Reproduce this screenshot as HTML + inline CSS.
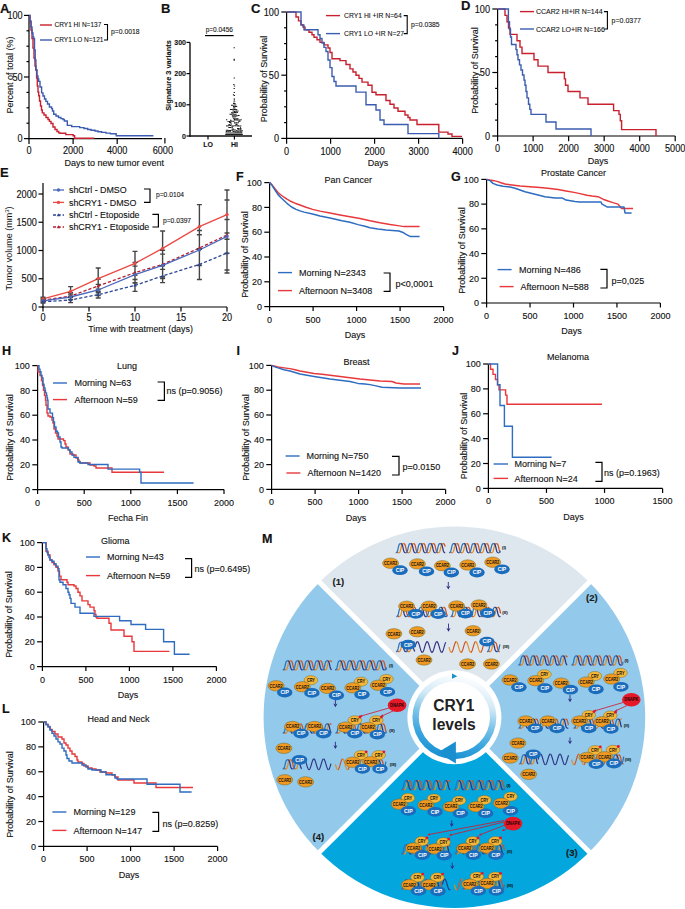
<!DOCTYPE html><html><head><meta charset="utf-8"><style>html,body{margin:0;padding:0;background:#fff;}svg{display:block;}</style></head><body>
<svg width="685" height="909" viewBox="0 0 685 909" font-family='"Liberation Sans", sans-serif'>
<rect width="685" height="909" fill="#fff"/>
<text x="262" y="543.1" font-size="12.5" text-anchor="start" font-weight="bold" fill="#111" stroke="#111" stroke-width="0.17">M</text>
<path d="M454.4 717.2L319.48 582.28A190.8 190.8 0 0 1 589.32 582.28Z" fill="#dfe7ee"/>
<path d="M454.4 717.2L589.32 582.28A190.8 190.8 0 0 1 589.32 852.12Z" fill="#93c9ea"/>
<path d="M454.4 717.2L589.32 852.12A190.8 190.8 0 0 1 319.48 852.12Z" fill="#03a6dd"/>
<path d="M454.4 717.2L319.48 852.12A190.8 190.8 0 0 1 319.48 582.28Z" fill="#93c9ea"/>
<line x1="454.4" y1="717.2" x2="590.73" y2="853.53" stroke="#fff" stroke-width="5"/>
<line x1="454.4" y1="717.2" x2="318.07" y2="853.53" stroke="#fff" stroke-width="5"/>
<line x1="454.4" y1="717.2" x2="318.07" y2="580.87" stroke="#fff" stroke-width="5"/>
<line x1="454.4" y1="717.2" x2="590.73" y2="580.87" stroke="#fff" stroke-width="5"/>
<path d="M398.5 552.8 L398.91 552.74 L399.32 552.56 L399.74 552.18 L400.15 551.43 L400.56 550.11 L400.98 548.2 L401.39 546.29 L401.8 544.97 L402.21 544.22 L402.62 543.84 L403.04 543.66 L403.45 543.6M408.4 552.8 L408.81 552.74 L409.22 552.56 L409.64 552.18 L410.05 551.43 L410.46 550.11 L410.88 548.2 L411.29 546.29 L411.7 544.97 L412.11 544.22 L412.52 543.84 L412.94 543.66 L413.35 543.6M418.3 552.8 L418.71 552.74 L419.12 552.56 L419.54 552.18 L419.95 551.43 L420.36 550.11 L420.77 548.2 L421.19 546.29 L421.6 544.97 L422.01 544.22 L422.43 543.84 L422.84 543.66 L423.25 543.6M428.2 552.8 L428.61 552.74 L429.02 552.56 L429.44 552.18 L429.85 551.43 L430.26 550.11 L430.67 548.2 L431.09 546.29 L431.5 544.97 L431.91 544.22 L432.32 543.84 L432.74 543.66 L433.15 543.6M438.1 552.8 L438.51 552.74 L438.93 552.56 L439.34 552.18 L439.75 551.43 L440.16 550.11 L440.58 548.2 L440.99 546.29 L441.4 544.97 L441.81 544.22 L442.23 543.84 L442.64 543.66 L443.05 543.6" fill="none" stroke="#e58c1d" stroke-width="1.25"/>
<path d="M396.9 551.55 L397.3 552.22 L397.7 552.58 L398.1 552.75 L398.5 552.8M403.45 543.6 L403.86 543.66 L404.27 543.84 L404.69 544.22 L405.1 544.97 L405.51 546.29 L405.92 548.2 L406.34 550.11 L406.75 551.43 L407.16 552.18 L407.57 552.56 L407.99 552.74 L408.4 552.8M413.35 543.6 L413.76 543.66 L414.18 543.84 L414.59 544.22 L415 544.97 L415.41 546.29 L415.83 548.2 L416.24 550.11 L416.65 551.43 L417.06 552.18 L417.48 552.56 L417.89 552.74 L418.3 552.8M423.25 543.6 L423.66 543.66 L424.07 543.84 L424.49 544.22 L424.9 544.97 L425.31 546.29 L425.73 548.2 L426.14 550.11 L426.55 551.43 L426.96 552.18 L427.38 552.56 L427.79 552.74 L428.2 552.8M433.15 543.6 L433.56 543.66 L433.97 543.84 L434.39 544.22 L434.8 544.97 L435.21 546.29 L435.62 548.2 L436.04 550.11 L436.45 551.43 L436.86 552.18 L437.27 552.56 L437.69 552.74 L438.1 552.8M443.05 543.6 L443.48 543.66 L443.91 543.86 L444.34 544.29 L444.77 545.14 L445.2 546.66" fill="none" stroke="#c8532a" stroke-width="1.25"/>
<path d="M395.7 552.8 L396.11 552.74 L396.52 552.56 L396.94 552.18 L397.35 551.43 L397.76 550.11 L398.17 548.2 L398.59 546.29 L399 544.97 L399.41 544.22 L399.82 543.84 L400.24 543.66 L400.65 543.6M405.6 552.8 L406.01 552.74 L406.42 552.56 L406.84 552.18 L407.25 551.43 L407.66 550.11 L408.07 548.2 L408.49 546.29 L408.9 544.97 L409.31 544.22 L409.72 543.84 L410.14 543.66 L410.55 543.6M415.5 552.8 L415.91 552.74 L416.32 552.56 L416.74 552.18 L417.15 551.43 L417.56 550.11 L417.98 548.2 L418.39 546.29 L418.8 544.97 L419.21 544.22 L419.62 543.84 L420.04 543.66 L420.45 543.6M425.4 552.8 L425.81 552.74 L426.22 552.56 L426.64 552.18 L427.05 551.43 L427.46 550.11 L427.88 548.2 L428.29 546.29 L428.7 544.97 L429.11 544.22 L429.52 543.84 L429.94 543.66 L430.35 543.6M435.3 552.8 L435.71 552.74 L436.12 552.56 L436.54 552.18 L436.95 551.43 L437.36 550.11 L437.77 548.2 L438.19 546.29 L438.6 544.97 L439.01 544.22 L439.43 543.84 L439.84 543.66 L440.25 543.6" fill="none" stroke="#2b74bd" stroke-width="1.25"/>
<path d="M400.65 543.6 L401.06 543.66 L401.47 543.84 L401.89 544.22 L402.3 544.97 L402.71 546.29 L403.12 548.2 L403.54 550.11 L403.95 551.43 L404.36 552.18 L404.77 552.56 L405.19 552.74 L405.6 552.8M410.55 543.6 L410.96 543.66 L411.38 543.84 L411.79 544.22 L412.2 544.97 L412.61 546.29 L413.02 548.2 L413.44 550.11 L413.85 551.43 L414.26 552.18 L414.68 552.56 L415.09 552.74 L415.5 552.8M420.45 543.6 L420.86 543.66 L421.27 543.84 L421.69 544.22 L422.1 544.97 L422.51 546.29 L422.92 548.2 L423.34 550.11 L423.75 551.43 L424.16 552.18 L424.57 552.56 L424.99 552.74 L425.4 552.8M430.35 543.6 L430.76 543.66 L431.17 543.84 L431.59 544.22 L432 544.97 L432.41 546.29 L432.82 548.2 L433.24 550.11 L433.65 551.43 L434.06 552.18 L434.47 552.56 L434.89 552.74 L435.3 552.8M440.25 543.6 L440.66 543.66 L441.07 543.84 L441.49 544.22 L441.9 544.97 L442.31 546.29 L442.73 548.2 L443.14 550.11 L443.55 551.43 L443.96 552.18 L444.38 552.56 L444.79 552.74 L445.2 552.8" fill="none" stroke="#2c3585" stroke-width="1.25"/>
<path d="M451.8 552.8 L452.21 552.74 L452.62 552.56 L453.04 552.18 L453.45 551.43 L453.86 550.11 L454.27 548.2 L454.69 546.29 L455.1 544.97 L455.51 544.22 L455.93 543.84 L456.34 543.66 L456.75 543.6M461.7 552.8 L462.11 552.74 L462.52 552.56 L462.94 552.18 L463.35 551.43 L463.76 550.11 L464.17 548.2 L464.59 546.29 L465 544.97 L465.41 544.22 L465.82 543.84 L466.24 543.66 L466.65 543.6M471.6 552.8 L472.01 552.74 L472.43 552.56 L472.84 552.18 L473.25 551.43 L473.66 550.11 L474.08 548.2 L474.49 546.29 L474.9 544.97 L475.31 544.22 L475.73 543.84 L476.14 543.66 L476.55 543.6M481.5 552.8 L481.91 552.74 L482.32 552.56 L482.74 552.18 L483.15 551.43 L483.56 550.11 L483.98 548.2 L484.39 546.29 L484.8 544.97 L485.21 544.22 L485.62 543.84 L486.04 543.66 L486.45 543.6M491.4 552.8 L491.81 552.74 L492.23 552.56 L492.64 552.18 L493.05 551.43 L493.46 550.11 L493.88 548.2 L494.29 546.29 L494.7 544.97 L495.11 544.22 L495.53 543.84 L495.94 543.66 L496.35 543.6" fill="none" stroke="#e58c1d" stroke-width="1.25"/>
<path d="M450.2 551.55 L450.6 552.22 L451 552.58 L451.4 552.75 L451.8 552.8M456.75 543.6 L457.16 543.66 L457.57 543.84 L457.99 544.22 L458.4 544.97 L458.81 546.29 L459.23 548.2 L459.64 550.11 L460.05 551.43 L460.46 552.18 L460.88 552.56 L461.29 552.74 L461.7 552.8M466.65 543.6 L467.06 543.66 L467.48 543.84 L467.89 544.22 L468.3 544.97 L468.71 546.29 L469.12 548.2 L469.54 550.11 L469.95 551.43 L470.36 552.18 L470.78 552.56 L471.19 552.74 L471.6 552.8M476.55 543.6 L476.96 543.66 L477.38 543.84 L477.79 544.22 L478.2 544.97 L478.61 546.29 L479.02 548.2 L479.44 550.11 L479.85 551.43 L480.26 552.18 L480.68 552.56 L481.09 552.74 L481.5 552.8M486.45 543.6 L486.86 543.66 L487.27 543.84 L487.69 544.22 L488.1 544.97 L488.51 546.29 L488.92 548.2 L489.34 550.11 L489.75 551.43 L490.16 552.18 L490.57 552.56 L490.99 552.74 L491.4 552.8M496.35 543.6 L496.75 543.65 L497.16 543.83 L497.56 544.2 L497.97 544.9 L498.38 546.14 L498.78 547.98 L499.19 549.89 L499.59 551.28 L500 552.08 L500.4 552.51" fill="none" stroke="#c8532a" stroke-width="1.25"/>
<path d="M449 552.8 L449.41 552.74 L449.82 552.56 L450.24 552.18 L450.65 551.43 L451.06 550.11 L451.48 548.2 L451.89 546.29 L452.3 544.97 L452.71 544.22 L453.12 543.84 L453.54 543.66 L453.95 543.6M458.9 552.8 L459.31 552.74 L459.72 552.56 L460.14 552.18 L460.55 551.43 L460.96 550.11 L461.38 548.2 L461.79 546.29 L462.2 544.97 L462.61 544.22 L463.02 543.84 L463.44 543.66 L463.85 543.6M468.8 552.8 L469.21 552.74 L469.62 552.56 L470.04 552.18 L470.45 551.43 L470.86 550.11 L471.27 548.2 L471.69 546.29 L472.1 544.97 L472.51 544.22 L472.93 543.84 L473.34 543.66 L473.75 543.6M478.7 552.8 L479.11 552.74 L479.52 552.56 L479.94 552.18 L480.35 551.43 L480.76 550.11 L481.17 548.2 L481.59 546.29 L482 544.97 L482.41 544.22 L482.82 543.84 L483.24 543.66 L483.65 543.6M488.6 552.8 L489.01 552.74 L489.43 552.56 L489.84 552.18 L490.25 551.43 L490.66 550.11 L491.08 548.2 L491.49 546.29 L491.9 544.97 L492.31 544.22 L492.73 543.84 L493.14 543.66 L493.55 543.6M498.5 552.8 L498.98 552.73 L499.45 552.47 L499.92 551.9 L500.4 550.71" fill="none" stroke="#2b74bd" stroke-width="1.25"/>
<path d="M453.95 543.6 L454.36 543.66 L454.77 543.84 L455.19 544.22 L455.6 544.97 L456.01 546.29 L456.42 548.2 L456.84 550.11 L457.25 551.43 L457.66 552.18 L458.07 552.56 L458.49 552.74 L458.9 552.8M463.85 543.6 L464.26 543.66 L464.68 543.84 L465.09 544.22 L465.5 544.97 L465.91 546.29 L466.33 548.2 L466.74 550.11 L467.15 551.43 L467.56 552.18 L467.98 552.56 L468.39 552.74 L468.8 552.8M473.75 543.6 L474.16 543.66 L474.57 543.84 L474.99 544.22 L475.4 544.97 L475.81 546.29 L476.23 548.2 L476.64 550.11 L477.05 551.43 L477.46 552.18 L477.88 552.56 L478.29 552.74 L478.7 552.8M483.65 543.6 L484.06 543.66 L484.47 543.84 L484.89 544.22 L485.3 544.97 L485.71 546.29 L486.12 548.2 L486.54 550.11 L486.95 551.43 L487.36 552.18 L487.77 552.56 L488.19 552.74 L488.6 552.8M493.55 543.6 L493.96 543.66 L494.38 543.84 L494.79 544.22 L495.2 544.97 L495.61 546.29 L496.02 548.2 L496.44 550.11 L496.85 551.43 L497.26 552.18 L497.68 552.56 L498.09 552.74 L498.5 552.8" fill="none" stroke="#2c3585" stroke-width="1.25"/>
<text x="504" y="549.08" font-size="4.4" text-anchor="middle" font-weight="bold" fill="#111" stroke="#111" stroke-width="0.06">(I)</text>
<g transform="translate(390.6,563.2)"><ellipse rx="8" ry="5.2" fill="#f09a22" stroke="#6d6a2a" stroke-width="0.5"/><text y="1.7" font-size="4.8" font-weight="bold" text-anchor="middle" fill="#111" textLength="13" lengthAdjust="spacingAndGlyphs">CCAR2</text></g>
<g transform="translate(400,570.2)"><ellipse rx="7.7" ry="4.9" fill="#1a6cbc"/><text y="1.8" font-size="5" font-weight="bold" text-anchor="middle" fill="#fff" textLength="8.6" lengthAdjust="spacingAndGlyphs">CIP</text></g>
<g transform="translate(417.4,563.9)"><ellipse rx="8" ry="5.2" fill="#f09a22" stroke="#6d6a2a" stroke-width="0.5"/><text y="1.7" font-size="4.8" font-weight="bold" text-anchor="middle" fill="#111" textLength="13" lengthAdjust="spacingAndGlyphs">CCAR2</text></g>
<g transform="translate(426.5,571.4)"><ellipse rx="7.7" ry="4.9" fill="#1a6cbc"/><text y="1.8" font-size="5" font-weight="bold" text-anchor="middle" fill="#fff" textLength="8.6" lengthAdjust="spacingAndGlyphs">CIP</text></g>
<g transform="translate(442.4,565.7)"><ellipse rx="8" ry="5.2" fill="#f09a22" stroke="#6d6a2a" stroke-width="0.5"/><text y="1.7" font-size="4.8" font-weight="bold" text-anchor="middle" fill="#111" textLength="13" lengthAdjust="spacingAndGlyphs">CCAR2</text></g>
<g transform="translate(451.3,572.5)"><ellipse rx="7.7" ry="4.9" fill="#1a6cbc"/><text y="1.8" font-size="5" font-weight="bold" text-anchor="middle" fill="#fff" textLength="8.6" lengthAdjust="spacingAndGlyphs">CIP</text></g>
<g transform="translate(467.7,565)"><ellipse rx="8" ry="5.2" fill="#f09a22" stroke="#6d6a2a" stroke-width="0.5"/><text y="1.7" font-size="4.8" font-weight="bold" text-anchor="middle" fill="#111" textLength="13" lengthAdjust="spacingAndGlyphs">CCAR2</text></g>
<g transform="translate(477,572.5)"><ellipse rx="7.7" ry="4.9" fill="#1a6cbc"/><text y="1.8" font-size="5" font-weight="bold" text-anchor="middle" fill="#fff" textLength="8.6" lengthAdjust="spacingAndGlyphs">CIP</text></g>
<g transform="translate(492.7,562.2)"><ellipse rx="8" ry="5.2" fill="#f09a22" stroke="#6d6a2a" stroke-width="0.5"/><text y="1.7" font-size="4.8" font-weight="bold" text-anchor="middle" fill="#111" textLength="13" lengthAdjust="spacingAndGlyphs">CCAR2</text></g>
<g transform="translate(502,569.3)"><ellipse rx="7.7" ry="4.9" fill="#1a6cbc"/><text y="1.8" font-size="5" font-weight="bold" text-anchor="middle" fill="#fff" textLength="8.6" lengthAdjust="spacingAndGlyphs">CIP</text></g>
<line x1="448.3" y1="581.9" x2="448.3" y2="586.6" stroke="#2d2a86" stroke-width="0.9"/>
<path d="M448.3 589.6l-2.1 -3.8l2.1 1l2.1 -1z" fill="#2d2a86"/>
<path d="M399.1 616.6 L399.51 616.54 L399.93 616.36 L400.34 615.98 L400.75 615.23 L401.16 613.91 L401.58 612 L401.99 610.09 L402.4 608.77 L402.81 608.02 L403.23 607.64 L403.64 607.46 L404.05 607.4M409 616.6 L409.41 616.54 L409.82 616.36 L410.24 615.98 L410.65 615.23 L411.06 613.91 L411.48 612 L411.89 610.09 L412.3 608.77 L412.71 608.02 L413.12 607.64 L413.54 607.46 L413.95 607.4M418.9 616.6 L419.31 616.54 L419.73 616.36 L420.14 615.98 L420.55 615.23 L420.96 613.91 L421.38 612 L421.79 610.09 L422.2 608.77 L422.61 608.02 L423.03 607.64 L423.44 607.46 L423.85 607.4M428.8 616.6 L429.21 616.54 L429.62 616.36 L430.04 615.98 L430.45 615.23 L430.86 613.91 L431.27 612 L431.69 610.09 L432.1 608.77 L432.51 608.02 L432.93 607.64 L433.34 607.46 L433.75 607.4M438.7 616.6 L439.11 616.54 L439.53 616.36 L439.94 615.98 L440.35 615.23 L440.76 613.91 L441.18 612 L441.59 610.09 L442 608.77 L442.41 608.02 L442.83 607.64 L443.24 607.46 L443.65 607.4" fill="none" stroke="#e58c1d" stroke-width="1.25"/>
<path d="M397.5 615.35 L397.9 616.02 L398.3 616.38 L398.7 616.55 L399.1 616.6M404.05 607.4 L404.46 607.46 L404.88 607.64 L405.29 608.02 L405.7 608.77 L406.11 610.09 L406.52 612 L406.94 613.91 L407.35 615.23 L407.76 615.98 L408.18 616.36 L408.59 616.54 L409 616.6M413.95 607.4 L414.36 607.46 L414.78 607.64 L415.19 608.02 L415.6 608.77 L416.01 610.09 L416.43 612 L416.84 613.91 L417.25 615.23 L417.66 615.98 L418.08 616.36 L418.49 616.54 L418.9 616.6M423.85 607.4 L424.26 607.46 L424.68 607.64 L425.09 608.02 L425.5 608.77 L425.91 610.09 L426.33 612 L426.74 613.91 L427.15 615.23 L427.56 615.98 L427.98 616.36 L428.39 616.54 L428.8 616.6M433.75 607.4 L434.16 607.46 L434.57 607.64 L434.99 608.02 L435.4 608.77 L435.81 610.09 L436.23 612 L436.64 613.91 L437.05 615.23 L437.46 615.98 L437.88 616.36 L438.29 616.54 L438.7 616.6M443.65 607.4 L444.07 607.46 L444.48 607.65 L444.9 608.04 L445.32 608.81 L445.73 610.18 L446.15 612.12 L446.57 614.02 L446.98 615.31 L447.4 616.02" fill="none" stroke="#c8532a" stroke-width="1.25"/>
<path d="M396.3 616.6 L396.71 616.54 L397.12 616.36 L397.54 615.98 L397.95 615.23 L398.36 613.91 L398.77 612 L399.19 610.09 L399.6 608.77 L400.01 608.02 L400.43 607.64 L400.84 607.46 L401.25 607.4M406.2 616.6 L406.61 616.54 L407.02 616.36 L407.44 615.98 L407.85 615.23 L408.26 613.91 L408.67 612 L409.09 610.09 L409.5 608.77 L409.91 608.02 L410.32 607.64 L410.74 607.46 L411.15 607.4M416.1 616.6 L416.51 616.54 L416.93 616.36 L417.34 615.98 L417.75 615.23 L418.16 613.91 L418.58 612 L418.99 610.09 L419.4 608.77 L419.81 608.02 L420.23 607.64 L420.64 607.46 L421.05 607.4M426 616.6 L426.41 616.54 L426.82 616.36 L427.24 615.98 L427.65 615.23 L428.06 613.91 L428.48 612 L428.89 610.09 L429.3 608.77 L429.71 608.02 L430.12 607.64 L430.54 607.46 L430.95 607.4M435.9 616.6 L436.31 616.54 L436.73 616.36 L437.14 615.98 L437.55 615.23 L437.96 613.91 L438.38 612 L438.79 610.09 L439.2 608.77 L439.61 608.02 L440.03 607.64 L440.44 607.46 L440.85 607.4M445.8 616.6 L446.33 616.51 L446.87 616.17 L447.4 615.35" fill="none" stroke="#2b74bd" stroke-width="1.25"/>
<path d="M401.25 607.4 L401.66 607.46 L402.07 607.64 L402.49 608.02 L402.9 608.77 L403.31 610.09 L403.73 612 L404.14 613.91 L404.55 615.23 L404.96 615.98 L405.38 616.36 L405.79 616.54 L406.2 616.6M411.15 607.4 L411.56 607.46 L411.98 607.64 L412.39 608.02 L412.8 608.77 L413.21 610.09 L413.62 612 L414.04 613.91 L414.45 615.23 L414.86 615.98 L415.28 616.36 L415.69 616.54 L416.1 616.6M421.05 607.4 L421.46 607.46 L421.88 607.64 L422.29 608.02 L422.7 608.77 L423.11 610.09 L423.52 612 L423.94 613.91 L424.35 615.23 L424.76 615.98 L425.18 616.36 L425.59 616.54 L426 616.6M430.95 607.4 L431.36 607.46 L431.77 607.64 L432.19 608.02 L432.6 608.77 L433.01 610.09 L433.42 612 L433.84 613.91 L434.25 615.23 L434.66 615.98 L435.07 616.36 L435.49 616.54 L435.9 616.6M440.85 607.4 L441.26 607.46 L441.68 607.64 L442.09 608.02 L442.5 608.77 L442.91 610.09 L443.33 612 L443.74 613.91 L444.15 615.23 L444.56 615.98 L444.98 616.36 L445.39 616.54 L445.8 616.6" fill="none" stroke="#2c3585" stroke-width="1.25"/>
<path d="M453.3 616.6 L453.71 616.54 L454.12 616.36 L454.54 615.98 L454.95 615.23 L455.36 613.91 L455.77 612 L456.19 610.09 L456.6 608.77 L457.01 608.02 L457.43 607.64 L457.84 607.46 L458.25 607.4M463.2 616.6 L463.61 616.54 L464.02 616.36 L464.44 615.98 L464.85 615.23 L465.26 613.91 L465.67 612 L466.09 610.09 L466.5 608.77 L466.91 608.02 L467.32 607.64 L467.74 607.46 L468.15 607.4M473.1 616.6 L473.51 616.54 L473.93 616.36 L474.34 615.98 L474.75 615.23 L475.16 613.91 L475.58 612 L475.99 610.09 L476.4 608.77 L476.81 608.02 L477.23 607.64 L477.64 607.46 L478.05 607.4M483 616.6 L483.41 616.54 L483.82 616.36 L484.24 615.98 L484.65 615.23 L485.06 613.91 L485.48 612 L485.89 610.09 L486.3 608.77 L486.71 608.02 L487.12 607.64 L487.54 607.46 L487.95 607.4M492.9 616.6 L493.31 616.54 L493.73 616.36 L494.14 615.98 L494.55 615.23 L494.96 613.91 L495.38 612 L495.79 610.09 L496.2 608.77 L496.61 608.02 L497.03 607.64 L497.44 607.46 L497.85 607.4" fill="none" stroke="#e58c1d" stroke-width="1.25"/>
<path d="M451.7 615.35 L452.1 616.02 L452.5 616.38 L452.9 616.55 L453.3 616.6M458.25 607.4 L458.66 607.46 L459.07 607.64 L459.49 608.02 L459.9 608.77 L460.31 610.09 L460.73 612 L461.14 613.91 L461.55 615.23 L461.96 615.98 L462.38 616.36 L462.79 616.54 L463.2 616.6M468.15 607.4 L468.56 607.46 L468.98 607.64 L469.39 608.02 L469.8 608.77 L470.21 610.09 L470.62 612 L471.04 613.91 L471.45 615.23 L471.86 615.98 L472.28 616.36 L472.69 616.54 L473.1 616.6M478.05 607.4 L478.46 607.46 L478.88 607.64 L479.29 608.02 L479.7 608.77 L480.11 610.09 L480.52 612 L480.94 613.91 L481.35 615.23 L481.76 615.98 L482.18 616.36 L482.59 616.54 L483 616.6M487.95 607.4 L488.36 607.46 L488.77 607.64 L489.19 608.02 L489.6 608.77 L490.01 610.09 L490.42 612 L490.84 613.91 L491.25 615.23 L491.66 615.98 L492.07 616.36 L492.49 616.54 L492.9 616.6M497.85 607.4 L498.31 607.47 L498.77 607.7 L499.23 608.22 L499.68 609.27 L500.14 611.11 L500.6 613.32" fill="none" stroke="#c8532a" stroke-width="1.25"/>
<path d="M450.5 616.6 L450.91 616.54 L451.32 616.36 L451.74 615.98 L452.15 615.23 L452.56 613.91 L452.98 612 L453.39 610.09 L453.8 608.77 L454.21 608.02 L454.62 607.64 L455.04 607.46 L455.45 607.4M460.4 616.6 L460.81 616.54 L461.22 616.36 L461.64 615.98 L462.05 615.23 L462.46 613.91 L462.88 612 L463.29 610.09 L463.7 608.77 L464.11 608.02 L464.52 607.64 L464.94 607.46 L465.35 607.4M470.3 616.6 L470.71 616.54 L471.12 616.36 L471.54 615.98 L471.95 615.23 L472.36 613.91 L472.77 612 L473.19 610.09 L473.6 608.77 L474.01 608.02 L474.43 607.64 L474.84 607.46 L475.25 607.4M480.2 616.6 L480.61 616.54 L481.02 616.36 L481.44 615.98 L481.85 615.23 L482.26 613.91 L482.67 612 L483.09 610.09 L483.5 608.77 L483.91 608.02 L484.32 607.64 L484.74 607.46 L485.15 607.4M490.1 616.6 L490.51 616.54 L490.93 616.36 L491.34 615.98 L491.75 615.23 L492.16 613.91 L492.58 612 L492.99 610.09 L493.4 608.77 L493.81 608.02 L494.23 607.64 L494.64 607.46 L495.05 607.4M500 616.6 L500.3 616.57 L500.6 616.48" fill="none" stroke="#2b74bd" stroke-width="1.25"/>
<path d="M455.45 607.4 L455.86 607.46 L456.27 607.64 L456.69 608.02 L457.1 608.77 L457.51 610.09 L457.92 612 L458.34 613.91 L458.75 615.23 L459.16 615.98 L459.57 616.36 L459.99 616.54 L460.4 616.6M465.35 607.4 L465.76 607.46 L466.18 607.64 L466.59 608.02 L467 608.77 L467.41 610.09 L467.83 612 L468.24 613.91 L468.65 615.23 L469.06 615.98 L469.48 616.36 L469.89 616.54 L470.3 616.6M475.25 607.4 L475.66 607.46 L476.07 607.64 L476.49 608.02 L476.9 608.77 L477.31 610.09 L477.73 612 L478.14 613.91 L478.55 615.23 L478.96 615.98 L479.38 616.36 L479.79 616.54 L480.2 616.6M485.15 607.4 L485.56 607.46 L485.97 607.64 L486.39 608.02 L486.8 608.77 L487.21 610.09 L487.62 612 L488.04 613.91 L488.45 615.23 L488.86 615.98 L489.27 616.36 L489.69 616.54 L490.1 616.6M495.05 607.4 L495.46 607.46 L495.88 607.64 L496.29 608.02 L496.7 608.77 L497.11 610.09 L497.52 612 L497.94 613.91 L498.35 615.23 L498.76 615.98 L499.18 616.36 L499.59 616.54 L500 616.6" fill="none" stroke="#2c3585" stroke-width="1.25"/>
<text x="505" y="613.58" font-size="4.4" text-anchor="middle" font-weight="bold" fill="#111" stroke="#111" stroke-width="0.06">(II)</text>
<g transform="translate(406.6,606.2)"><ellipse rx="8" ry="5.2" fill="#f09a22" stroke="#6d6a2a" stroke-width="0.5"/><text y="1.7" font-size="4.8" font-weight="bold" text-anchor="middle" fill="#111" textLength="13" lengthAdjust="spacingAndGlyphs">CCAR2</text></g>
<g transform="translate(429,606.2)"><ellipse rx="8" ry="5.2" fill="#f09a22" stroke="#6d6a2a" stroke-width="0.5"/><text y="1.7" font-size="4.8" font-weight="bold" text-anchor="middle" fill="#111" textLength="13" lengthAdjust="spacingAndGlyphs">CCAR2</text></g>
<g transform="translate(456.6,606)"><ellipse rx="8" ry="5.2" fill="#f09a22" stroke="#6d6a2a" stroke-width="0.5"/><text y="1.7" font-size="4.8" font-weight="bold" text-anchor="middle" fill="#111" textLength="13" lengthAdjust="spacingAndGlyphs">CCAR2</text></g>
<g transform="translate(479,605)"><ellipse rx="8" ry="5.2" fill="#f09a22" stroke="#6d6a2a" stroke-width="0.5"/><text y="1.7" font-size="4.8" font-weight="bold" text-anchor="middle" fill="#111" textLength="13" lengthAdjust="spacingAndGlyphs">CCAR2</text></g>
<g transform="translate(415.8,613.8)"><ellipse rx="7.7" ry="4.9" fill="#1a6cbc"/><text y="1.8" font-size="5" font-weight="bold" text-anchor="middle" fill="#fff" textLength="8.6" lengthAdjust="spacingAndGlyphs">CIP</text></g>
<g transform="translate(438.2,614)"><ellipse rx="7.7" ry="4.9" fill="#1a6cbc"/><text y="1.8" font-size="5" font-weight="bold" text-anchor="middle" fill="#fff" textLength="8.6" lengthAdjust="spacingAndGlyphs">CIP</text></g>
<g transform="translate(465.4,613.6)"><ellipse rx="7.7" ry="4.9" fill="#1a6cbc"/><text y="1.8" font-size="5" font-weight="bold" text-anchor="middle" fill="#fff" textLength="8.6" lengthAdjust="spacingAndGlyphs">CIP</text></g>
<g transform="translate(487.7,613)"><ellipse rx="7.7" ry="4.9" fill="#1a6cbc"/><text y="1.8" font-size="5" font-weight="bold" text-anchor="middle" fill="#fff" textLength="8.6" lengthAdjust="spacingAndGlyphs">CIP</text></g>
<line x1="448.5" y1="623.6" x2="448.5" y2="628.8" stroke="#2d2a86" stroke-width="0.9"/>
<path d="M448.5 631.8l-2.1 -3.8l2.1 1l2.1 -1z" fill="#2d2a86"/>
<path d="M398.8 651.6 L399.21 651.54 L399.62 651.36 L400.04 650.98 L400.45 650.23 L400.86 648.91 L401.27 647 L401.69 645.09 L402.1 643.77 L402.51 643.02 L402.93 642.64 L403.34 642.46 L403.75 642.4M408.7 651.6 L409.11 651.54 L409.52 651.36 L409.94 650.98 L410.35 650.23 L410.76 648.91 L411.17 647 L411.59 645.09 L412 643.77 L412.41 643.02 L412.82 642.64 L413.24 642.46 L413.65 642.4" fill="none" stroke="#e58c1d" stroke-width="1.25"/>
<path d="M397.2 650.35 L397.6 651.02 L398 651.38 L398.4 651.55 L398.8 651.6M403.75 642.4 L404.16 642.46 L404.57 642.64 L404.99 643.02 L405.4 643.77 L405.81 645.09 L406.23 647 L406.64 648.91 L407.05 650.23 L407.46 650.98 L407.88 651.36 L408.29 651.54 L408.7 651.6M413.65 642.4 L414.1 642.47 L414.55 642.69 L415 643.18" fill="none" stroke="#c8532a" stroke-width="1.25"/>
<path d="M396 651.6 L396.41 651.54 L396.82 651.36 L397.24 650.98 L397.65 650.23 L398.06 648.91 L398.48 647 L398.89 645.09 L399.3 643.77 L399.71 643.02 L400.12 642.64 L400.54 642.46 L400.95 642.4M405.9 651.6 L406.31 651.54 L406.72 651.36 L407.14 650.98 L407.55 650.23 L407.96 648.91 L408.38 647 L408.79 645.09 L409.2 643.77 L409.61 643.02 L410.02 642.64 L410.44 642.46 L410.85 642.4" fill="none" stroke="#2b74bd" stroke-width="1.25"/>
<path d="M400.95 642.4 L401.36 642.46 L401.77 642.64 L402.19 643.02 L402.6 643.77 L403.01 645.09 L403.42 647 L403.84 648.91 L404.25 650.23 L404.66 650.98 L405.07 651.36 L405.49 651.54 L405.9 651.6M410.85 642.4 L411.27 642.46 L411.68 642.64 L412.1 643.03 L412.51 643.79 L412.93 645.14 L413.34 647.07 L413.75 648.98 L414.17 650.28 L414.58 651 L415 651.38" fill="none" stroke="#2c3585" stroke-width="1.25"/>
<path d="M415 647.09 L415.41 645.67 L415.82 644.35 L416.23 643.21 L416.63 642.34 L417.04 641.79 L417.45 641.6M422.3 652.4 L422.7 652.22 L423.11 651.68 L423.51 650.82 L423.92 649.7 L424.32 648.4 L424.73 647 L425.13 645.6 L425.53 644.3 L425.94 643.18 L426.34 642.32 L426.75 641.78 L427.15 641.6M432 652.4 L432.4 652.22 L432.81 651.68 L433.21 650.82 L433.62 649.7 L434.02 648.4 L434.43 647 L434.83 645.6 L435.23 644.3 L435.64 643.18 L436.04 642.32 L436.45 641.78 L436.85 641.6M441.7 652.4 L442.11 652.21 L442.52 651.66 L442.93 650.77 L443.34 649.63 L443.75 648.3 L444.16 646.88 L444.57 645.46 L444.98 644.16 L445.39 643.05 L445.8 642.22" fill="none" stroke="#2c3585" stroke-width="1.15"/>
<path d="M417.45 641.6 L417.85 641.78 L418.26 642.32 L418.66 643.18 L419.07 644.3 L419.47 645.6 L419.88 647 L420.28 648.4 L420.68 649.7 L421.09 650.82 L421.49 651.68 L421.9 652.22 L422.3 652.4M427.15 641.6 L427.55 641.78 L427.96 642.32 L428.36 643.18 L428.77 644.3 L429.17 645.6 L429.58 647 L429.98 648.4 L430.38 649.7 L430.79 650.82 L431.19 651.68 L431.6 652.22 L432 652.4M436.85 641.6 L437.25 641.78 L437.66 642.32 L438.06 643.18 L438.47 644.3 L438.87 645.6 L439.28 647 L439.68 648.4 L440.08 649.7 L440.49 650.82 L440.89 651.68 L441.3 652.22 L441.7 652.4" fill="none" stroke="#2c3585" stroke-width="1.15"/>
<path d="M451.4 652.4 L451.8 652.22 L452.21 651.68 L452.61 650.82 L453.02 649.7 L453.42 648.4 L453.82 647 L454.23 645.6 L454.63 644.3 L455.04 643.18 L455.44 642.32 L455.85 641.78 L456.25 641.6M461.1 652.4 L461.5 652.22 L461.91 651.68 L462.31 650.82 L462.72 649.7 L463.12 648.4 L463.52 647 L463.93 645.6 L464.33 644.3 L464.74 643.18 L465.14 642.32 L465.55 641.78 L465.95 641.6M470.8 652.4 L471.2 652.22 L471.61 651.68 L472.01 650.82 L472.42 649.7 L472.82 648.4 L473.22 647 L473.63 645.6 L474.03 644.3 L474.44 643.18 L474.84 642.32 L475.25 641.78 L475.65 641.6M480.5 652.4 L480.9 652.22 L481.31 651.68 L481.71 650.82 L482.12 649.7 L482.52 648.4 L482.93 647 L483.33 645.6 L483.73 644.3 L484.14 643.18 L484.54 642.32 L484.95 641.78 L485.35 641.6" fill="none" stroke="#c8532a" stroke-width="1.15"/>
<path d="M449 647.09 L449.48 648.74 L449.96 650.22 L450.44 651.39 L450.92 652.14 L451.4 652.4M456.25 641.6 L456.65 641.78 L457.06 642.32 L457.46 643.18 L457.87 644.3 L458.27 645.6 L458.68 647 L459.08 648.4 L459.48 649.7 L459.89 650.82 L460.29 651.68 L460.7 652.22 L461.1 652.4M465.95 641.6 L466.35 641.78 L466.76 642.32 L467.16 643.18 L467.57 644.3 L467.97 645.6 L468.38 647 L468.78 648.4 L469.18 649.7 L469.59 650.82 L469.99 651.68 L470.4 652.22 L470.8 652.4M475.65 641.6 L476.05 641.78 L476.46 642.32 L476.86 643.18 L477.27 644.3 L477.67 645.6 L478.07 647 L478.48 648.4 L478.88 649.7 L479.29 650.82 L479.69 651.68 L480.1 652.22 L480.5 652.4M485.35 641.6 L485.76 641.79 L486.17 642.35 L486.59 643.24 L487 644.4" fill="none" stroke="#e58c1d" stroke-width="1.15"/>
<path d="M489.8 651.6 L490.21 651.54 L490.62 651.36 L491.04 650.98 L491.45 650.23 L491.86 648.91 L492.27 647 L492.69 645.09 L493.1 643.77 L493.51 643.02 L493.93 642.64 L494.34 642.46 L494.75 642.4M499.7 651.6 L499.85 651.59 L500 651.57" fill="none" stroke="#e58c1d" stroke-width="1.25"/>
<path d="M488.2 650.35 L488.6 651.02 L489 651.38 L489.4 651.55 L489.8 651.6M494.75 642.4 L495.16 642.46 L495.57 642.64 L495.99 643.02 L496.4 643.77 L496.81 645.09 L497.23 647 L497.64 648.91 L498.05 650.23 L498.46 650.98 L498.88 651.36 L499.29 651.54 L499.7 651.6" fill="none" stroke="#c8532a" stroke-width="1.25"/>
<path d="M487 651.6 L487.41 651.54 L487.82 651.36 L488.24 650.98 L488.65 650.23 L489.06 648.91 L489.48 647 L489.89 645.09 L490.3 643.77 L490.71 643.02 L491.12 642.64 L491.54 642.46 L491.95 642.4M496.9 651.6 L497.34 651.54 L497.79 651.32 L498.23 650.85 L498.67 649.91 L499.11 648.25 L499.56 646.11 L500 644.32" fill="none" stroke="#2b74bd" stroke-width="1.25"/>
<path d="M491.95 642.4 L492.36 642.46 L492.77 642.64 L493.19 643.02 L493.6 643.77 L494.01 645.09 L494.42 647 L494.84 648.91 L495.25 650.23 L495.66 650.98 L496.07 651.36 L496.49 651.54 L496.9 651.6" fill="none" stroke="#2c3585" stroke-width="1.25"/>
<text x="506" y="648.08" font-size="4.4" text-anchor="middle" font-weight="bold" fill="#111" stroke="#111" stroke-width="0.06">(III)</text>
<g transform="translate(393.9,633.8)"><ellipse rx="8" ry="5.2" fill="#f09a22" stroke="#6d6a2a" stroke-width="0.5"/><text y="1.7" font-size="4.8" font-weight="bold" text-anchor="middle" fill="#111" textLength="13" lengthAdjust="spacingAndGlyphs">CCAR2</text></g>
<g transform="translate(417.2,631.8)"><ellipse rx="8" ry="5.2" fill="#f09a22" stroke="#6d6a2a" stroke-width="0.5"/><text y="1.7" font-size="4.8" font-weight="bold" text-anchor="middle" fill="#111" textLength="13" lengthAdjust="spacingAndGlyphs">CCAR2</text></g>
<g transform="translate(473,630.8)"><ellipse rx="8" ry="5.2" fill="#f09a22" stroke="#6d6a2a" stroke-width="0.5"/><text y="1.7" font-size="4.8" font-weight="bold" text-anchor="middle" fill="#111" textLength="13" lengthAdjust="spacingAndGlyphs">CCAR2</text></g>
<g transform="translate(424,660)"><ellipse rx="8" ry="5.2" fill="#f09a22" stroke="#6d6a2a" stroke-width="0.5"/><text y="1.7" font-size="4.8" font-weight="bold" text-anchor="middle" fill="#111" textLength="13" lengthAdjust="spacingAndGlyphs">CCAR2</text></g>
<g transform="translate(467.5,664)"><ellipse rx="8" ry="5.2" fill="#f09a22" stroke="#6d6a2a" stroke-width="0.5"/><text y="1.7" font-size="4.8" font-weight="bold" text-anchor="middle" fill="#111" textLength="13" lengthAdjust="spacingAndGlyphs">CCAR2</text></g>
<g transform="translate(491.4,664)"><ellipse rx="8" ry="5.2" fill="#f09a22" stroke="#6d6a2a" stroke-width="0.5"/><text y="1.7" font-size="4.8" font-weight="bold" text-anchor="middle" fill="#111" textLength="13" lengthAdjust="spacingAndGlyphs">CCAR2</text></g>
<g transform="translate(408.2,644.7)"><ellipse rx="7.7" ry="4.9" fill="#1a6cbc"/><text y="1.8" font-size="5" font-weight="bold" text-anchor="middle" fill="#fff" textLength="8.6" lengthAdjust="spacingAndGlyphs">CIP</text></g>
<g transform="translate(486.9,641.6)"><ellipse rx="7.7" ry="4.9" fill="#1a6cbc"/><text y="1.8" font-size="5" font-weight="bold" text-anchor="middle" fill="#fff" textLength="8.6" lengthAdjust="spacingAndGlyphs">CIP</text></g>
<text x="332.5" y="584.72" font-size="9.5" text-anchor="start" font-weight="bold" fill="#1a1a1a" stroke="#1a1a1a" stroke-width="0.13">(1)</text>
<path d="M521.1 665.1 L521.51 665.04 L521.92 664.86 L522.34 664.48 L522.75 663.73 L523.16 662.41 L523.57 660.5 L523.99 658.59 L524.4 657.27 L524.81 656.52 L525.22 656.14 L525.64 655.96 L526.05 655.9M531 665.1 L531.41 665.04 L531.82 664.86 L532.24 664.48 L532.65 663.73 L533.06 662.41 L533.47 660.5 L533.89 658.59 L534.3 657.27 L534.71 656.52 L535.12 656.14 L535.54 655.96 L535.95 655.9M540.9 665.1 L541.31 665.04 L541.72 664.86 L542.14 664.48 L542.55 663.73 L542.96 662.41 L543.37 660.5 L543.79 658.59 L544.2 657.27 L544.61 656.52 L545.02 656.14 L545.44 655.96 L545.85 655.9M550.8 665.1 L551.21 665.04 L551.62 664.86 L552.04 664.48 L552.45 663.73 L552.86 662.41 L553.27 660.5 L553.69 658.59 L554.1 657.27 L554.51 656.52 L554.92 656.14 L555.34 655.96 L555.75 655.9M560.7 665.1 L561.11 665.04 L561.52 664.86 L561.94 664.48 L562.35 663.73 L562.76 662.41 L563.17 660.5 L563.59 658.59 L564 657.27 L564.41 656.52 L564.82 656.14 L565.24 655.96 L565.65 655.9" fill="none" stroke="#e58c1d" stroke-width="1.25"/>
<path d="M519.5 663.85 L520.03 664.67 L520.57 665.01 L521.1 665.1M526.05 655.9 L526.46 655.96 L526.88 656.14 L527.29 656.52 L527.7 657.27 L528.11 658.59 L528.52 660.5 L528.94 662.41 L529.35 663.73 L529.76 664.48 L530.17 664.86 L530.59 665.04 L531 665.1M535.95 655.9 L536.36 655.96 L536.77 656.14 L537.19 656.52 L537.6 657.27 L538.01 658.59 L538.42 660.5 L538.84 662.41 L539.25 663.73 L539.66 664.48 L540.07 664.86 L540.49 665.04 L540.9 665.1M545.85 655.9 L546.26 655.96 L546.67 656.14 L547.09 656.52 L547.5 657.27 L547.91 658.59 L548.32 660.5 L548.74 662.41 L549.15 663.73 L549.56 664.48 L549.97 664.86 L550.39 665.04 L550.8 665.1M555.75 655.9 L556.16 655.96 L556.57 656.14 L556.99 656.52 L557.4 657.27 L557.81 658.59 L558.22 660.5 L558.64 662.41 L559.05 663.73 L559.46 664.48 L559.87 664.86 L560.29 665.04 L560.7 665.1M565.65 655.9 L566.06 655.96 L566.47 656.14 L566.89 656.52 L567.3 657.27" fill="none" stroke="#c8532a" stroke-width="1.25"/>
<path d="M518.3 665.1 L518.71 665.04 L519.12 664.86 L519.54 664.48 L519.95 663.73 L520.36 662.41 L520.77 660.5 L521.19 658.59 L521.6 657.27 L522.01 656.52 L522.42 656.14 L522.84 655.96 L523.25 655.9M528.2 665.1 L528.61 665.04 L529.02 664.86 L529.44 664.48 L529.85 663.73 L530.26 662.41 L530.67 660.5 L531.09 658.59 L531.5 657.27 L531.91 656.52 L532.32 656.14 L532.74 655.96 L533.15 655.9M538.1 665.1 L538.51 665.04 L538.92 664.86 L539.34 664.48 L539.75 663.73 L540.16 662.41 L540.57 660.5 L540.99 658.59 L541.4 657.27 L541.81 656.52 L542.22 656.14 L542.64 655.96 L543.05 655.9M548 665.1 L548.41 665.04 L548.83 664.86 L549.24 664.48 L549.65 663.73 L550.06 662.41 L550.48 660.5 L550.89 658.59 L551.3 657.27 L551.71 656.52 L552.12 656.14 L552.54 655.96 L552.95 655.9M557.9 665.1 L558.31 665.04 L558.73 664.86 L559.14 664.48 L559.55 663.73 L559.96 662.41 L560.38 660.5 L560.79 658.59 L561.2 657.27 L561.61 656.52 L562.02 656.14 L562.44 655.96 L562.85 655.9" fill="none" stroke="#2b74bd" stroke-width="1.25"/>
<path d="M523.25 655.9 L523.66 655.96 L524.08 656.14 L524.49 656.52 L524.9 657.27 L525.31 658.59 L525.73 660.5 L526.14 662.41 L526.55 663.73 L526.96 664.48 L527.38 664.86 L527.79 665.04 L528.2 665.1M533.15 655.9 L533.56 655.96 L533.98 656.14 L534.39 656.52 L534.8 657.27 L535.21 658.59 L535.62 660.5 L536.04 662.41 L536.45 663.73 L536.86 664.48 L537.27 664.86 L537.69 665.04 L538.1 665.1M543.05 655.9 L543.46 655.96 L543.88 656.14 L544.29 656.52 L544.7 657.27 L545.11 658.59 L545.52 660.5 L545.94 662.41 L546.35 663.73 L546.76 664.48 L547.17 664.86 L547.59 665.04 L548 665.1M552.95 655.9 L553.36 655.96 L553.77 656.14 L554.19 656.52 L554.6 657.27 L555.01 658.59 L555.42 660.5 L555.84 662.41 L556.25 663.73 L556.66 664.48 L557.07 664.86 L557.49 665.04 L557.9 665.1M562.85 655.9 L563.25 655.95 L563.66 656.13 L564.06 656.49 L564.47 657.19 L564.87 658.44 L565.28 660.26 L565.68 662.18 L566.09 663.57 L566.49 664.38 L566.9 664.8 L567.3 665.02" fill="none" stroke="#2c3585" stroke-width="1.25"/>
<path d="M574.2 665.1 L574.61 665.04 L575.02 664.86 L575.44 664.48 L575.85 663.73 L576.26 662.41 L576.67 660.5 L577.09 658.59 L577.5 657.27 L577.91 656.52 L578.32 656.14 L578.74 655.96 L579.15 655.9M584.1 665.1 L584.51 665.04 L584.92 664.86 L585.34 664.48 L585.75 663.73 L586.16 662.41 L586.57 660.5 L586.99 658.59 L587.4 657.27 L587.81 656.52 L588.22 656.14 L588.64 655.96 L589.05 655.9M594 665.1 L594.41 665.04 L594.82 664.86 L595.24 664.48 L595.65 663.73 L596.06 662.41 L596.47 660.5 L596.89 658.59 L597.3 657.27 L597.71 656.52 L598.12 656.14 L598.54 655.96 L598.95 655.9M603.9 665.1 L604.31 665.04 L604.73 664.86 L605.14 664.48 L605.55 663.73 L605.96 662.41 L606.38 660.5 L606.79 658.59 L607.2 657.27 L607.61 656.52 L608.02 656.14 L608.44 655.96 L608.85 655.9M613.8 665.1 L614.21 665.04 L614.62 664.86 L615.04 664.48 L615.45 663.73 L615.86 662.41 L616.27 660.5 L616.69 658.59 L617.1 657.27 L617.51 656.52 L617.92 656.14 L618.34 655.96 L618.75 655.9" fill="none" stroke="#e58c1d" stroke-width="1.25"/>
<path d="M572.6 663.85 L573.13 664.67 L573.67 665.01 L574.2 665.1M579.15 655.9 L579.56 655.96 L579.98 656.14 L580.39 656.52 L580.8 657.27 L581.21 658.59 L581.62 660.5 L582.04 662.41 L582.45 663.73 L582.86 664.48 L583.27 664.86 L583.69 665.04 L584.1 665.1M589.05 655.9 L589.46 655.96 L589.88 656.14 L590.29 656.52 L590.7 657.27 L591.11 658.59 L591.52 660.5 L591.94 662.41 L592.35 663.73 L592.76 664.48 L593.17 664.86 L593.59 665.04 L594 665.1M598.95 655.9 L599.36 655.96 L599.77 656.14 L600.19 656.52 L600.6 657.27 L601.01 658.59 L601.42 660.5 L601.84 662.41 L602.25 663.73 L602.66 664.48 L603.07 664.86 L603.49 665.04 L603.9 665.1M608.85 655.9 L609.26 655.96 L609.67 656.14 L610.09 656.52 L610.5 657.27 L610.91 658.59 L611.32 660.5 L611.74 662.41 L612.15 663.73 L612.56 664.48 L612.97 664.86 L613.39 665.04 L613.8 665.1M618.75 655.9 L619.18 655.96 L619.62 656.17 L620.05 656.62 L620.49 657.5 L620.92 659.07 L621.36 661.16 L621.79 662.99 L622.23 664.12 L622.66 664.7 L623.1 664.98" fill="none" stroke="#c8532a" stroke-width="1.25"/>
<path d="M571.4 665.1 L571.81 665.04 L572.23 664.86 L572.64 664.48 L573.05 663.73 L573.46 662.41 L573.88 660.5 L574.29 658.59 L574.7 657.27 L575.11 656.52 L575.52 656.14 L575.94 655.96 L576.35 655.9M581.3 665.1 L581.71 665.04 L582.12 664.86 L582.54 664.48 L582.95 663.73 L583.36 662.41 L583.77 660.5 L584.19 658.59 L584.6 657.27 L585.01 656.52 L585.42 656.14 L585.84 655.96 L586.25 655.9M591.2 665.1 L591.61 665.04 L592.02 664.86 L592.44 664.48 L592.85 663.73 L593.26 662.41 L593.67 660.5 L594.09 658.59 L594.5 657.27 L594.91 656.52 L595.32 656.14 L595.74 655.96 L596.15 655.9M601.1 665.1 L601.51 665.04 L601.93 664.86 L602.34 664.48 L602.75 663.73 L603.16 662.41 L603.58 660.5 L603.99 658.59 L604.4 657.27 L604.81 656.52 L605.23 656.14 L605.64 655.96 L606.05 655.9M611 665.1 L611.41 665.04 L611.83 664.86 L612.24 664.48 L612.65 663.73 L613.06 662.41 L613.48 660.5 L613.89 658.59 L614.3 657.27 L614.71 656.52 L615.12 656.14 L615.54 655.96 L615.95 655.9M620.9 665.1 L621.34 665.04 L621.78 664.82 L622.22 664.36 L622.66 663.45 L623.1 661.82" fill="none" stroke="#2b74bd" stroke-width="1.25"/>
<path d="M576.35 655.9 L576.76 655.96 L577.18 656.14 L577.59 656.52 L578 657.27 L578.41 658.59 L578.83 660.5 L579.24 662.41 L579.65 663.73 L580.06 664.48 L580.48 664.86 L580.89 665.04 L581.3 665.1M586.25 655.9 L586.66 655.96 L587.08 656.14 L587.49 656.52 L587.9 657.27 L588.31 658.59 L588.73 660.5 L589.14 662.41 L589.55 663.73 L589.96 664.48 L590.38 664.86 L590.79 665.04 L591.2 665.1M596.15 655.9 L596.56 655.96 L596.98 656.14 L597.39 656.52 L597.8 657.27 L598.21 658.59 L598.62 660.5 L599.04 662.41 L599.45 663.73 L599.86 664.48 L600.27 664.86 L600.69 665.04 L601.1 665.1M606.05 655.9 L606.46 655.96 L606.88 656.14 L607.29 656.52 L607.7 657.27 L608.11 658.59 L608.52 660.5 L608.94 662.41 L609.35 663.73 L609.76 664.48 L610.17 664.86 L610.59 665.04 L611 665.1M615.95 655.9 L616.36 655.96 L616.77 656.14 L617.19 656.52 L617.6 657.27 L618.01 658.59 L618.42 660.5 L618.84 662.41 L619.25 663.73 L619.66 664.48 L620.07 664.86 L620.49 665.04 L620.9 665.1" fill="none" stroke="#2c3585" stroke-width="1.25"/>
<text x="626.5" y="661.58" font-size="4.4" text-anchor="middle" font-weight="bold" fill="#111" stroke="#111" stroke-width="0.06">(I)</text>
<g transform="translate(544.4,674.3)"><ellipse rx="6.8" ry="4.6" fill="#f6b637" stroke="#6d6a2a" stroke-width="0.45"/><text y="1.7" font-size="4.8" font-weight="bold" text-anchor="middle" fill="#111" textLength="8" lengthAdjust="spacingAndGlyphs">CRY</text></g>
<g transform="translate(594.9,676)"><ellipse rx="6.8" ry="4.6" fill="#f6b637" stroke="#6d6a2a" stroke-width="0.45"/><text y="1.7" font-size="4.8" font-weight="bold" text-anchor="middle" fill="#111" textLength="8" lengthAdjust="spacingAndGlyphs">CRY</text></g>
<g transform="translate(620.5,672.9)"><ellipse rx="6.8" ry="4.6" fill="#f6b637" stroke="#6d6a2a" stroke-width="0.45"/><text y="1.7" font-size="4.8" font-weight="bold" text-anchor="middle" fill="#111" textLength="8" lengthAdjust="spacingAndGlyphs">CRY</text></g>
<g transform="translate(510.1,680)"><ellipse rx="8" ry="5.2" fill="#f09a22" stroke="#6d6a2a" stroke-width="0.5"/><text y="1.7" font-size="4.8" font-weight="bold" text-anchor="middle" fill="#111" textLength="13" lengthAdjust="spacingAndGlyphs">CCAR2</text></g>
<g transform="translate(535.7,680.7)"><ellipse rx="8" ry="5.2" fill="#f09a22" stroke="#6d6a2a" stroke-width="0.5"/><text y="1.7" font-size="4.8" font-weight="bold" text-anchor="middle" fill="#111" textLength="13" lengthAdjust="spacingAndGlyphs">CCAR2</text></g>
<g transform="translate(561.2,683.1)"><ellipse rx="8" ry="5.2" fill="#f09a22" stroke="#6d6a2a" stroke-width="0.5"/><text y="1.7" font-size="4.8" font-weight="bold" text-anchor="middle" fill="#111" textLength="13" lengthAdjust="spacingAndGlyphs">CCAR2</text></g>
<g transform="translate(586.3,682.1)"><ellipse rx="8" ry="5.2" fill="#f09a22" stroke="#6d6a2a" stroke-width="0.5"/><text y="1.7" font-size="4.8" font-weight="bold" text-anchor="middle" fill="#111" textLength="13" lengthAdjust="spacingAndGlyphs">CCAR2</text></g>
<g transform="translate(611.7,679)"><ellipse rx="8" ry="5.2" fill="#f09a22" stroke="#6d6a2a" stroke-width="0.5"/><text y="1.7" font-size="4.8" font-weight="bold" text-anchor="middle" fill="#111" textLength="13" lengthAdjust="spacingAndGlyphs">CCAR2</text></g>
<g transform="translate(518.9,687.2)"><ellipse rx="7.7" ry="4.9" fill="#1a6cbc"/><text y="1.8" font-size="5" font-weight="bold" text-anchor="middle" fill="#fff" textLength="8.6" lengthAdjust="spacingAndGlyphs">CIP</text></g>
<g transform="translate(544.9,688.2)"><ellipse rx="7.7" ry="4.9" fill="#1a6cbc"/><text y="1.8" font-size="5" font-weight="bold" text-anchor="middle" fill="#fff" textLength="8.6" lengthAdjust="spacingAndGlyphs">CIP</text></g>
<g transform="translate(570.4,689.7)"><ellipse rx="7.7" ry="4.9" fill="#1a6cbc"/><text y="1.8" font-size="5" font-weight="bold" text-anchor="middle" fill="#fff" textLength="8.6" lengthAdjust="spacingAndGlyphs">CIP</text></g>
<g transform="translate(596,689.3)"><ellipse rx="7.7" ry="4.9" fill="#1a6cbc"/><text y="1.8" font-size="5" font-weight="bold" text-anchor="middle" fill="#fff" textLength="8.6" lengthAdjust="spacingAndGlyphs">CIP</text></g>
<g transform="translate(620.9,686.8)"><ellipse rx="7.7" ry="4.9" fill="#1a6cbc"/><text y="1.8" font-size="5" font-weight="bold" text-anchor="middle" fill="#fff" textLength="8.6" lengthAdjust="spacingAndGlyphs">CIP</text></g>
<line x1="570" y1="695" x2="570" y2="699.3" stroke="#2d2a86" stroke-width="0.9"/>
<path d="M570 702.3l-2.1 -3.8l2.1 1l2.1 -1z" fill="#2d2a86"/>
<path d="M521.1 728.3 L521.51 728.24 L521.92 728.06 L522.34 727.68 L522.75 726.93 L523.16 725.61 L523.57 723.7 L523.99 721.79 L524.4 720.47 L524.81 719.72 L525.22 719.34 L525.64 719.16 L526.05 719.1M531 728.3 L531.41 728.24 L531.82 728.06 L532.24 727.68 L532.65 726.93 L533.06 725.61 L533.47 723.7 L533.89 721.79 L534.3 720.47 L534.71 719.72 L535.12 719.34 L535.54 719.16 L535.95 719.1M540.9 728.3 L541.31 728.24 L541.72 728.06 L542.14 727.68 L542.55 726.93 L542.96 725.61 L543.37 723.7 L543.79 721.79 L544.2 720.47 L544.61 719.72 L545.02 719.34 L545.44 719.16 L545.85 719.1M550.8 728.3 L551.21 728.24 L551.62 728.06 L552.04 727.68 L552.45 726.93 L552.86 725.61 L553.27 723.7 L553.69 721.79 L554.1 720.47 L554.51 719.72 L554.92 719.34 L555.34 719.16 L555.75 719.1M560.7 728.3 L561.11 728.24 L561.52 728.06 L561.94 727.68 L562.35 726.93 L562.76 725.61 L563.17 723.7 L563.59 721.79 L564 720.47 L564.41 719.72 L564.82 719.34 L565.24 719.16 L565.65 719.1" fill="none" stroke="#e58c1d" stroke-width="1.25"/>
<path d="M519.5 727.05 L520.03 727.87 L520.57 728.21 L521.1 728.3M526.05 719.1 L526.46 719.16 L526.88 719.34 L527.29 719.72 L527.7 720.47 L528.11 721.79 L528.52 723.7 L528.94 725.61 L529.35 726.93 L529.76 727.68 L530.17 728.06 L530.59 728.24 L531 728.3M535.95 719.1 L536.36 719.16 L536.77 719.34 L537.19 719.72 L537.6 720.47 L538.01 721.79 L538.42 723.7 L538.84 725.61 L539.25 726.93 L539.66 727.68 L540.07 728.06 L540.49 728.24 L540.9 728.3M545.85 719.1 L546.26 719.16 L546.67 719.34 L547.09 719.72 L547.5 720.47 L547.91 721.79 L548.32 723.7 L548.74 725.61 L549.15 726.93 L549.56 727.68 L549.97 728.06 L550.39 728.24 L550.8 728.3M555.75 719.1 L556.16 719.16 L556.57 719.34 L556.99 719.72 L557.4 720.47 L557.81 721.79 L558.22 723.7 L558.64 725.61 L559.05 726.93 L559.46 727.68 L559.87 728.06 L560.29 728.24 L560.7 728.3M565.65 719.1 L566.11 719.17 L566.57 719.4 L567.02 719.92 L567.48 720.97 L567.94 722.81 L568.4 725.02" fill="none" stroke="#c8532a" stroke-width="1.25"/>
<path d="M518.3 728.3 L518.71 728.24 L519.12 728.06 L519.54 727.68 L519.95 726.93 L520.36 725.61 L520.77 723.7 L521.19 721.79 L521.6 720.47 L522.01 719.72 L522.42 719.34 L522.84 719.16 L523.25 719.1M528.2 728.3 L528.61 728.24 L529.02 728.06 L529.44 727.68 L529.85 726.93 L530.26 725.61 L530.67 723.7 L531.09 721.79 L531.5 720.47 L531.91 719.72 L532.32 719.34 L532.74 719.16 L533.15 719.1M538.1 728.3 L538.51 728.24 L538.92 728.06 L539.34 727.68 L539.75 726.93 L540.16 725.61 L540.57 723.7 L540.99 721.79 L541.4 720.47 L541.81 719.72 L542.22 719.34 L542.64 719.16 L543.05 719.1M548 728.3 L548.41 728.24 L548.83 728.06 L549.24 727.68 L549.65 726.93 L550.06 725.61 L550.48 723.7 L550.89 721.79 L551.3 720.47 L551.71 719.72 L552.12 719.34 L552.54 719.16 L552.95 719.1M557.9 728.3 L558.31 728.24 L558.73 728.06 L559.14 727.68 L559.55 726.93 L559.96 725.61 L560.38 723.7 L560.79 721.79 L561.2 720.47 L561.61 719.72 L562.02 719.34 L562.44 719.16 L562.85 719.1M567.8 728.3 L568.1 728.27 L568.4 728.18" fill="none" stroke="#2b74bd" stroke-width="1.25"/>
<path d="M523.25 719.1 L523.66 719.16 L524.08 719.34 L524.49 719.72 L524.9 720.47 L525.31 721.79 L525.73 723.7 L526.14 725.61 L526.55 726.93 L526.96 727.68 L527.38 728.06 L527.79 728.24 L528.2 728.3M533.15 719.1 L533.56 719.16 L533.98 719.34 L534.39 719.72 L534.8 720.47 L535.21 721.79 L535.62 723.7 L536.04 725.61 L536.45 726.93 L536.86 727.68 L537.27 728.06 L537.69 728.24 L538.1 728.3M543.05 719.1 L543.46 719.16 L543.88 719.34 L544.29 719.72 L544.7 720.47 L545.11 721.79 L545.52 723.7 L545.94 725.61 L546.35 726.93 L546.76 727.68 L547.17 728.06 L547.59 728.24 L548 728.3M552.95 719.1 L553.36 719.16 L553.77 719.34 L554.19 719.72 L554.6 720.47 L555.01 721.79 L555.42 723.7 L555.84 725.61 L556.25 726.93 L556.66 727.68 L557.07 728.06 L557.49 728.24 L557.9 728.3M562.85 719.1 L563.26 719.16 L563.67 719.34 L564.09 719.72 L564.5 720.47 L564.91 721.79 L565.32 723.7 L565.74 725.61 L566.15 726.93 L566.56 727.68 L566.97 728.06 L567.39 728.24 L567.8 728.3" fill="none" stroke="#2c3585" stroke-width="1.25"/>
<path d="M576.3 728.3 L576.71 728.24 L577.12 728.06 L577.54 727.68 L577.95 726.93 L578.36 725.61 L578.77 723.7 L579.19 721.79 L579.6 720.47 L580.01 719.72 L580.42 719.34 L580.84 719.16 L581.25 719.1M586.2 728.3 L586.61 728.24 L587.02 728.06 L587.44 727.68 L587.85 726.93 L588.26 725.61 L588.67 723.7 L589.09 721.79 L589.5 720.47 L589.91 719.72 L590.32 719.34 L590.74 719.16 L591.15 719.1M596.1 728.3 L596.51 728.24 L596.92 728.06 L597.34 727.68 L597.75 726.93 L598.16 725.61 L598.57 723.7 L598.99 721.79 L599.4 720.47 L599.81 719.72 L600.22 719.34 L600.64 719.16 L601.05 719.1M606 728.3 L606.41 728.24 L606.83 728.06 L607.24 727.68 L607.65 726.93 L608.06 725.61 L608.48 723.7 L608.89 721.79 L609.3 720.47 L609.71 719.72 L610.12 719.34 L610.54 719.16 L610.95 719.1M615.9 728.3 L616.31 728.24 L616.73 728.06 L617.14 727.68 L617.55 726.93 L617.96 725.61 L618.38 723.7 L618.79 721.79 L619.2 720.47 L619.61 719.72 L620.02 719.34 L620.44 719.16 L620.85 719.1" fill="none" stroke="#e58c1d" stroke-width="1.25"/>
<path d="M574.7 727.05 L575.23 727.87 L575.77 728.21 L576.3 728.3M581.25 719.1 L581.66 719.16 L582.08 719.34 L582.49 719.72 L582.9 720.47 L583.31 721.79 L583.73 723.7 L584.14 725.61 L584.55 726.93 L584.96 727.68 L585.38 728.06 L585.79 728.24 L586.2 728.3M591.15 719.1 L591.56 719.16 L591.98 719.34 L592.39 719.72 L592.8 720.47 L593.21 721.79 L593.62 723.7 L594.04 725.61 L594.45 726.93 L594.86 727.68 L595.27 728.06 L595.69 728.24 L596.1 728.3M601.05 719.1 L601.46 719.16 L601.88 719.34 L602.29 719.72 L602.7 720.47 L603.11 721.79 L603.52 723.7 L603.94 725.61 L604.35 726.93 L604.76 727.68 L605.17 728.06 L605.59 728.24 L606 728.3M610.95 719.1 L611.36 719.16 L611.77 719.34 L612.19 719.72 L612.6 720.47 L613.01 721.79 L613.42 723.7 L613.84 725.61 L614.25 726.93 L614.66 727.68 L615.07 728.06 L615.49 728.24 L615.9 728.3M620.85 719.1 L621.17 719.13 L621.5 719.24" fill="none" stroke="#c8532a" stroke-width="1.25"/>
<path d="M573.5 728.3 L573.91 728.24 L574.33 728.06 L574.74 727.68 L575.15 726.93 L575.56 725.61 L575.98 723.7 L576.39 721.79 L576.8 720.47 L577.21 719.72 L577.62 719.34 L578.04 719.16 L578.45 719.1M583.4 728.3 L583.81 728.24 L584.23 728.06 L584.64 727.68 L585.05 726.93 L585.46 725.61 L585.88 723.7 L586.29 721.79 L586.7 720.47 L587.11 719.72 L587.52 719.34 L587.94 719.16 L588.35 719.1M593.3 728.3 L593.71 728.24 L594.12 728.06 L594.54 727.68 L594.95 726.93 L595.36 725.61 L595.77 723.7 L596.19 721.79 L596.6 720.47 L597.01 719.72 L597.42 719.34 L597.84 719.16 L598.25 719.1M603.2 728.3 L603.61 728.24 L604.03 728.06 L604.44 727.68 L604.85 726.93 L605.26 725.61 L605.68 723.7 L606.09 721.79 L606.5 720.47 L606.91 719.72 L607.33 719.34 L607.74 719.16 L608.15 719.1M613.1 728.3 L613.51 728.24 L613.93 728.06 L614.34 727.68 L614.75 726.93 L615.16 725.61 L615.58 723.7 L615.99 721.79 L616.4 720.47 L616.81 719.72 L617.23 719.34 L617.64 719.16 L618.05 719.1" fill="none" stroke="#2b74bd" stroke-width="1.25"/>
<path d="M578.45 719.1 L578.86 719.16 L579.28 719.34 L579.69 719.72 L580.1 720.47 L580.51 721.79 L580.93 723.7 L581.34 725.61 L581.75 726.93 L582.16 727.68 L582.58 728.06 L582.99 728.24 L583.4 728.3M588.35 719.1 L588.76 719.16 L589.18 719.34 L589.59 719.72 L590 720.47 L590.41 721.79 L590.83 723.7 L591.24 725.61 L591.65 726.93 L592.06 727.68 L592.48 728.06 L592.89 728.24 L593.3 728.3M598.25 719.1 L598.66 719.16 L599.08 719.34 L599.49 719.72 L599.9 720.47 L600.31 721.79 L600.73 723.7 L601.14 725.61 L601.55 726.93 L601.96 727.68 L602.38 728.06 L602.79 728.24 L603.2 728.3M608.15 719.1 L608.56 719.16 L608.98 719.34 L609.39 719.72 L609.8 720.47 L610.21 721.79 L610.62 723.7 L611.04 725.61 L611.45 726.93 L611.86 727.68 L612.27 728.06 L612.69 728.24 L613.1 728.3M618.05 719.1 L618.48 719.16 L618.91 719.37 L619.34 719.8 L619.77 720.66 L620.21 722.19 L620.64 724.25 L621.07 726.1 L621.5 727.26" fill="none" stroke="#2c3585" stroke-width="1.25"/>
<text x="626.5" y="726.58" font-size="4.4" text-anchor="middle" font-weight="bold" fill="#111" stroke="#111" stroke-width="0.06">(II)</text>
<g transform="translate(588.8,715)"><ellipse rx="6.8" ry="4.6" fill="#f6b637" stroke="#6d6a2a" stroke-width="0.45"/><text y="1.7" font-size="4.8" font-weight="bold" text-anchor="middle" fill="#111" textLength="8" lengthAdjust="spacingAndGlyphs">CRY</text></g>
<circle cx="594" cy="711.7" r="1.4" fill="#e8102a"/>
<g transform="translate(610.3,715.5)"><ellipse rx="6.8" ry="4.6" fill="#f6b637" stroke="#6d6a2a" stroke-width="0.45"/><text y="1.7" font-size="4.8" font-weight="bold" text-anchor="middle" fill="#111" textLength="8" lengthAdjust="spacingAndGlyphs">CRY</text></g>
<circle cx="615.5" cy="712.2" r="1.4" fill="#e8102a"/>
<g transform="translate(525.8,721)"><ellipse rx="8" ry="5.2" fill="#f09a22" stroke="#6d6a2a" stroke-width="0.5"/><text y="1.7" font-size="4.8" font-weight="bold" text-anchor="middle" fill="#111" textLength="13" lengthAdjust="spacingAndGlyphs">CCAR2</text></g>
<g transform="translate(547.9,721)"><ellipse rx="8" ry="5.2" fill="#f09a22" stroke="#6d6a2a" stroke-width="0.5"/><text y="1.7" font-size="4.8" font-weight="bold" text-anchor="middle" fill="#111" textLength="13" lengthAdjust="spacingAndGlyphs">CCAR2</text></g>
<g transform="translate(579.6,721)"><ellipse rx="8" ry="5.2" fill="#f09a22" stroke="#6d6a2a" stroke-width="0.5"/><text y="1.7" font-size="4.8" font-weight="bold" text-anchor="middle" fill="#111" textLength="13" lengthAdjust="spacingAndGlyphs">CCAR2</text></g>
<g transform="translate(602.1,721.7)"><ellipse rx="8" ry="5.2" fill="#f09a22" stroke="#6d6a2a" stroke-width="0.5"/><text y="1.7" font-size="4.8" font-weight="bold" text-anchor="middle" fill="#111" textLength="13" lengthAdjust="spacingAndGlyphs">CCAR2</text></g>
<g transform="translate(535.2,728.4)"><ellipse rx="7.7" ry="4.9" fill="#1a6cbc"/><text y="1.8" font-size="5" font-weight="bold" text-anchor="middle" fill="#fff" textLength="8.6" lengthAdjust="spacingAndGlyphs">CIP</text></g>
<g transform="translate(557.1,728.4)"><ellipse rx="7.7" ry="4.9" fill="#1a6cbc"/><text y="1.8" font-size="5" font-weight="bold" text-anchor="middle" fill="#fff" textLength="8.6" lengthAdjust="spacingAndGlyphs">CIP</text></g>
<g transform="translate(588.8,728.4)"><ellipse rx="7.7" ry="4.9" fill="#1a6cbc"/><text y="1.8" font-size="5" font-weight="bold" text-anchor="middle" fill="#fff" textLength="8.6" lengthAdjust="spacingAndGlyphs">CIP</text></g>
<g transform="translate(610.9,728.8)"><ellipse rx="7.7" ry="4.9" fill="#1a6cbc"/><text y="1.8" font-size="5" font-weight="bold" text-anchor="middle" fill="#fff" textLength="8.6" lengthAdjust="spacingAndGlyphs">CIP</text></g>
<g transform="translate(631.3,699.8)"><ellipse rx="9.3" ry="6.8" fill="#e61928"/><text y="1.6" font-size="4.6" font-weight="bold" text-anchor="middle" fill="#1a0303" textLength="14" lengthAdjust="spacingAndGlyphs">DNAPK</text></g>
<line x1="623" y1="702.5" x2="596.09" y2="710.46" stroke="#d4142c" stroke-width="0.8"/>
<path d="M593.6 711.2L595.75 709.31L596.43 711.61z" fill="#d4142c"/>
<line x1="627" y1="705.5" x2="616.95" y2="710.28" stroke="#d4142c" stroke-width="0.8"/>
<path d="M614.6 711.4L616.43 709.2L617.46 711.37z" fill="#d4142c"/>
<line x1="570" y1="737.4" x2="570" y2="741.2" stroke="#2d2a86" stroke-width="0.9"/>
<path d="M570 744.2l-2.1 -3.8l2.1 1l2.1 -1z" fill="#2d2a86"/>
<path d="M521.9 764 L522.31 763.94 L522.73 763.76 L523.14 763.38 L523.55 762.63 L523.96 761.31 L524.38 759.4 L524.79 757.49 L525.2 756.17 L525.61 755.42 L526.02 755.04 L526.44 754.86 L526.85 754.8M531.8 764 L532.21 763.94 L532.62 763.76 L533.04 763.38 L533.45 762.63 L533.86 761.31 L534.27 759.4 L534.69 757.49 L535.1 756.17 L535.51 755.42 L535.92 755.04 L536.34 754.86 L536.75 754.8" fill="none" stroke="#e58c1d" stroke-width="1.25"/>
<path d="M520.3 762.75 L520.83 763.57 L521.37 763.91 L521.9 764M526.85 754.8 L527.26 754.86 L527.68 755.04 L528.09 755.42 L528.5 756.17 L528.91 757.49 L529.33 759.4 L529.74 761.31 L530.15 762.63 L530.56 763.38 L530.98 763.76 L531.39 763.94 L531.8 764M536.75 754.8 L537.2 754.87 L537.65 755.09 L538.1 755.58" fill="none" stroke="#c8532a" stroke-width="1.25"/>
<path d="M519.1 764 L519.51 763.94 L519.93 763.76 L520.34 763.38 L520.75 762.63 L521.16 761.31 L521.58 759.4 L521.99 757.49 L522.4 756.17 L522.81 755.42 L523.23 755.04 L523.64 754.86 L524.05 754.8M529 764 L529.41 763.94 L529.83 763.76 L530.24 763.38 L530.65 762.63 L531.06 761.31 L531.48 759.4 L531.89 757.49 L532.3 756.17 L532.71 755.42 L533.12 755.04 L533.54 754.86 L533.95 754.8" fill="none" stroke="#2b74bd" stroke-width="1.25"/>
<path d="M524.05 754.8 L524.46 754.86 L524.88 755.04 L525.29 755.42 L525.7 756.17 L526.11 757.49 L526.53 759.4 L526.94 761.31 L527.35 762.63 L527.76 763.38 L528.18 763.76 L528.59 763.94 L529 764M533.95 754.8 L534.37 754.86 L534.78 755.04 L535.2 755.43 L535.61 756.19 L536.03 757.54 L536.44 759.47 L536.86 761.38 L537.27 762.68 L537.69 763.4 L538.1 763.78" fill="none" stroke="#2c3585" stroke-width="1.25"/>
<path d="M538.1 759.49 L538.51 758.07 L538.92 756.75 L539.33 755.61 L539.73 754.74 L540.14 754.19 L540.55 754M545.4 764.8 L545.8 764.62 L546.21 764.08 L546.61 763.22 L547.02 762.1 L547.42 760.8 L547.83 759.4 L548.23 758 L548.63 756.7 L549.04 755.58 L549.44 754.72 L549.85 754.18 L550.25 754M555.1 764.8 L555.5 764.62 L555.91 764.08 L556.31 763.22 L556.72 762.1 L557.12 760.8 L557.53 759.4 L557.93 758 L558.33 756.7 L558.74 755.58 L559.14 754.72 L559.55 754.18 L559.95 754M564.8 764.8 L565.22 764.6 L565.64 764.01 L566.07 763.08 L566.49 761.88 L566.91 760.49 L567.33 759.02 L567.76 757.58 L568.18 756.27 L568.6 755.2" fill="none" stroke="#2c3585" stroke-width="1.15"/>
<path d="M540.55 754 L540.95 754.18 L541.36 754.72 L541.76 755.58 L542.17 756.7 L542.57 758 L542.98 759.4 L543.38 760.8 L543.78 762.1 L544.19 763.22 L544.59 764.08 L545 764.62 L545.4 764.8M550.25 754 L550.65 754.18 L551.06 754.72 L551.46 755.58 L551.87 756.7 L552.27 758 L552.67 759.4 L553.08 760.8 L553.48 762.1 L553.89 763.22 L554.29 764.08 L554.7 764.62 L555.1 764.8M559.95 754 L560.35 754.18 L560.76 754.72 L561.16 755.58 L561.57 756.7 L561.97 758 L562.38 759.4 L562.78 760.8 L563.18 762.1 L563.59 763.22 L563.99 764.08 L564.4 764.62 L564.8 764.8" fill="none" stroke="#2c3585" stroke-width="1.15"/>
<path d="M574 764.8 L574.4 764.62 L574.81 764.08 L575.21 763.22 L575.62 762.1 L576.02 760.8 L576.42 759.4 L576.83 758 L577.23 756.7 L577.64 755.58 L578.04 754.72 L578.45 754.18 L578.85 754M583.7 764.8 L584.1 764.62 L584.51 764.08 L584.91 763.22 L585.32 762.1 L585.72 760.8 L586.12 759.4 L586.53 758 L586.93 756.7 L587.34 755.58 L587.74 754.72 L588.15 754.18 L588.55 754M593.4 764.8 L593.8 764.62 L594.21 764.08 L594.61 763.22 L595.02 762.1 L595.42 760.8 L595.83 759.4 L596.23 758 L596.63 756.7 L597.04 755.58 L597.44 754.72 L597.85 754.18 L598.25 754M603.1 764.8 L603.5 764.62 L603.91 764.08 L604.31 763.22 L604.72 762.1 L605.12 760.8 L605.53 759.4 L605.93 758 L606.33 756.7 L606.74 755.58 L607.14 754.72 L607.55 754.18 L607.95 754" fill="none" stroke="#c8532a" stroke-width="1.15"/>
<path d="M571.6 759.49 L572.08 761.14 L572.56 762.62 L573.04 763.79 L573.52 764.54 L574 764.8M578.85 754 L579.25 754.18 L579.66 754.72 L580.06 755.58 L580.47 756.7 L580.87 758 L581.28 759.4 L581.68 760.8 L582.08 762.1 L582.49 763.22 L582.89 764.08 L583.3 764.62 L583.7 764.8M588.55 754 L588.95 754.18 L589.36 754.72 L589.76 755.58 L590.17 756.7 L590.57 758 L590.97 759.4 L591.38 760.8 L591.78 762.1 L592.19 763.22 L592.59 764.08 L593 764.62 L593.4 764.8M598.25 754 L598.65 754.18 L599.06 754.72 L599.46 755.58 L599.87 756.7 L600.27 758 L600.67 759.4 L601.08 760.8 L601.48 762.1 L601.89 763.22 L602.29 764.08 L602.7 764.62 L603.1 764.8M607.95 754 L608.36 754.19 L608.76 754.73 L609.17 755.6 L609.58 756.74 L609.99 758.05 L610.39 759.46 L610.8 760.87" fill="none" stroke="#e58c1d" stroke-width="1.15"/>
<path d="M613.6 764 L614.01 763.94 L614.42 763.76 L614.84 763.38 L615.25 762.63 L615.66 761.31 L616.07 759.4 L616.49 757.49 L616.9 756.17 L617.31 755.42 L617.72 755.04 L618.14 754.86 L618.55 754.8M623.5 764 L623.65 763.99 L623.8 763.97" fill="none" stroke="#e58c1d" stroke-width="1.25"/>
<path d="M612 762.75 L612.53 763.57 L613.07 763.91 L613.6 764M618.55 754.8 L618.96 754.86 L619.38 755.04 L619.79 755.42 L620.2 756.17 L620.61 757.49 L621.02 759.4 L621.44 761.31 L621.85 762.63 L622.26 763.38 L622.67 763.76 L623.09 763.94 L623.5 764" fill="none" stroke="#c8532a" stroke-width="1.25"/>
<path d="M610.8 764 L611.21 763.94 L611.62 763.76 L612.04 763.38 L612.45 762.63 L612.86 761.31 L613.27 759.4 L613.69 757.49 L614.1 756.17 L614.51 755.42 L614.92 755.04 L615.34 754.86 L615.75 754.8M620.7 764 L621.14 763.94 L621.59 763.72 L622.03 763.25 L622.47 762.31 L622.91 760.65 L623.36 758.51 L623.8 756.72" fill="none" stroke="#2b74bd" stroke-width="1.25"/>
<path d="M615.75 754.8 L616.16 754.86 L616.58 755.04 L616.99 755.42 L617.4 756.17 L617.81 757.49 L618.23 759.4 L618.64 761.31 L619.05 762.63 L619.46 763.38 L619.88 763.76 L620.29 763.94 L620.7 764" fill="none" stroke="#2c3585" stroke-width="1.25"/>
<text x="628" y="760.58" font-size="4.4" text-anchor="middle" font-weight="bold" fill="#111" stroke="#111" stroke-width="0.06">(III)</text>
<g transform="translate(517.9,743.1)"><ellipse rx="8" ry="5.2" fill="#f09a22" stroke="#6d6a2a" stroke-width="0.5"/><text y="1.7" font-size="4.8" font-weight="bold" text-anchor="middle" fill="#111" textLength="13" lengthAdjust="spacingAndGlyphs">CCAR2</text></g>
<g transform="translate(510.3,758)"><ellipse rx="8" ry="5.2" fill="#f09a22" stroke="#6d6a2a" stroke-width="0.5"/><text y="1.7" font-size="4.8" font-weight="bold" text-anchor="middle" fill="#111" textLength="13" lengthAdjust="spacingAndGlyphs">CCAR2</text></g>
<g transform="translate(528.7,774.3)"><ellipse rx="8" ry="5.2" fill="#f09a22" stroke="#6d6a2a" stroke-width="0.5"/><text y="1.7" font-size="4.8" font-weight="bold" text-anchor="middle" fill="#111" textLength="13" lengthAdjust="spacingAndGlyphs">CCAR2</text></g>
<g transform="translate(533.2,754.3)"><ellipse rx="7.7" ry="4.9" fill="#1a6cbc"/><text y="1.8" font-size="5" font-weight="bold" text-anchor="middle" fill="#fff" textLength="8.6" lengthAdjust="spacingAndGlyphs">CIP</text></g>
<g transform="translate(595.1,750.2)"><ellipse rx="6.8" ry="4.6" fill="#f6b637" stroke="#6d6a2a" stroke-width="0.45"/><text y="1.7" font-size="4.8" font-weight="bold" text-anchor="middle" fill="#111" textLength="8" lengthAdjust="spacingAndGlyphs">CRY</text></g>
<circle cx="600.3" cy="746.9" r="1.4" fill="#e8102a"/>
<g transform="translate(613.1,749.8)"><ellipse rx="6.8" ry="4.6" fill="#f6b637" stroke="#6d6a2a" stroke-width="0.45"/><text y="1.7" font-size="4.8" font-weight="bold" text-anchor="middle" fill="#111" textLength="8" lengthAdjust="spacingAndGlyphs">CRY</text></g>
<circle cx="618.3" cy="746.5" r="1.4" fill="#e8102a"/>
<g transform="translate(587,757.4)"><ellipse rx="8" ry="5.2" fill="#f09a22" stroke="#6d6a2a" stroke-width="0.5"/><text y="1.7" font-size="4.8" font-weight="bold" text-anchor="middle" fill="#111" textLength="13" lengthAdjust="spacingAndGlyphs">CCAR2</text></g>
<g transform="translate(604.7,756.8)"><ellipse rx="8" ry="5.2" fill="#f09a22" stroke="#6d6a2a" stroke-width="0.5"/><text y="1.7" font-size="4.8" font-weight="bold" text-anchor="middle" fill="#111" textLength="13" lengthAdjust="spacingAndGlyphs">CCAR2</text></g>
<g transform="translate(596.2,764.1)"><ellipse rx="7.7" ry="4.9" fill="#1a6cbc"/><text y="1.8" font-size="5" font-weight="bold" text-anchor="middle" fill="#fff" textLength="8.6" lengthAdjust="spacingAndGlyphs">CIP</text></g>
<g transform="translate(613.9,763.5)"><ellipse rx="7.7" ry="4.9" fill="#1a6cbc"/><text y="1.8" font-size="5" font-weight="bold" text-anchor="middle" fill="#fff" textLength="8.6" lengthAdjust="spacingAndGlyphs">CIP</text></g>
<text x="586" y="601.32" font-size="9.5" text-anchor="start" font-weight="bold" fill="#1a1a1a" stroke="#1a1a1a" stroke-width="0.13">(2)</text>
<path d="M404 789.8 L404.41 789.74 L404.82 789.56 L405.24 789.18 L405.65 788.43 L406.06 787.11 L406.48 785.2 L406.89 783.29 L407.3 781.97 L407.71 781.22 L408.12 780.84 L408.54 780.66 L408.95 780.6M413.9 789.8 L414.31 789.74 L414.72 789.56 L415.14 789.18 L415.55 788.43 L415.96 787.11 L416.38 785.2 L416.79 783.29 L417.2 781.97 L417.61 781.22 L418.02 780.84 L418.44 780.66 L418.85 780.6M423.8 789.8 L424.21 789.74 L424.62 789.56 L425.04 789.18 L425.45 788.43 L425.86 787.11 L426.27 785.2 L426.69 783.29 L427.1 781.97 L427.51 781.22 L427.93 780.84 L428.34 780.66 L428.75 780.6M433.7 789.8 L434.11 789.74 L434.52 789.56 L434.94 789.18 L435.35 788.43 L435.76 787.11 L436.17 785.2 L436.59 783.29 L437 781.97 L437.41 781.22 L437.82 780.84 L438.24 780.66 L438.65 780.6M443.6 789.8 L444.01 789.74 L444.43 789.56 L444.84 789.18 L445.25 788.43 L445.66 787.11 L446.08 785.2 L446.49 783.29 L446.9 781.97 L447.31 781.22 L447.73 780.84 L448.14 780.66 L448.55 780.6" fill="none" stroke="#e58c1d" stroke-width="1.25"/>
<path d="M402.4 788.55 L402.8 789.22 L403.2 789.58 L403.6 789.75 L404 789.8M408.95 780.6 L409.36 780.66 L409.77 780.84 L410.19 781.22 L410.6 781.97 L411.01 783.29 L411.42 785.2 L411.84 787.11 L412.25 788.43 L412.66 789.18 L413.07 789.56 L413.49 789.74 L413.9 789.8M418.85 780.6 L419.26 780.66 L419.68 780.84 L420.09 781.22 L420.5 781.97 L420.91 783.29 L421.33 785.2 L421.74 787.11 L422.15 788.43 L422.56 789.18 L422.98 789.56 L423.39 789.74 L423.8 789.8M428.75 780.6 L429.16 780.66 L429.57 780.84 L429.99 781.22 L430.4 781.97 L430.81 783.29 L431.23 785.2 L431.64 787.11 L432.05 788.43 L432.46 789.18 L432.88 789.56 L433.29 789.74 L433.7 789.8M438.65 780.6 L439.06 780.66 L439.47 780.84 L439.89 781.22 L440.3 781.97 L440.71 783.29 L441.12 785.2 L441.54 787.11 L441.95 788.43 L442.36 789.18 L442.77 789.56 L443.19 789.74 L443.6 789.8M448.55 780.6 L448.99 780.66 L449.43 780.87 L449.86 781.33 L450.3 782.23" fill="none" stroke="#c8532a" stroke-width="1.25"/>
<path d="M401.2 789.8 L401.61 789.74 L402.02 789.56 L402.44 789.18 L402.85 788.43 L403.26 787.11 L403.67 785.2 L404.09 783.29 L404.5 781.97 L404.91 781.22 L405.32 780.84 L405.74 780.66 L406.15 780.6M411.1 789.8 L411.51 789.74 L411.92 789.56 L412.34 789.18 L412.75 788.43 L413.16 787.11 L413.57 785.2 L413.99 783.29 L414.4 781.97 L414.81 781.22 L415.22 780.84 L415.64 780.66 L416.05 780.6M421 789.8 L421.41 789.74 L421.82 789.56 L422.24 789.18 L422.65 788.43 L423.06 787.11 L423.48 785.2 L423.89 783.29 L424.3 781.97 L424.71 781.22 L425.12 780.84 L425.54 780.66 L425.95 780.6M430.9 789.8 L431.31 789.74 L431.72 789.56 L432.14 789.18 L432.55 788.43 L432.96 787.11 L433.38 785.2 L433.79 783.29 L434.2 781.97 L434.61 781.22 L435.02 780.84 L435.44 780.66 L435.85 780.6M440.8 789.8 L441.21 789.74 L441.62 789.56 L442.04 789.18 L442.45 788.43 L442.86 787.11 L443.27 785.2 L443.69 783.29 L444.1 781.97 L444.51 781.22 L444.93 780.84 L445.34 780.66 L445.75 780.6" fill="none" stroke="#2b74bd" stroke-width="1.25"/>
<path d="M406.15 780.6 L406.56 780.66 L406.97 780.84 L407.39 781.22 L407.8 781.97 L408.21 783.29 L408.62 785.2 L409.04 787.11 L409.45 788.43 L409.86 789.18 L410.27 789.56 L410.69 789.74 L411.1 789.8M416.05 780.6 L416.46 780.66 L416.88 780.84 L417.29 781.22 L417.7 781.97 L418.11 783.29 L418.52 785.2 L418.94 787.11 L419.35 788.43 L419.76 789.18 L420.18 789.56 L420.59 789.74 L421 789.8M425.95 780.6 L426.36 780.66 L426.77 780.84 L427.19 781.22 L427.6 781.97 L428.01 783.29 L428.42 785.2 L428.84 787.11 L429.25 788.43 L429.66 789.18 L430.07 789.56 L430.49 789.74 L430.9 789.8M435.85 780.6 L436.26 780.66 L436.67 780.84 L437.09 781.22 L437.5 781.97 L437.91 783.29 L438.32 785.2 L438.74 787.11 L439.15 788.43 L439.56 789.18 L439.97 789.56 L440.39 789.74 L440.8 789.8M445.75 780.6 L446.16 780.66 L446.58 780.84 L446.99 781.23 L447.4 781.98 L447.82 783.32 L448.23 785.23 L448.65 787.14 L449.06 788.46 L449.47 789.19 L449.89 789.57 L450.3 789.75" fill="none" stroke="#2c3585" stroke-width="1.25"/>
<path d="M456.6 789.8 L457.01 789.74 L457.43 789.56 L457.84 789.18 L458.25 788.43 L458.66 787.11 L459.08 785.2 L459.49 783.29 L459.9 781.97 L460.31 781.22 L460.73 780.84 L461.14 780.66 L461.55 780.6M466.5 789.8 L466.91 789.74 L467.32 789.56 L467.74 789.18 L468.15 788.43 L468.56 787.11 L468.98 785.2 L469.39 783.29 L469.8 781.97 L470.21 781.22 L470.62 780.84 L471.04 780.66 L471.45 780.6M476.4 789.8 L476.81 789.74 L477.23 789.56 L477.64 789.18 L478.05 788.43 L478.46 787.11 L478.88 785.2 L479.29 783.29 L479.7 781.97 L480.11 781.22 L480.53 780.84 L480.94 780.66 L481.35 780.6M486.3 789.8 L486.71 789.74 L487.12 789.56 L487.54 789.18 L487.95 788.43 L488.36 787.11 L488.77 785.2 L489.19 783.29 L489.6 781.97 L490.01 781.22 L490.43 780.84 L490.84 780.66 L491.25 780.6M496.2 789.8 L496.61 789.74 L497.03 789.56 L497.44 789.18 L497.85 788.43 L498.26 787.11 L498.68 785.2 L499.09 783.29 L499.5 781.97 L499.91 781.22 L500.33 780.84 L500.74 780.66 L501.15 780.6" fill="none" stroke="#e58c1d" stroke-width="1.25"/>
<path d="M455 788.55 L455.4 789.22 L455.8 789.58 L456.2 789.75 L456.6 789.8M461.55 780.6 L461.96 780.66 L462.38 780.84 L462.79 781.22 L463.2 781.97 L463.61 783.29 L464.02 785.2 L464.44 787.11 L464.85 788.43 L465.26 789.18 L465.68 789.56 L466.09 789.74 L466.5 789.8M471.45 780.6 L471.86 780.66 L472.28 780.84 L472.69 781.22 L473.1 781.97 L473.51 783.29 L473.93 785.2 L474.34 787.11 L474.75 788.43 L475.16 789.18 L475.58 789.56 L475.99 789.74 L476.4 789.8M481.35 780.6 L481.76 780.66 L482.18 780.84 L482.59 781.22 L483 781.97 L483.41 783.29 L483.83 785.2 L484.24 787.11 L484.65 788.43 L485.06 789.18 L485.48 789.56 L485.89 789.74 L486.3 789.8M491.25 780.6 L491.66 780.66 L492.07 780.84 L492.49 781.22 L492.9 781.97 L493.31 783.29 L493.73 785.2 L494.14 787.11 L494.55 788.43 L494.96 789.18 L495.38 789.56 L495.79 789.74 L496.2 789.8M501.15 780.6 L501.57 780.66 L501.98 780.85 L502.4 781.24 L502.82 782.01 L503.23 783.38 L503.65 785.32 L504.07 787.22 L504.48 788.51 L504.9 789.22" fill="none" stroke="#c8532a" stroke-width="1.25"/>
<path d="M453.8 789.8 L454.21 789.74 L454.62 789.56 L455.04 789.18 L455.45 788.43 L455.86 787.11 L456.27 785.2 L456.69 783.29 L457.1 781.97 L457.51 781.22 L457.93 780.84 L458.34 780.66 L458.75 780.6M463.7 789.8 L464.11 789.74 L464.52 789.56 L464.94 789.18 L465.35 788.43 L465.76 787.11 L466.17 785.2 L466.59 783.29 L467 781.97 L467.41 781.22 L467.82 780.84 L468.24 780.66 L468.65 780.6M473.6 789.8 L474.01 789.74 L474.43 789.56 L474.84 789.18 L475.25 788.43 L475.66 787.11 L476.08 785.2 L476.49 783.29 L476.9 781.97 L477.31 781.22 L477.73 780.84 L478.14 780.66 L478.55 780.6M483.5 789.8 L483.91 789.74 L484.32 789.56 L484.74 789.18 L485.15 788.43 L485.56 787.11 L485.98 785.2 L486.39 783.29 L486.8 781.97 L487.21 781.22 L487.62 780.84 L488.04 780.66 L488.45 780.6M493.4 789.8 L493.81 789.74 L494.23 789.56 L494.64 789.18 L495.05 788.43 L495.46 787.11 L495.88 785.2 L496.29 783.29 L496.7 781.97 L497.11 781.22 L497.53 780.84 L497.94 780.66 L498.35 780.6M503.3 789.8 L503.83 789.71 L504.37 789.37 L504.9 788.55" fill="none" stroke="#2b74bd" stroke-width="1.25"/>
<path d="M458.75 780.6 L459.16 780.66 L459.57 780.84 L459.99 781.22 L460.4 781.97 L460.81 783.29 L461.23 785.2 L461.64 787.11 L462.05 788.43 L462.46 789.18 L462.88 789.56 L463.29 789.74 L463.7 789.8M468.65 780.6 L469.06 780.66 L469.48 780.84 L469.89 781.22 L470.3 781.97 L470.71 783.29 L471.12 785.2 L471.54 787.11 L471.95 788.43 L472.36 789.18 L472.78 789.56 L473.19 789.74 L473.6 789.8M478.55 780.6 L478.96 780.66 L479.38 780.84 L479.79 781.22 L480.2 781.97 L480.61 783.29 L481.02 785.2 L481.44 787.11 L481.85 788.43 L482.26 789.18 L482.68 789.56 L483.09 789.74 L483.5 789.8M488.45 780.6 L488.86 780.66 L489.27 780.84 L489.69 781.22 L490.1 781.97 L490.51 783.29 L490.92 785.2 L491.34 787.11 L491.75 788.43 L492.16 789.18 L492.57 789.56 L492.99 789.74 L493.4 789.8M498.35 780.6 L498.76 780.66 L499.18 780.84 L499.59 781.22 L500 781.97 L500.41 783.29 L500.83 785.2 L501.24 787.11 L501.65 788.43 L502.06 789.18 L502.48 789.56 L502.89 789.74 L503.3 789.8" fill="none" stroke="#2c3585" stroke-width="1.25"/>
<text x="508.5" y="786.58" font-size="4.4" text-anchor="middle" font-weight="bold" fill="#111" stroke="#111" stroke-width="0.06">(I)</text>
<g transform="translate(408,797.9)"><ellipse rx="6.8" ry="4.6" fill="#f6b637" stroke="#6d6a2a" stroke-width="0.45"/><text y="1.7" font-size="4.8" font-weight="bold" text-anchor="middle" fill="#111" textLength="8" lengthAdjust="spacingAndGlyphs">CRY</text></g>
<g transform="translate(434,798.5)"><ellipse rx="6.8" ry="4.6" fill="#f6b637" stroke="#6d6a2a" stroke-width="0.45"/><text y="1.7" font-size="4.8" font-weight="bold" text-anchor="middle" fill="#111" textLength="8" lengthAdjust="spacingAndGlyphs">CRY</text></g>
<g transform="translate(459.1,800.5)"><ellipse rx="6.8" ry="4.6" fill="#f6b637" stroke="#6d6a2a" stroke-width="0.45"/><text y="1.7" font-size="4.8" font-weight="bold" text-anchor="middle" fill="#111" textLength="8" lengthAdjust="spacingAndGlyphs">CRY</text></g>
<g transform="translate(484.4,800)"><ellipse rx="6.8" ry="4.6" fill="#f6b637" stroke="#6d6a2a" stroke-width="0.45"/><text y="1.7" font-size="4.8" font-weight="bold" text-anchor="middle" fill="#111" textLength="8" lengthAdjust="spacingAndGlyphs">CRY</text></g>
<g transform="translate(510.6,796.5)"><ellipse rx="6.8" ry="4.6" fill="#f6b637" stroke="#6d6a2a" stroke-width="0.45"/><text y="1.7" font-size="4.8" font-weight="bold" text-anchor="middle" fill="#111" textLength="8" lengthAdjust="spacingAndGlyphs">CRY</text></g>
<g transform="translate(399.2,804.2)"><ellipse rx="8" ry="5.2" fill="#f09a22" stroke="#6d6a2a" stroke-width="0.5"/><text y="1.7" font-size="4.8" font-weight="bold" text-anchor="middle" fill="#111" textLength="13" lengthAdjust="spacingAndGlyphs">CCAR2</text></g>
<g transform="translate(425.8,805)"><ellipse rx="8" ry="5.2" fill="#f09a22" stroke="#6d6a2a" stroke-width="0.5"/><text y="1.7" font-size="4.8" font-weight="bold" text-anchor="middle" fill="#111" textLength="13" lengthAdjust="spacingAndGlyphs">CCAR2</text></g>
<g transform="translate(450.9,806.7)"><ellipse rx="8" ry="5.2" fill="#f09a22" stroke="#6d6a2a" stroke-width="0.5"/><text y="1.7" font-size="4.8" font-weight="bold" text-anchor="middle" fill="#111" textLength="13" lengthAdjust="spacingAndGlyphs">CCAR2</text></g>
<g transform="translate(476.2,806.7)"><ellipse rx="8" ry="5.2" fill="#f09a22" stroke="#6d6a2a" stroke-width="0.5"/><text y="1.7" font-size="4.8" font-weight="bold" text-anchor="middle" fill="#111" textLength="13" lengthAdjust="spacingAndGlyphs">CCAR2</text></g>
<g transform="translate(501.4,803.2)"><ellipse rx="8" ry="5.2" fill="#f09a22" stroke="#6d6a2a" stroke-width="0.5"/><text y="1.7" font-size="4.8" font-weight="bold" text-anchor="middle" fill="#111" textLength="13" lengthAdjust="spacingAndGlyphs">CCAR2</text></g>
<g transform="translate(408.4,810.8)"><ellipse rx="7.7" ry="4.9" fill="#1a6cbc"/><text y="1.8" font-size="5" font-weight="bold" text-anchor="middle" fill="#fff" textLength="8.6" lengthAdjust="spacingAndGlyphs">CIP</text></g>
<g transform="translate(435,811.8)"><ellipse rx="7.7" ry="4.9" fill="#1a6cbc"/><text y="1.8" font-size="5" font-weight="bold" text-anchor="middle" fill="#fff" textLength="8.6" lengthAdjust="spacingAndGlyphs">CIP</text></g>
<g transform="translate(460.5,813.4)"><ellipse rx="7.7" ry="4.9" fill="#1a6cbc"/><text y="1.8" font-size="5" font-weight="bold" text-anchor="middle" fill="#fff" textLength="8.6" lengthAdjust="spacingAndGlyphs">CIP</text></g>
<g transform="translate(485.6,813.4)"><ellipse rx="7.7" ry="4.9" fill="#1a6cbc"/><text y="1.8" font-size="5" font-weight="bold" text-anchor="middle" fill="#fff" textLength="8.6" lengthAdjust="spacingAndGlyphs">CIP</text></g>
<g transform="translate(510.6,810.8)"><ellipse rx="7.7" ry="4.9" fill="#1a6cbc"/><text y="1.8" font-size="5" font-weight="bold" text-anchor="middle" fill="#fff" textLength="8.6" lengthAdjust="spacingAndGlyphs">CIP</text></g>
<line x1="451.7" y1="820.4" x2="451.7" y2="824.1" stroke="#2d2a86" stroke-width="0.9"/>
<path d="M451.7 827.1l-2.1 -3.8l2.1 1l2.1 -1z" fill="#2d2a86"/>
<path d="M404 854 L404.41 853.94 L404.82 853.76 L405.24 853.38 L405.65 852.63 L406.06 851.31 L406.48 849.4 L406.89 847.49 L407.3 846.17 L407.71 845.42 L408.12 845.04 L408.54 844.86 L408.95 844.8M413.9 854 L414.31 853.94 L414.72 853.76 L415.14 853.38 L415.55 852.63 L415.96 851.31 L416.38 849.4 L416.79 847.49 L417.2 846.17 L417.61 845.42 L418.02 845.04 L418.44 844.86 L418.85 844.8M423.8 854 L424.21 853.94 L424.62 853.76 L425.04 853.38 L425.45 852.63 L425.86 851.31 L426.27 849.4 L426.69 847.49 L427.1 846.17 L427.51 845.42 L427.93 845.04 L428.34 844.86 L428.75 844.8M433.7 854 L434.11 853.94 L434.52 853.76 L434.94 853.38 L435.35 852.63 L435.76 851.31 L436.17 849.4 L436.59 847.49 L437 846.17 L437.41 845.42 L437.82 845.04 L438.24 844.86 L438.65 844.8M443.6 854 L444.01 853.94 L444.43 853.76 L444.84 853.38 L445.25 852.63 L445.66 851.31 L446.08 849.4 L446.49 847.49 L446.9 846.17 L447.31 845.42 L447.73 845.04 L448.14 844.86 L448.55 844.8" fill="none" stroke="#e58c1d" stroke-width="1.25"/>
<path d="M402.4 852.75 L402.8 853.42 L403.2 853.78 L403.6 853.95 L404 854M408.95 844.8 L409.36 844.86 L409.77 845.04 L410.19 845.42 L410.6 846.17 L411.01 847.49 L411.42 849.4 L411.84 851.31 L412.25 852.63 L412.66 853.38 L413.07 853.76 L413.49 853.94 L413.9 854M418.85 844.8 L419.26 844.86 L419.68 845.04 L420.09 845.42 L420.5 846.17 L420.91 847.49 L421.33 849.4 L421.74 851.31 L422.15 852.63 L422.56 853.38 L422.98 853.76 L423.39 853.94 L423.8 854M428.75 844.8 L429.16 844.86 L429.57 845.04 L429.99 845.42 L430.4 846.17 L430.81 847.49 L431.23 849.4 L431.64 851.31 L432.05 852.63 L432.46 853.38 L432.88 853.76 L433.29 853.94 L433.7 854M438.65 844.8 L439.06 844.86 L439.47 845.04 L439.89 845.42 L440.3 846.17 L440.71 847.49 L441.12 849.4 L441.54 851.31 L441.95 852.63 L442.36 853.38 L442.77 853.76 L443.19 853.94 L443.6 854M448.55 844.8 L448.99 844.86 L449.43 845.07 L449.86 845.53 L450.3 846.43" fill="none" stroke="#c8532a" stroke-width="1.25"/>
<path d="M401.2 854 L401.61 853.94 L402.02 853.76 L402.44 853.38 L402.85 852.63 L403.26 851.31 L403.67 849.4 L404.09 847.49 L404.5 846.17 L404.91 845.42 L405.32 845.04 L405.74 844.86 L406.15 844.8M411.1 854 L411.51 853.94 L411.92 853.76 L412.34 853.38 L412.75 852.63 L413.16 851.31 L413.57 849.4 L413.99 847.49 L414.4 846.17 L414.81 845.42 L415.22 845.04 L415.64 844.86 L416.05 844.8M421 854 L421.41 853.94 L421.82 853.76 L422.24 853.38 L422.65 852.63 L423.06 851.31 L423.48 849.4 L423.89 847.49 L424.3 846.17 L424.71 845.42 L425.12 845.04 L425.54 844.86 L425.95 844.8M430.9 854 L431.31 853.94 L431.72 853.76 L432.14 853.38 L432.55 852.63 L432.96 851.31 L433.38 849.4 L433.79 847.49 L434.2 846.17 L434.61 845.42 L435.02 845.04 L435.44 844.86 L435.85 844.8M440.8 854 L441.21 853.94 L441.62 853.76 L442.04 853.38 L442.45 852.63 L442.86 851.31 L443.27 849.4 L443.69 847.49 L444.1 846.17 L444.51 845.42 L444.93 845.04 L445.34 844.86 L445.75 844.8" fill="none" stroke="#2b74bd" stroke-width="1.25"/>
<path d="M406.15 844.8 L406.56 844.86 L406.97 845.04 L407.39 845.42 L407.8 846.17 L408.21 847.49 L408.62 849.4 L409.04 851.31 L409.45 852.63 L409.86 853.38 L410.27 853.76 L410.69 853.94 L411.1 854M416.05 844.8 L416.46 844.86 L416.88 845.04 L417.29 845.42 L417.7 846.17 L418.11 847.49 L418.52 849.4 L418.94 851.31 L419.35 852.63 L419.76 853.38 L420.18 853.76 L420.59 853.94 L421 854M425.95 844.8 L426.36 844.86 L426.77 845.04 L427.19 845.42 L427.6 846.17 L428.01 847.49 L428.42 849.4 L428.84 851.31 L429.25 852.63 L429.66 853.38 L430.07 853.76 L430.49 853.94 L430.9 854M435.85 844.8 L436.26 844.86 L436.67 845.04 L437.09 845.42 L437.5 846.17 L437.91 847.49 L438.32 849.4 L438.74 851.31 L439.15 852.63 L439.56 853.38 L439.97 853.76 L440.39 853.94 L440.8 854M445.75 844.8 L446.16 844.86 L446.58 845.04 L446.99 845.43 L447.4 846.18 L447.82 847.52 L448.23 849.43 L448.65 851.34 L449.06 852.66 L449.47 853.39 L449.89 853.77 L450.3 853.95" fill="none" stroke="#2c3585" stroke-width="1.25"/>
<path d="M457.2 854 L457.61 853.94 L458.02 853.76 L458.44 853.38 L458.85 852.63 L459.26 851.31 L459.67 849.4 L460.09 847.49 L460.5 846.17 L460.91 845.42 L461.32 845.04 L461.74 844.86 L462.15 844.8M467.1 854 L467.51 853.94 L467.92 853.76 L468.34 853.38 L468.75 852.63 L469.16 851.31 L469.57 849.4 L469.99 847.49 L470.4 846.17 L470.81 845.42 L471.22 845.04 L471.64 844.86 L472.05 844.8M477 854 L477.41 853.94 L477.82 853.76 L478.24 853.38 L478.65 852.63 L479.06 851.31 L479.48 849.4 L479.89 847.49 L480.3 846.17 L480.71 845.42 L481.12 845.04 L481.54 844.86 L481.95 844.8M486.9 854 L487.31 853.94 L487.72 853.76 L488.14 853.38 L488.55 852.63 L488.96 851.31 L489.38 849.4 L489.79 847.49 L490.2 846.17 L490.61 845.42 L491.02 845.04 L491.44 844.86 L491.85 844.8M496.8 854 L497.21 853.94 L497.62 853.76 L498.04 853.38 L498.45 852.63 L498.86 851.31 L499.27 849.4 L499.69 847.49 L500.1 846.17 L500.51 845.42 L500.93 845.04 L501.34 844.86 L501.75 844.8" fill="none" stroke="#e58c1d" stroke-width="1.25"/>
<path d="M455.6 852.75 L456 853.42 L456.4 853.78 L456.8 853.95 L457.2 854M462.15 844.8 L462.56 844.86 L462.97 845.04 L463.39 845.42 L463.8 846.17 L464.21 847.49 L464.62 849.4 L465.04 851.31 L465.45 852.63 L465.86 853.38 L466.27 853.76 L466.69 853.94 L467.1 854M472.05 844.8 L472.46 844.86 L472.88 845.04 L473.29 845.42 L473.7 846.17 L474.11 847.49 L474.52 849.4 L474.94 851.31 L475.35 852.63 L475.76 853.38 L476.18 853.76 L476.59 853.94 L477 854M481.95 844.8 L482.36 844.86 L482.77 845.04 L483.19 845.42 L483.6 846.17 L484.01 847.49 L484.42 849.4 L484.84 851.31 L485.25 852.63 L485.66 853.38 L486.07 853.76 L486.49 853.94 L486.9 854M491.85 844.8 L492.26 844.86 L492.67 845.04 L493.09 845.42 L493.5 846.17 L493.91 847.49 L494.32 849.4 L494.74 851.31 L495.15 852.63 L495.56 853.38 L495.97 853.76 L496.39 853.94 L496.8 854M501.75 844.8 L502.19 844.86 L502.63 845.08 L503.07 845.54 L503.52 846.47 L503.96 848.12 L504.4 850.25" fill="none" stroke="#c8532a" stroke-width="1.25"/>
<path d="M454.4 854 L454.81 853.94 L455.22 853.76 L455.64 853.38 L456.05 852.63 L456.46 851.31 L456.88 849.4 L457.29 847.49 L457.7 846.17 L458.11 845.42 L458.52 845.04 L458.94 844.86 L459.35 844.8M464.3 854 L464.71 853.94 L465.12 853.76 L465.54 853.38 L465.95 852.63 L466.36 851.31 L466.77 849.4 L467.19 847.49 L467.6 846.17 L468.01 845.42 L468.42 845.04 L468.84 844.86 L469.25 844.8M474.2 854 L474.61 853.94 L475.02 853.76 L475.44 853.38 L475.85 852.63 L476.26 851.31 L476.67 849.4 L477.09 847.49 L477.5 846.17 L477.91 845.42 L478.32 845.04 L478.74 844.86 L479.15 844.8M484.1 854 L484.51 853.94 L484.92 853.76 L485.34 853.38 L485.75 852.63 L486.16 851.31 L486.57 849.4 L486.99 847.49 L487.4 846.17 L487.81 845.42 L488.22 845.04 L488.64 844.86 L489.05 844.8M494 854 L494.41 853.94 L494.82 853.76 L495.24 853.38 L495.65 852.63 L496.06 851.31 L496.48 849.4 L496.89 847.49 L497.3 846.17 L497.71 845.42 L498.12 845.04 L498.54 844.86 L498.95 844.8M503.9 854 L504.15 853.98 L504.4 853.92" fill="none" stroke="#2b74bd" stroke-width="1.25"/>
<path d="M459.35 844.8 L459.76 844.86 L460.17 845.04 L460.59 845.42 L461 846.17 L461.41 847.49 L461.82 849.4 L462.24 851.31 L462.65 852.63 L463.06 853.38 L463.47 853.76 L463.89 853.94 L464.3 854M469.25 844.8 L469.66 844.86 L470.07 845.04 L470.49 845.42 L470.9 846.17 L471.31 847.49 L471.73 849.4 L472.14 851.31 L472.55 852.63 L472.96 853.38 L473.38 853.76 L473.79 853.94 L474.2 854M479.15 844.8 L479.56 844.86 L479.97 845.04 L480.39 845.42 L480.8 846.17 L481.21 847.49 L481.62 849.4 L482.04 851.31 L482.45 852.63 L482.86 853.38 L483.27 853.76 L483.69 853.94 L484.1 854M489.05 844.8 L489.46 844.86 L489.87 845.04 L490.29 845.42 L490.7 846.17 L491.11 847.49 L491.52 849.4 L491.94 851.31 L492.35 852.63 L492.76 853.38 L493.17 853.76 L493.59 853.94 L494 854M498.95 844.8 L499.36 844.86 L499.77 845.04 L500.19 845.42 L500.6 846.17 L501.01 847.49 L501.42 849.4 L501.84 851.31 L502.25 852.63 L502.66 853.38 L503.07 853.76 L503.49 853.94 L503.9 854" fill="none" stroke="#2c3585" stroke-width="1.25"/>
<text x="509.5" y="852.58" font-size="4.4" text-anchor="middle" font-weight="bold" fill="#111" stroke="#111" stroke-width="0.06">(II)</text>
<g transform="translate(421.7,841.2)"><ellipse rx="6.8" ry="4.6" fill="#f6b637" stroke="#6d6a2a" stroke-width="0.45"/><text y="1.7" font-size="4.8" font-weight="bold" text-anchor="middle" fill="#111" textLength="8" lengthAdjust="spacingAndGlyphs">CRY</text></g>
<circle cx="426.9" cy="837.9" r="1.4" fill="#e8102a"/>
<g transform="translate(443.5,842.3)"><ellipse rx="6.8" ry="4.6" fill="#f6b637" stroke="#6d6a2a" stroke-width="0.45"/><text y="1.7" font-size="4.8" font-weight="bold" text-anchor="middle" fill="#111" textLength="8" lengthAdjust="spacingAndGlyphs">CRY</text></g>
<circle cx="448.7" cy="839" r="1.4" fill="#e8102a"/>
<g transform="translate(472.8,841.2)"><ellipse rx="6.8" ry="4.6" fill="#f6b637" stroke="#6d6a2a" stroke-width="0.45"/><text y="1.7" font-size="4.8" font-weight="bold" text-anchor="middle" fill="#111" textLength="8" lengthAdjust="spacingAndGlyphs">CRY</text></g>
<circle cx="478" cy="837.9" r="1.4" fill="#e8102a"/>
<g transform="translate(495.3,841.2)"><ellipse rx="6.8" ry="4.6" fill="#f6b637" stroke="#6d6a2a" stroke-width="0.45"/><text y="1.7" font-size="4.8" font-weight="bold" text-anchor="middle" fill="#111" textLength="8" lengthAdjust="spacingAndGlyphs">CRY</text></g>
<circle cx="500.5" cy="837.9" r="1.4" fill="#e8102a"/>
<g transform="translate(413.5,848)"><ellipse rx="8" ry="5.2" fill="#f09a22" stroke="#6d6a2a" stroke-width="0.5"/><text y="1.7" font-size="4.8" font-weight="bold" text-anchor="middle" fill="#111" textLength="13" lengthAdjust="spacingAndGlyphs">CCAR2</text></g>
<g transform="translate(435,848.8)"><ellipse rx="8" ry="5.2" fill="#f09a22" stroke="#6d6a2a" stroke-width="0.5"/><text y="1.7" font-size="4.8" font-weight="bold" text-anchor="middle" fill="#111" textLength="13" lengthAdjust="spacingAndGlyphs">CCAR2</text></g>
<g transform="translate(464.6,848.4)"><ellipse rx="8" ry="5.2" fill="#f09a22" stroke="#6d6a2a" stroke-width="0.5"/><text y="1.7" font-size="4.8" font-weight="bold" text-anchor="middle" fill="#111" textLength="13" lengthAdjust="spacingAndGlyphs">CCAR2</text></g>
<g transform="translate(487.1,848)"><ellipse rx="8" ry="5.2" fill="#f09a22" stroke="#6d6a2a" stroke-width="0.5"/><text y="1.7" font-size="4.8" font-weight="bold" text-anchor="middle" fill="#111" textLength="13" lengthAdjust="spacingAndGlyphs">CCAR2</text></g>
<g transform="translate(422.3,855)"><ellipse rx="7.7" ry="4.9" fill="#1a6cbc"/><text y="1.8" font-size="5" font-weight="bold" text-anchor="middle" fill="#fff" textLength="8.6" lengthAdjust="spacingAndGlyphs">CIP</text></g>
<g transform="translate(444.2,855.5)"><ellipse rx="7.7" ry="4.9" fill="#1a6cbc"/><text y="1.8" font-size="5" font-weight="bold" text-anchor="middle" fill="#fff" textLength="8.6" lengthAdjust="spacingAndGlyphs">CIP</text></g>
<g transform="translate(473.4,855)"><ellipse rx="7.7" ry="4.9" fill="#1a6cbc"/><text y="1.8" font-size="5" font-weight="bold" text-anchor="middle" fill="#fff" textLength="8.6" lengthAdjust="spacingAndGlyphs">CIP</text></g>
<g transform="translate(495.9,855)"><ellipse rx="7.7" ry="4.9" fill="#1a6cbc"/><text y="1.8" font-size="5" font-weight="bold" text-anchor="middle" fill="#fff" textLength="8.6" lengthAdjust="spacingAndGlyphs">CIP</text></g>
<g transform="translate(513,823.6)"><ellipse rx="9.3" ry="6.8" fill="#e61928"/><text y="1.6" font-size="4.6" font-weight="bold" text-anchor="middle" fill="#1a0303" textLength="14" lengthAdjust="spacingAndGlyphs">DNAPK</text></g>
<line x1="504" y1="820.5" x2="430.06" y2="834.32" stroke="#d4142c" stroke-width="0.8"/>
<path d="M427.5 834.8L429.84 833.14L430.28 835.5z" fill="#d4142c"/>
<line x1="504" y1="822" x2="451.53" y2="834.78" stroke="#d4142c" stroke-width="0.8"/>
<path d="M449 835.4L451.24 833.62L451.81 835.95z" fill="#d4142c"/>
<line x1="505" y1="825" x2="481.02" y2="834.45" stroke="#d4142c" stroke-width="0.8"/>
<path d="M478.6 835.4L480.58 833.33L481.46 835.56z" fill="#d4142c"/>
<line x1="507" y1="828.5" x2="504.33" y2="829.84" stroke="#d4142c" stroke-width="0.8"/>
<path d="M502 831L503.79 828.76L504.86 830.91z" fill="#d4142c"/>
<line x1="452.3" y1="862.7" x2="452.3" y2="866.2" stroke="#2d2a86" stroke-width="0.9"/>
<path d="M452.3 869.2l-2.1 -3.8l2.1 1l2.1 -1z" fill="#2d2a86"/>
<path d="M404 889.1 L404.41 889.04 L404.82 888.86 L405.24 888.48 L405.65 887.73 L406.06 886.41 L406.48 884.5 L406.89 882.59 L407.3 881.27 L407.71 880.52 L408.12 880.14 L408.54 879.96 L408.95 879.9M413.9 889.1 L414.31 889.04 L414.72 888.86 L415.14 888.48 L415.55 887.73 L415.96 886.41 L416.38 884.5 L416.79 882.59 L417.2 881.27 L417.61 880.52 L418.02 880.14 L418.44 879.96 L418.85 879.9M423.8 889.1 L424.21 889.04 L424.62 888.86 L425.04 888.48 L425.45 887.73 L425.86 886.41 L426.27 884.5 L426.69 882.59 L427.1 881.27 L427.51 880.52 L427.93 880.14 L428.34 879.96 L428.75 879.9M433.7 889.1 L434.11 889.04 L434.52 888.86 L434.94 888.48 L435.35 887.73 L435.76 886.41 L436.17 884.5 L436.59 882.59 L437 881.27 L437.41 880.52 L437.82 880.14 L438.24 879.96 L438.65 879.9" fill="none" stroke="#e58c1d" stroke-width="1.25"/>
<path d="M402.4 887.85 L402.8 888.52 L403.2 888.88 L403.6 889.05 L404 889.1M408.95 879.9 L409.36 879.96 L409.77 880.14 L410.19 880.52 L410.6 881.27 L411.01 882.59 L411.42 884.5 L411.84 886.41 L412.25 887.73 L412.66 888.48 L413.07 888.86 L413.49 889.04 L413.9 889.1M418.85 879.9 L419.26 879.96 L419.68 880.14 L420.09 880.52 L420.5 881.27 L420.91 882.59 L421.33 884.5 L421.74 886.41 L422.15 887.73 L422.56 888.48 L422.98 888.86 L423.39 889.04 L423.8 889.1M428.75 879.9 L429.16 879.96 L429.57 880.14 L429.99 880.52 L430.4 881.27 L430.81 882.59 L431.23 884.5 L431.64 886.41 L432.05 887.73 L432.46 888.48 L432.88 888.86 L433.29 889.04 L433.7 889.1M438.65 879.9 L439.06 879.95 L439.46 880.13 L439.87 880.5 L440.27 881.2 L440.68 882.45 L441.08 884.29 L441.49 886.21 L441.89 887.59 L442.3 888.39" fill="none" stroke="#c8532a" stroke-width="1.25"/>
<path d="M401.2 889.1 L401.61 889.04 L402.02 888.86 L402.44 888.48 L402.85 887.73 L403.26 886.41 L403.67 884.5 L404.09 882.59 L404.5 881.27 L404.91 880.52 L405.32 880.14 L405.74 879.96 L406.15 879.9M411.1 889.1 L411.51 889.04 L411.92 888.86 L412.34 888.48 L412.75 887.73 L413.16 886.41 L413.57 884.5 L413.99 882.59 L414.4 881.27 L414.81 880.52 L415.22 880.14 L415.64 879.96 L416.05 879.9M421 889.1 L421.41 889.04 L421.82 888.86 L422.24 888.48 L422.65 887.73 L423.06 886.41 L423.48 884.5 L423.89 882.59 L424.3 881.27 L424.71 880.52 L425.12 880.14 L425.54 879.96 L425.95 879.9M430.9 889.1 L431.31 889.04 L431.72 888.86 L432.14 888.48 L432.55 887.73 L432.96 886.41 L433.38 884.5 L433.79 882.59 L434.2 881.27 L434.61 880.52 L435.02 880.14 L435.44 879.96 L435.85 879.9M440.8 889.1 L441.3 889.02 L441.8 888.73 L442.3 888.06" fill="none" stroke="#2b74bd" stroke-width="1.25"/>
<path d="M406.15 879.9 L406.56 879.96 L406.97 880.14 L407.39 880.52 L407.8 881.27 L408.21 882.59 L408.62 884.5 L409.04 886.41 L409.45 887.73 L409.86 888.48 L410.27 888.86 L410.69 889.04 L411.1 889.1M416.05 879.9 L416.46 879.96 L416.88 880.14 L417.29 880.52 L417.7 881.27 L418.11 882.59 L418.52 884.5 L418.94 886.41 L419.35 887.73 L419.76 888.48 L420.18 888.86 L420.59 889.04 L421 889.1M425.95 879.9 L426.36 879.96 L426.77 880.14 L427.19 880.52 L427.6 881.27 L428.01 882.59 L428.42 884.5 L428.84 886.41 L429.25 887.73 L429.66 888.48 L430.07 888.86 L430.49 889.04 L430.9 889.1M435.85 879.9 L436.26 879.96 L436.67 880.14 L437.09 880.52 L437.5 881.27 L437.91 882.59 L438.32 884.5 L438.74 886.41 L439.15 887.73 L439.56 888.48 L439.97 888.86 L440.39 889.04 L440.8 889.1" fill="none" stroke="#2c3585" stroke-width="1.25"/>
<path d="M442.3 884.59 L442.71 883.17 L443.12 881.85 L443.53 880.71 L443.93 879.84 L444.34 879.29 L444.75 879.1M449.6 889.9 L449.95 889.76 L450.3 889.35" fill="none" stroke="#2c3585" stroke-width="1.15"/>
<path d="M444.75 879.1 L445.15 879.28 L445.56 879.82 L445.96 880.68 L446.37 881.8 L446.77 883.1 L447.18 884.5 L447.58 885.9 L447.98 887.2 L448.39 888.32 L448.79 889.18 L449.2 889.72 L449.6 889.9" fill="none" stroke="#2c3585" stroke-width="1.15"/>
<path d="M456.8 889.9 L457.2 889.72 L457.61 889.18 L458.01 888.32 L458.42 887.2 L458.82 885.9 L459.22 884.5 L459.63 883.1 L460.03 881.8 L460.44 880.68 L460.84 879.82 L461.25 879.28 L461.65 879.1" fill="none" stroke="#c8532a" stroke-width="1.15"/>
<path d="M454.4 884.59 L454.88 886.24 L455.36 887.72 L455.84 888.89 L456.32 889.64 L456.8 889.9M461.65 879.1 L462.02 879.26 L462.4 879.72" fill="none" stroke="#e58c1d" stroke-width="1.15"/>
<path d="M465.2 889.1 L465.61 889.04 L466.02 888.86 L466.44 888.48 L466.85 887.73 L467.26 886.41 L467.67 884.5 L468.09 882.59 L468.5 881.27 L468.91 880.52 L469.32 880.14 L469.74 879.96 L470.15 879.9M475.1 889.1 L475.51 889.04 L475.92 888.86 L476.34 888.48 L476.75 887.73 L477.16 886.41 L477.57 884.5 L477.99 882.59 L478.4 881.27 L478.81 880.52 L479.22 880.14 L479.64 879.96 L480.05 879.9M485 889.1 L485.41 889.04 L485.82 888.86 L486.24 888.48 L486.65 887.73 L487.06 886.41 L487.48 884.5 L487.89 882.59 L488.3 881.27 L488.71 880.52 L489.12 880.14 L489.54 879.96 L489.95 879.9M494.9 889.1 L495.31 889.04 L495.72 888.86 L496.14 888.48 L496.55 887.73 L496.96 886.41 L497.38 884.5 L497.79 882.59 L498.2 881.27 L498.61 880.52 L499.02 880.14 L499.44 879.96 L499.85 879.9" fill="none" stroke="#e58c1d" stroke-width="1.25"/>
<path d="M463.6 887.85 L464 888.52 L464.4 888.88 L464.8 889.05 L465.2 889.1M470.15 879.9 L470.56 879.96 L470.97 880.14 L471.39 880.52 L471.8 881.27 L472.21 882.59 L472.62 884.5 L473.04 886.41 L473.45 887.73 L473.86 888.48 L474.27 888.86 L474.69 889.04 L475.1 889.1M480.05 879.9 L480.46 879.96 L480.88 880.14 L481.29 880.52 L481.7 881.27 L482.11 882.59 L482.52 884.5 L482.94 886.41 L483.35 887.73 L483.76 888.48 L484.18 888.86 L484.59 889.04 L485 889.1M489.95 879.9 L490.36 879.96 L490.77 880.14 L491.19 880.52 L491.6 881.27 L492.01 882.59 L492.42 884.5 L492.84 886.41 L493.25 887.73 L493.66 888.48 L494.07 888.86 L494.49 889.04 L494.9 889.1M499.85 879.9 L500.26 879.96 L500.68 880.14 L501.09 880.53 L501.5 881.28 L501.92 882.62 L502.33 884.53 L502.75 886.44 L503.16 887.76 L503.57 888.49 L503.99 888.87 L504.4 889.05" fill="none" stroke="#c8532a" stroke-width="1.25"/>
<path d="M462.4 889.1 L462.81 889.04 L463.22 888.86 L463.64 888.48 L464.05 887.73 L464.46 886.41 L464.88 884.5 L465.29 882.59 L465.7 881.27 L466.11 880.52 L466.52 880.14 L466.94 879.96 L467.35 879.9M472.3 889.1 L472.71 889.04 L473.12 888.86 L473.54 888.48 L473.95 887.73 L474.36 886.41 L474.77 884.5 L475.19 882.59 L475.6 881.27 L476.01 880.52 L476.42 880.14 L476.84 879.96 L477.25 879.9M482.2 889.1 L482.61 889.04 L483.02 888.86 L483.44 888.48 L483.85 887.73 L484.26 886.41 L484.67 884.5 L485.09 882.59 L485.5 881.27 L485.91 880.52 L486.32 880.14 L486.74 879.96 L487.15 879.9M492.1 889.1 L492.51 889.04 L492.92 888.86 L493.34 888.48 L493.75 887.73 L494.16 886.41 L494.57 884.5 L494.99 882.59 L495.4 881.27 L495.81 880.52 L496.22 880.14 L496.64 879.96 L497.05 879.9M502 889.1 L502.48 889.02 L502.96 888.76 L503.44 888.17 L503.92 886.94 L504.4 884.87" fill="none" stroke="#2b74bd" stroke-width="1.25"/>
<path d="M467.35 879.9 L467.76 879.96 L468.17 880.14 L468.59 880.52 L469 881.27 L469.41 882.59 L469.82 884.5 L470.24 886.41 L470.65 887.73 L471.06 888.48 L471.47 888.86 L471.89 889.04 L472.3 889.1M477.25 879.9 L477.66 879.96 L478.07 880.14 L478.49 880.52 L478.9 881.27 L479.31 882.59 L479.73 884.5 L480.14 886.41 L480.55 887.73 L480.96 888.48 L481.38 888.86 L481.79 889.04 L482.2 889.1M487.15 879.9 L487.56 879.96 L487.97 880.14 L488.39 880.52 L488.8 881.27 L489.21 882.59 L489.62 884.5 L490.04 886.41 L490.45 887.73 L490.86 888.48 L491.27 888.86 L491.69 889.04 L492.1 889.1M497.05 879.9 L497.46 879.96 L497.87 880.14 L498.29 880.52 L498.7 881.27 L499.11 882.59 L499.52 884.5 L499.94 886.41 L500.35 887.73 L500.76 888.48 L501.17 888.86 L501.59 889.04 L502 889.1" fill="none" stroke="#2c3585" stroke-width="1.25"/>
<text x="510" y="886.58" font-size="4.4" text-anchor="middle" font-weight="bold" fill="#111" stroke="#111" stroke-width="0.06">(III)</text>
<g transform="translate(417.6,877.4)"><ellipse rx="6.8" ry="4.6" fill="#f6b637" stroke="#6d6a2a" stroke-width="0.45"/><text y="1.7" font-size="4.8" font-weight="bold" text-anchor="middle" fill="#111" textLength="8" lengthAdjust="spacingAndGlyphs">CRY</text></g>
<circle cx="422.8" cy="874.1" r="1.4" fill="#e8102a"/>
<g transform="translate(437.4,877.4)"><ellipse rx="6.8" ry="4.6" fill="#f6b637" stroke="#6d6a2a" stroke-width="0.45"/><text y="1.7" font-size="4.8" font-weight="bold" text-anchor="middle" fill="#111" textLength="8" lengthAdjust="spacingAndGlyphs">CRY</text></g>
<circle cx="442.6" cy="874.1" r="1.4" fill="#e8102a"/>
<g transform="translate(476.9,876.6)"><ellipse rx="6.8" ry="4.6" fill="#f6b637" stroke="#6d6a2a" stroke-width="0.45"/><text y="1.7" font-size="4.8" font-weight="bold" text-anchor="middle" fill="#111" textLength="8" lengthAdjust="spacingAndGlyphs">CRY</text></g>
<circle cx="482.1" cy="873.3" r="1.4" fill="#e8102a"/>
<g transform="translate(495.3,876.6)"><ellipse rx="6.8" ry="4.6" fill="#f6b637" stroke="#6d6a2a" stroke-width="0.45"/><text y="1.7" font-size="4.8" font-weight="bold" text-anchor="middle" fill="#111" textLength="8" lengthAdjust="spacingAndGlyphs">CRY</text></g>
<circle cx="500.5" cy="873.3" r="1.4" fill="#e8102a"/>
<g transform="translate(409.4,884.8)"><ellipse rx="8" ry="5.2" fill="#f09a22" stroke="#6d6a2a" stroke-width="0.5"/><text y="1.7" font-size="4.8" font-weight="bold" text-anchor="middle" fill="#111" textLength="13" lengthAdjust="spacingAndGlyphs">CCAR2</text></g>
<g transform="translate(429.2,884.8)"><ellipse rx="8" ry="5.2" fill="#f09a22" stroke="#6d6a2a" stroke-width="0.5"/><text y="1.7" font-size="4.8" font-weight="bold" text-anchor="middle" fill="#111" textLength="13" lengthAdjust="spacingAndGlyphs">CCAR2</text></g>
<g transform="translate(469.7,884.2)"><ellipse rx="8" ry="5.2" fill="#f09a22" stroke="#6d6a2a" stroke-width="0.5"/><text y="1.7" font-size="4.8" font-weight="bold" text-anchor="middle" fill="#111" textLength="13" lengthAdjust="spacingAndGlyphs">CCAR2</text></g>
<g transform="translate(487.1,883.5)"><ellipse rx="8" ry="5.2" fill="#f09a22" stroke="#6d6a2a" stroke-width="0.5"/><text y="1.7" font-size="4.8" font-weight="bold" text-anchor="middle" fill="#111" textLength="13" lengthAdjust="spacingAndGlyphs">CCAR2</text></g>
<g transform="translate(418.6,890.9)"><ellipse rx="7.7" ry="4.9" fill="#1a6cbc"/><text y="1.8" font-size="5" font-weight="bold" text-anchor="middle" fill="#fff" textLength="8.6" lengthAdjust="spacingAndGlyphs">CIP</text></g>
<g transform="translate(438,891.3)"><ellipse rx="7.7" ry="4.9" fill="#1a6cbc"/><text y="1.8" font-size="5" font-weight="bold" text-anchor="middle" fill="#fff" textLength="8.6" lengthAdjust="spacingAndGlyphs">CIP</text></g>
<g transform="translate(478.3,890.9)"><ellipse rx="7.7" ry="4.9" fill="#1a6cbc"/><text y="1.8" font-size="5" font-weight="bold" text-anchor="middle" fill="#fff" textLength="8.6" lengthAdjust="spacingAndGlyphs">CIP</text></g>
<g transform="translate(496.3,890.9)"><ellipse rx="7.7" ry="4.9" fill="#1a6cbc"/><text y="1.8" font-size="5" font-weight="bold" text-anchor="middle" fill="#fff" textLength="8.6" lengthAdjust="spacingAndGlyphs">CIP</text></g>
<text x="566" y="855.72" font-size="9.5" text-anchor="start" font-weight="bold" fill="#1a1a1a" stroke="#1a1a1a" stroke-width="0.13">(3)</text>
<path d="M285.5 669.9 L285.91 669.84 L286.32 669.66 L286.74 669.28 L287.15 668.53 L287.56 667.21 L287.98 665.3 L288.39 663.39 L288.8 662.07 L289.21 661.32 L289.62 660.94 L290.04 660.76 L290.45 660.7M295.4 669.9 L295.81 669.84 L296.22 669.66 L296.64 669.28 L297.05 668.53 L297.46 667.21 L297.88 665.3 L298.29 663.39 L298.7 662.07 L299.11 661.32 L299.52 660.94 L299.94 660.76 L300.35 660.7M305.3 669.9 L305.71 669.84 L306.12 669.66 L306.54 669.28 L306.95 668.53 L307.36 667.21 L307.77 665.3 L308.19 663.39 L308.6 662.07 L309.01 661.32 L309.43 660.94 L309.84 660.76 L310.25 660.7M315.2 669.9 L315.61 669.84 L316.02 669.66 L316.44 669.28 L316.85 668.53 L317.26 667.21 L317.67 665.3 L318.09 663.39 L318.5 662.07 L318.91 661.32 L319.32 660.94 L319.74 660.76 L320.15 660.7M325.1 669.9 L325.51 669.84 L325.93 669.66 L326.34 669.28 L326.75 668.53 L327.16 667.21 L327.58 665.3 L327.99 663.39 L328.4 662.07 L328.81 661.32 L329.23 660.94 L329.64 660.76 L330.05 660.7" fill="none" stroke="#e58c1d" stroke-width="1.25"/>
<path d="M283.9 668.65 L284.3 669.32 L284.7 669.68 L285.1 669.85 L285.5 669.9M290.45 660.7 L290.86 660.76 L291.27 660.94 L291.69 661.32 L292.1 662.07 L292.51 663.39 L292.92 665.3 L293.34 667.21 L293.75 668.53 L294.16 669.28 L294.57 669.66 L294.99 669.84 L295.4 669.9M300.35 660.7 L300.76 660.76 L301.18 660.94 L301.59 661.32 L302 662.07 L302.41 663.39 L302.83 665.3 L303.24 667.21 L303.65 668.53 L304.06 669.28 L304.48 669.66 L304.89 669.84 L305.3 669.9M310.25 660.7 L310.66 660.76 L311.07 660.94 L311.49 661.32 L311.9 662.07 L312.31 663.39 L312.73 665.3 L313.14 667.21 L313.55 668.53 L313.96 669.28 L314.38 669.66 L314.79 669.84 L315.2 669.9M320.15 660.7 L320.56 660.76 L320.97 660.94 L321.39 661.32 L321.8 662.07 L322.21 663.39 L322.62 665.3 L323.04 667.21 L323.45 668.53 L323.86 669.28 L324.27 669.66 L324.69 669.84 L325.1 669.9M330.05 660.7 L330.46 660.76 L330.88 660.94 L331.29 661.32 L331.7 662.07" fill="none" stroke="#c8532a" stroke-width="1.25"/>
<path d="M282.7 669.9 L283.11 669.84 L283.52 669.66 L283.94 669.28 L284.35 668.53 L284.76 667.21 L285.17 665.3 L285.59 663.39 L286 662.07 L286.41 661.32 L286.82 660.94 L287.24 660.76 L287.65 660.7M292.6 669.9 L293.01 669.84 L293.42 669.66 L293.84 669.28 L294.25 668.53 L294.66 667.21 L295.07 665.3 L295.49 663.39 L295.9 662.07 L296.31 661.32 L296.72 660.94 L297.14 660.76 L297.55 660.7M302.5 669.9 L302.91 669.84 L303.32 669.66 L303.74 669.28 L304.15 668.53 L304.56 667.21 L304.98 665.3 L305.39 663.39 L305.8 662.07 L306.21 661.32 L306.62 660.94 L307.04 660.76 L307.45 660.7M312.4 669.9 L312.81 669.84 L313.22 669.66 L313.64 669.28 L314.05 668.53 L314.46 667.21 L314.88 665.3 L315.29 663.39 L315.7 662.07 L316.11 661.32 L316.52 660.94 L316.94 660.76 L317.35 660.7M322.3 669.9 L322.71 669.84 L323.12 669.66 L323.54 669.28 L323.95 668.53 L324.36 667.21 L324.77 665.3 L325.19 663.39 L325.6 662.07 L326.01 661.32 L326.43 660.94 L326.84 660.76 L327.25 660.7" fill="none" stroke="#2b74bd" stroke-width="1.25"/>
<path d="M287.65 660.7 L288.06 660.76 L288.47 660.94 L288.89 661.32 L289.3 662.07 L289.71 663.39 L290.12 665.3 L290.54 667.21 L290.95 668.53 L291.36 669.28 L291.77 669.66 L292.19 669.84 L292.6 669.9M297.55 660.7 L297.96 660.76 L298.38 660.94 L298.79 661.32 L299.2 662.07 L299.61 663.39 L300.02 665.3 L300.44 667.21 L300.85 668.53 L301.26 669.28 L301.68 669.66 L302.09 669.84 L302.5 669.9M307.45 660.7 L307.86 660.76 L308.27 660.94 L308.69 661.32 L309.1 662.07 L309.51 663.39 L309.92 665.3 L310.34 667.21 L310.75 668.53 L311.16 669.28 L311.57 669.66 L311.99 669.84 L312.4 669.9M317.35 660.7 L317.76 660.76 L318.17 660.94 L318.59 661.32 L319 662.07 L319.41 663.39 L319.82 665.3 L320.24 667.21 L320.65 668.53 L321.06 669.28 L321.47 669.66 L321.89 669.84 L322.3 669.9M327.25 660.7 L327.65 660.75 L328.06 660.93 L328.46 661.29 L328.87 661.99 L329.27 663.24 L329.68 665.06 L330.08 666.98 L330.49 668.37 L330.89 669.18 L331.3 669.6 L331.7 669.82" fill="none" stroke="#2c3585" stroke-width="1.25"/>
<path d="M337.8 669.9 L338.21 669.84 L338.62 669.66 L339.04 669.28 L339.45 668.53 L339.86 667.21 L340.27 665.3 L340.69 663.39 L341.1 662.07 L341.51 661.32 L341.93 660.94 L342.34 660.76 L342.75 660.7M347.7 669.9 L348.11 669.84 L348.52 669.66 L348.94 669.28 L349.35 668.53 L349.76 667.21 L350.17 665.3 L350.59 663.39 L351 662.07 L351.41 661.32 L351.82 660.94 L352.24 660.76 L352.65 660.7M357.6 669.9 L358.01 669.84 L358.43 669.66 L358.84 669.28 L359.25 668.53 L359.66 667.21 L360.08 665.3 L360.49 663.39 L360.9 662.07 L361.31 661.32 L361.73 660.94 L362.14 660.76 L362.55 660.7M367.5 669.9 L367.91 669.84 L368.32 669.66 L368.74 669.28 L369.15 668.53 L369.56 667.21 L369.98 665.3 L370.39 663.39 L370.8 662.07 L371.21 661.32 L371.62 660.94 L372.04 660.76 L372.45 660.7M377.4 669.9 L377.81 669.84 L378.23 669.66 L378.64 669.28 L379.05 668.53 L379.46 667.21 L379.88 665.3 L380.29 663.39 L380.7 662.07 L381.11 661.32 L381.53 660.94 L381.94 660.76 L382.35 660.7" fill="none" stroke="#e58c1d" stroke-width="1.25"/>
<path d="M336.2 668.65 L336.6 669.32 L337 669.68 L337.4 669.85 L337.8 669.9M342.75 660.7 L343.16 660.76 L343.57 660.94 L343.99 661.32 L344.4 662.07 L344.81 663.39 L345.23 665.3 L345.64 667.21 L346.05 668.53 L346.46 669.28 L346.88 669.66 L347.29 669.84 L347.7 669.9M352.65 660.7 L353.06 660.76 L353.48 660.94 L353.89 661.32 L354.3 662.07 L354.71 663.39 L355.12 665.3 L355.54 667.21 L355.95 668.53 L356.36 669.28 L356.78 669.66 L357.19 669.84 L357.6 669.9M362.55 660.7 L362.96 660.76 L363.38 660.94 L363.79 661.32 L364.2 662.07 L364.61 663.39 L365.02 665.3 L365.44 667.21 L365.85 668.53 L366.26 669.28 L366.68 669.66 L367.09 669.84 L367.5 669.9M372.45 660.7 L372.86 660.76 L373.27 660.94 L373.69 661.32 L374.1 662.07 L374.51 663.39 L374.92 665.3 L375.34 667.21 L375.75 668.53 L376.16 669.28 L376.57 669.66 L376.99 669.84 L377.4 669.9M382.35 660.7 L382.77 660.76 L383.18 660.94 L383.6 661.33 L384.01 662.09 L384.43 663.44 L384.84 665.37 L385.25 667.28 L385.67 668.58 L386.08 669.3 L386.5 669.68" fill="none" stroke="#c8532a" stroke-width="1.25"/>
<path d="M335 669.9 L335.41 669.84 L335.82 669.66 L336.24 669.28 L336.65 668.53 L337.06 667.21 L337.48 665.3 L337.89 663.39 L338.3 662.07 L338.71 661.32 L339.12 660.94 L339.54 660.76 L339.95 660.7M344.9 669.9 L345.31 669.84 L345.72 669.66 L346.14 669.28 L346.55 668.53 L346.96 667.21 L347.38 665.3 L347.79 663.39 L348.2 662.07 L348.61 661.32 L349.02 660.94 L349.44 660.76 L349.85 660.7M354.8 669.9 L355.21 669.84 L355.62 669.66 L356.04 669.28 L356.45 668.53 L356.86 667.21 L357.27 665.3 L357.69 663.39 L358.1 662.07 L358.51 661.32 L358.93 660.94 L359.34 660.76 L359.75 660.7M364.7 669.9 L365.11 669.84 L365.52 669.66 L365.94 669.28 L366.35 668.53 L366.76 667.21 L367.17 665.3 L367.59 663.39 L368 662.07 L368.41 661.32 L368.82 660.94 L369.24 660.76 L369.65 660.7M374.6 669.9 L375.01 669.84 L375.43 669.66 L375.84 669.28 L376.25 668.53 L376.66 667.21 L377.08 665.3 L377.49 663.39 L377.9 662.07 L378.31 661.32 L378.73 660.94 L379.14 660.76 L379.55 660.7M384.5 669.9 L384.9 669.85 L385.3 669.68 L385.7 669.32 L386.1 668.65 L386.5 667.45" fill="none" stroke="#2b74bd" stroke-width="1.25"/>
<path d="M339.95 660.7 L340.36 660.76 L340.77 660.94 L341.19 661.32 L341.6 662.07 L342.01 663.39 L342.42 665.3 L342.84 667.21 L343.25 668.53 L343.66 669.28 L344.07 669.66 L344.49 669.84 L344.9 669.9M349.85 660.7 L350.26 660.76 L350.68 660.94 L351.09 661.32 L351.5 662.07 L351.91 663.39 L352.33 665.3 L352.74 667.21 L353.15 668.53 L353.56 669.28 L353.98 669.66 L354.39 669.84 L354.8 669.9M359.75 660.7 L360.16 660.76 L360.57 660.94 L360.99 661.32 L361.4 662.07 L361.81 663.39 L362.23 665.3 L362.64 667.21 L363.05 668.53 L363.46 669.28 L363.88 669.66 L364.29 669.84 L364.7 669.9M369.65 660.7 L370.06 660.76 L370.47 660.94 L370.89 661.32 L371.3 662.07 L371.71 663.39 L372.12 665.3 L372.54 667.21 L372.95 668.53 L373.36 669.28 L373.77 669.66 L374.19 669.84 L374.6 669.9M379.55 660.7 L379.96 660.76 L380.38 660.94 L380.79 661.32 L381.2 662.07 L381.61 663.39 L382.02 665.3 L382.44 667.21 L382.85 668.53 L383.26 669.28 L383.68 669.66 L384.09 669.84 L384.5 669.9" fill="none" stroke="#2c3585" stroke-width="1.25"/>
<text x="391" y="666.58" font-size="4.4" text-anchor="middle" font-weight="bold" fill="#111" stroke="#111" stroke-width="0.06">(I)</text>
<g transform="translate(310.9,680.2)"><ellipse rx="6.8" ry="4.6" fill="#f6b637" stroke="#6d6a2a" stroke-width="0.45"/><text y="1.7" font-size="4.8" font-weight="bold" text-anchor="middle" fill="#111" textLength="8" lengthAdjust="spacingAndGlyphs">CRY</text></g>
<g transform="translate(361,681.7)"><ellipse rx="6.8" ry="4.6" fill="#f6b637" stroke="#6d6a2a" stroke-width="0.45"/><text y="1.7" font-size="4.8" font-weight="bold" text-anchor="middle" fill="#111" textLength="8" lengthAdjust="spacingAndGlyphs">CRY</text></g>
<g transform="translate(386.5,679)"><ellipse rx="6.8" ry="4.6" fill="#f6b637" stroke="#6d6a2a" stroke-width="0.45"/><text y="1.7" font-size="4.8" font-weight="bold" text-anchor="middle" fill="#111" textLength="8" lengthAdjust="spacingAndGlyphs">CRY</text></g>
<g transform="translate(276.1,685.8)"><ellipse rx="8" ry="5.2" fill="#f09a22" stroke="#6d6a2a" stroke-width="0.5"/><text y="1.7" font-size="4.8" font-weight="bold" text-anchor="middle" fill="#111" textLength="13" lengthAdjust="spacingAndGlyphs">CCAR2</text></g>
<g transform="translate(302.3,686.8)"><ellipse rx="8" ry="5.2" fill="#f09a22" stroke="#6d6a2a" stroke-width="0.5"/><text y="1.7" font-size="4.8" font-weight="bold" text-anchor="middle" fill="#111" textLength="13" lengthAdjust="spacingAndGlyphs">CCAR2</text></g>
<g transform="translate(327.6,688.4)"><ellipse rx="8" ry="5.2" fill="#f09a22" stroke="#6d6a2a" stroke-width="0.5"/><text y="1.7" font-size="4.8" font-weight="bold" text-anchor="middle" fill="#111" textLength="13" lengthAdjust="spacingAndGlyphs">CCAR2</text></g>
<g transform="translate(352.8,687.8)"><ellipse rx="8" ry="5.2" fill="#f09a22" stroke="#6d6a2a" stroke-width="0.5"/><text y="1.7" font-size="4.8" font-weight="bold" text-anchor="middle" fill="#111" textLength="13" lengthAdjust="spacingAndGlyphs">CCAR2</text></g>
<g transform="translate(378.3,685.2)"><ellipse rx="8" ry="5.2" fill="#f09a22" stroke="#6d6a2a" stroke-width="0.5"/><text y="1.7" font-size="4.8" font-weight="bold" text-anchor="middle" fill="#111" textLength="13" lengthAdjust="spacingAndGlyphs">CCAR2</text></g>
<g transform="translate(284.7,692.5)"><ellipse rx="7.7" ry="4.9" fill="#1a6cbc"/><text y="1.8" font-size="5" font-weight="bold" text-anchor="middle" fill="#fff" textLength="8.6" lengthAdjust="spacingAndGlyphs">CIP</text></g>
<g transform="translate(311.9,692.9)"><ellipse rx="7.7" ry="4.9" fill="#1a6cbc"/><text y="1.8" font-size="5" font-weight="bold" text-anchor="middle" fill="#fff" textLength="8.6" lengthAdjust="spacingAndGlyphs">CIP</text></g>
<g transform="translate(336.4,695.4)"><ellipse rx="7.7" ry="4.9" fill="#1a6cbc"/><text y="1.8" font-size="5" font-weight="bold" text-anchor="middle" fill="#fff" textLength="8.6" lengthAdjust="spacingAndGlyphs">CIP</text></g>
<g transform="translate(362,694.6)"><ellipse rx="7.7" ry="4.9" fill="#1a6cbc"/><text y="1.8" font-size="5" font-weight="bold" text-anchor="middle" fill="#fff" textLength="8.6" lengthAdjust="spacingAndGlyphs">CIP</text></g>
<g transform="translate(387.5,691.9)"><ellipse rx="7.7" ry="4.9" fill="#1a6cbc"/><text y="1.8" font-size="5" font-weight="bold" text-anchor="middle" fill="#fff" textLength="8.6" lengthAdjust="spacingAndGlyphs">CIP</text></g>
<line x1="335.4" y1="700" x2="335.4" y2="704.2" stroke="#2d2a86" stroke-width="0.9"/>
<path d="M335.4 707.2l-2.1 -3.8l2.1 1l2.1 -1z" fill="#2d2a86"/>
<path d="M285.5 733.1 L285.91 733.04 L286.32 732.86 L286.74 732.48 L287.15 731.73 L287.56 730.41 L287.98 728.5 L288.39 726.59 L288.8 725.27 L289.21 724.52 L289.62 724.14 L290.04 723.96 L290.45 723.9M295.4 733.1 L295.81 733.04 L296.22 732.86 L296.64 732.48 L297.05 731.73 L297.46 730.41 L297.88 728.5 L298.29 726.59 L298.7 725.27 L299.11 724.52 L299.52 724.14 L299.94 723.96 L300.35 723.9M305.3 733.1 L305.71 733.04 L306.12 732.86 L306.54 732.48 L306.95 731.73 L307.36 730.41 L307.77 728.5 L308.19 726.59 L308.6 725.27 L309.01 724.52 L309.43 724.14 L309.84 723.96 L310.25 723.9M315.2 733.1 L315.61 733.04 L316.02 732.86 L316.44 732.48 L316.85 731.73 L317.26 730.41 L317.67 728.5 L318.09 726.59 L318.5 725.27 L318.91 724.52 L319.32 724.14 L319.74 723.96 L320.15 723.9M325.1 733.1 L325.51 733.04 L325.93 732.86 L326.34 732.48 L326.75 731.73 L327.16 730.41 L327.58 728.5 L327.99 726.59 L328.4 725.27 L328.81 724.52 L329.23 724.14 L329.64 723.96 L330.05 723.9" fill="none" stroke="#e58c1d" stroke-width="1.25"/>
<path d="M283.9 731.85 L284.3 732.52 L284.7 732.88 L285.1 733.05 L285.5 733.1M290.45 723.9 L290.86 723.96 L291.27 724.14 L291.69 724.52 L292.1 725.27 L292.51 726.59 L292.92 728.5 L293.34 730.41 L293.75 731.73 L294.16 732.48 L294.57 732.86 L294.99 733.04 L295.4 733.1M300.35 723.9 L300.76 723.96 L301.18 724.14 L301.59 724.52 L302 725.27 L302.41 726.59 L302.83 728.5 L303.24 730.41 L303.65 731.73 L304.06 732.48 L304.48 732.86 L304.89 733.04 L305.3 733.1M310.25 723.9 L310.66 723.96 L311.07 724.14 L311.49 724.52 L311.9 725.27 L312.31 726.59 L312.73 728.5 L313.14 730.41 L313.55 731.73 L313.96 732.48 L314.38 732.86 L314.79 733.04 L315.2 733.1M320.15 723.9 L320.56 723.96 L320.97 724.14 L321.39 724.52 L321.8 725.27 L322.21 726.59 L322.62 728.5 L323.04 730.41 L323.45 731.73 L323.86 732.48 L324.27 732.86 L324.69 733.04 L325.1 733.1M330.05 723.9 L330.47 723.96 L330.88 724.15 L331.3 724.54" fill="none" stroke="#c8532a" stroke-width="1.25"/>
<path d="M282.7 733.1 L283.11 733.04 L283.52 732.86 L283.94 732.48 L284.35 731.73 L284.76 730.41 L285.17 728.5 L285.59 726.59 L286 725.27 L286.41 724.52 L286.82 724.14 L287.24 723.96 L287.65 723.9M292.6 733.1 L293.01 733.04 L293.42 732.86 L293.84 732.48 L294.25 731.73 L294.66 730.41 L295.07 728.5 L295.49 726.59 L295.9 725.27 L296.31 724.52 L296.72 724.14 L297.14 723.96 L297.55 723.9M302.5 733.1 L302.91 733.04 L303.32 732.86 L303.74 732.48 L304.15 731.73 L304.56 730.41 L304.98 728.5 L305.39 726.59 L305.8 725.27 L306.21 724.52 L306.62 724.14 L307.04 723.96 L307.45 723.9M312.4 733.1 L312.81 733.04 L313.22 732.86 L313.64 732.48 L314.05 731.73 L314.46 730.41 L314.88 728.5 L315.29 726.59 L315.7 725.27 L316.11 724.52 L316.52 724.14 L316.94 723.96 L317.35 723.9M322.3 733.1 L322.71 733.04 L323.12 732.86 L323.54 732.48 L323.95 731.73 L324.36 730.41 L324.77 728.5 L325.19 726.59 L325.6 725.27 L326.01 724.52 L326.43 724.14 L326.84 723.96 L327.25 723.9" fill="none" stroke="#2b74bd" stroke-width="1.25"/>
<path d="M287.65 723.9 L288.06 723.96 L288.47 724.14 L288.89 724.52 L289.3 725.27 L289.71 726.59 L290.12 728.5 L290.54 730.41 L290.95 731.73 L291.36 732.48 L291.77 732.86 L292.19 733.04 L292.6 733.1M297.55 723.9 L297.96 723.96 L298.38 724.14 L298.79 724.52 L299.2 725.27 L299.61 726.59 L300.02 728.5 L300.44 730.41 L300.85 731.73 L301.26 732.48 L301.68 732.86 L302.09 733.04 L302.5 733.1M307.45 723.9 L307.86 723.96 L308.27 724.14 L308.69 724.52 L309.1 725.27 L309.51 726.59 L309.92 728.5 L310.34 730.41 L310.75 731.73 L311.16 732.48 L311.57 732.86 L311.99 733.04 L312.4 733.1M317.35 723.9 L317.76 723.96 L318.17 724.14 L318.59 724.52 L319 725.27 L319.41 726.59 L319.82 728.5 L320.24 730.41 L320.65 731.73 L321.06 732.48 L321.47 732.86 L321.89 733.04 L322.3 733.1M327.25 723.9 L327.65 723.95 L328.06 724.13 L328.47 724.5 L328.87 725.2 L329.27 726.44 L329.68 728.28 L330.09 730.19 L330.49 731.58 L330.89 732.38 L331.3 732.81" fill="none" stroke="#2c3585" stroke-width="1.25"/>
<path d="M338.2 733.1 L338.61 733.04 L339.02 732.86 L339.44 732.48 L339.85 731.73 L340.26 730.41 L340.67 728.5 L341.09 726.59 L341.5 725.27 L341.91 724.52 L342.32 724.14 L342.74 723.96 L343.15 723.9M348.1 733.1 L348.51 733.04 L348.92 732.86 L349.34 732.48 L349.75 731.73 L350.16 730.41 L350.57 728.5 L350.99 726.59 L351.4 725.27 L351.81 724.52 L352.22 724.14 L352.64 723.96 L353.05 723.9M358 733.1 L358.41 733.04 L358.82 732.86 L359.24 732.48 L359.65 731.73 L360.06 730.41 L360.48 728.5 L360.89 726.59 L361.3 725.27 L361.71 724.52 L362.12 724.14 L362.54 723.96 L362.95 723.9M367.9 733.1 L368.31 733.04 L368.72 732.86 L369.14 732.48 L369.55 731.73 L369.96 730.41 L370.38 728.5 L370.79 726.59 L371.2 725.27 L371.61 724.52 L372.02 724.14 L372.44 723.96 L372.85 723.9M377.8 733.1 L378.21 733.04 L378.62 732.86 L379.04 732.48 L379.45 731.73 L379.86 730.41 L380.27 728.5 L380.69 726.59 L381.1 725.27 L381.51 724.52 L381.93 724.14 L382.34 723.96 L382.75 723.9" fill="none" stroke="#e58c1d" stroke-width="1.25"/>
<path d="M336.6 731.85 L337 732.52 L337.4 732.88 L337.8 733.05 L338.2 733.1M343.15 723.9 L343.56 723.96 L343.97 724.14 L344.39 724.52 L344.8 725.27 L345.21 726.59 L345.62 728.5 L346.04 730.41 L346.45 731.73 L346.86 732.48 L347.27 732.86 L347.69 733.04 L348.1 733.1M353.05 723.9 L353.46 723.96 L353.88 724.14 L354.29 724.52 L354.7 725.27 L355.11 726.59 L355.52 728.5 L355.94 730.41 L356.35 731.73 L356.76 732.48 L357.18 732.86 L357.59 733.04 L358 733.1M362.95 723.9 L363.36 723.96 L363.77 724.14 L364.19 724.52 L364.6 725.27 L365.01 726.59 L365.42 728.5 L365.84 730.41 L366.25 731.73 L366.66 732.48 L367.07 732.86 L367.49 733.04 L367.9 733.1M372.85 723.9 L373.26 723.96 L373.67 724.14 L374.09 724.52 L374.5 725.27 L374.91 726.59 L375.32 728.5 L375.74 730.41 L376.15 731.73 L376.56 732.48 L376.97 732.86 L377.39 733.04 L377.8 733.1M382.75 723.9 L383.17 723.96 L383.58 724.15 L384 724.54 L384.42 725.31 L384.83 726.68 L385.25 728.62 L385.67 730.52 L386.08 731.81 L386.5 732.52" fill="none" stroke="#c8532a" stroke-width="1.25"/>
<path d="M335.4 733.1 L335.81 733.04 L336.22 732.86 L336.64 732.48 L337.05 731.73 L337.46 730.41 L337.88 728.5 L338.29 726.59 L338.7 725.27 L339.11 724.52 L339.52 724.14 L339.94 723.96 L340.35 723.9M345.3 733.1 L345.71 733.04 L346.12 732.86 L346.54 732.48 L346.95 731.73 L347.36 730.41 L347.77 728.5 L348.19 726.59 L348.6 725.27 L349.01 724.52 L349.42 724.14 L349.84 723.96 L350.25 723.9M355.2 733.1 L355.61 733.04 L356.02 732.86 L356.44 732.48 L356.85 731.73 L357.26 730.41 L357.67 728.5 L358.09 726.59 L358.5 725.27 L358.91 724.52 L359.32 724.14 L359.74 723.96 L360.15 723.9M365.1 733.1 L365.51 733.04 L365.92 732.86 L366.34 732.48 L366.75 731.73 L367.16 730.41 L367.57 728.5 L367.99 726.59 L368.4 725.27 L368.81 724.52 L369.22 724.14 L369.64 723.96 L370.05 723.9M375 733.1 L375.41 733.04 L375.82 732.86 L376.24 732.48 L376.65 731.73 L377.06 730.41 L377.48 728.5 L377.89 726.59 L378.3 725.27 L378.71 724.52 L379.12 724.14 L379.54 723.96 L379.95 723.9M384.9 733.1 L385.3 733.05 L385.7 732.88 L386.1 732.52 L386.5 731.85" fill="none" stroke="#2b74bd" stroke-width="1.25"/>
<path d="M340.35 723.9 L340.76 723.96 L341.17 724.14 L341.59 724.52 L342 725.27 L342.41 726.59 L342.82 728.5 L343.24 730.41 L343.65 731.73 L344.06 732.48 L344.47 732.86 L344.89 733.04 L345.3 733.1M350.25 723.9 L350.66 723.96 L351.07 724.14 L351.49 724.52 L351.9 725.27 L352.31 726.59 L352.73 728.5 L353.14 730.41 L353.55 731.73 L353.96 732.48 L354.38 732.86 L354.79 733.04 L355.2 733.1M360.15 723.9 L360.56 723.96 L360.97 724.14 L361.39 724.52 L361.8 725.27 L362.21 726.59 L362.62 728.5 L363.04 730.41 L363.45 731.73 L363.86 732.48 L364.27 732.86 L364.69 733.04 L365.1 733.1M370.05 723.9 L370.46 723.96 L370.87 724.14 L371.29 724.52 L371.7 725.27 L372.11 726.59 L372.52 728.5 L372.94 730.41 L373.35 731.73 L373.76 732.48 L374.17 732.86 L374.59 733.04 L375 733.1M379.95 723.9 L380.36 723.96 L380.77 724.14 L381.19 724.52 L381.6 725.27 L382.01 726.59 L382.42 728.5 L382.84 730.41 L383.25 731.73 L383.66 732.48 L384.07 732.86 L384.49 733.04 L384.9 733.1" fill="none" stroke="#2c3585" stroke-width="1.25"/>
<text x="392" y="731.58" font-size="4.4" text-anchor="middle" font-weight="bold" fill="#111" stroke="#111" stroke-width="0.06">(II)</text>
<g transform="translate(354.8,720.3)"><ellipse rx="6.8" ry="4.6" fill="#f6b637" stroke="#6d6a2a" stroke-width="0.45"/><text y="1.7" font-size="4.8" font-weight="bold" text-anchor="middle" fill="#111" textLength="8" lengthAdjust="spacingAndGlyphs">CRY</text></g>
<circle cx="360" cy="717" r="1.4" fill="#e8102a"/>
<g transform="translate(376.3,720.3)"><ellipse rx="6.8" ry="4.6" fill="#f6b637" stroke="#6d6a2a" stroke-width="0.45"/><text y="1.7" font-size="4.8" font-weight="bold" text-anchor="middle" fill="#111" textLength="8" lengthAdjust="spacingAndGlyphs">CRY</text></g>
<circle cx="381.5" cy="717" r="1.4" fill="#e8102a"/>
<g transform="translate(292.5,726.5)"><ellipse rx="8" ry="5.2" fill="#f09a22" stroke="#6d6a2a" stroke-width="0.5"/><text y="1.7" font-size="4.8" font-weight="bold" text-anchor="middle" fill="#111" textLength="13" lengthAdjust="spacingAndGlyphs">CCAR2</text></g>
<g transform="translate(314.6,726.5)"><ellipse rx="8" ry="5.2" fill="#f09a22" stroke="#6d6a2a" stroke-width="0.5"/><text y="1.7" font-size="4.8" font-weight="bold" text-anchor="middle" fill="#111" textLength="13" lengthAdjust="spacingAndGlyphs">CCAR2</text></g>
<g transform="translate(345.6,727.1)"><ellipse rx="8" ry="5.2" fill="#f09a22" stroke="#6d6a2a" stroke-width="0.5"/><text y="1.7" font-size="4.8" font-weight="bold" text-anchor="middle" fill="#111" textLength="13" lengthAdjust="spacingAndGlyphs">CCAR2</text></g>
<g transform="translate(368.1,727.5)"><ellipse rx="8" ry="5.2" fill="#f09a22" stroke="#6d6a2a" stroke-width="0.5"/><text y="1.7" font-size="4.8" font-weight="bold" text-anchor="middle" fill="#111" textLength="13" lengthAdjust="spacingAndGlyphs">CCAR2</text></g>
<g transform="translate(301.1,733.6)"><ellipse rx="7.7" ry="4.9" fill="#1a6cbc"/><text y="1.8" font-size="5" font-weight="bold" text-anchor="middle" fill="#fff" textLength="8.6" lengthAdjust="spacingAndGlyphs">CIP</text></g>
<g transform="translate(323.5,733.6)"><ellipse rx="7.7" ry="4.9" fill="#1a6cbc"/><text y="1.8" font-size="5" font-weight="bold" text-anchor="middle" fill="#fff" textLength="8.6" lengthAdjust="spacingAndGlyphs">CIP</text></g>
<g transform="translate(354.8,733.6)"><ellipse rx="7.7" ry="4.9" fill="#1a6cbc"/><text y="1.8" font-size="5" font-weight="bold" text-anchor="middle" fill="#fff" textLength="8.6" lengthAdjust="spacingAndGlyphs">CIP</text></g>
<g transform="translate(377.3,734.6)"><ellipse rx="7.7" ry="4.9" fill="#1a6cbc"/><text y="1.8" font-size="5" font-weight="bold" text-anchor="middle" fill="#fff" textLength="8.6" lengthAdjust="spacingAndGlyphs">CIP</text></g>
<g transform="translate(397.1,705.2)"><ellipse rx="9.3" ry="6.8" fill="#e61928"/><text y="1.6" font-size="4.6" font-weight="bold" text-anchor="middle" fill="#1a0303" textLength="14" lengthAdjust="spacingAndGlyphs">DNAPK</text></g>
<line x1="389" y1="708" x2="362" y2="715.78" stroke="#d4142c" stroke-width="0.8"/>
<path d="M359.5 716.5L361.67 714.63L362.33 716.93z" fill="#d4142c"/>
<line x1="393" y1="711" x2="383.17" y2="715.43" stroke="#d4142c" stroke-width="0.8"/>
<path d="M380.8 716.5L382.68 714.34L383.66 716.53z" fill="#d4142c"/>
<line x1="335.4" y1="741.8" x2="335.4" y2="746" stroke="#2d2a86" stroke-width="0.9"/>
<path d="M335.4 749l-2.1 -3.8l2.1 1l2.1 -1z" fill="#2d2a86"/>
<path d="M285.5 768.9 L285.91 768.84 L286.32 768.66 L286.74 768.28 L287.15 767.53 L287.56 766.21 L287.98 764.3 L288.39 762.39 L288.8 761.07 L289.21 760.32 L289.62 759.94 L290.04 759.76 L290.45 759.7M295.4 768.9 L295.81 768.84 L296.22 768.66 L296.64 768.28 L297.05 767.53 L297.46 766.21 L297.88 764.3 L298.29 762.39 L298.7 761.07 L299.11 760.32 L299.52 759.94 L299.94 759.76 L300.35 759.7" fill="none" stroke="#e58c1d" stroke-width="1.25"/>
<path d="M283.9 767.65 L284.3 768.32 L284.7 768.68 L285.1 768.85 L285.5 768.9M290.45 759.7 L290.86 759.76 L291.27 759.94 L291.69 760.32 L292.1 761.07 L292.51 762.39 L292.92 764.3 L293.34 766.21 L293.75 767.53 L294.16 768.28 L294.57 768.66 L294.99 768.84 L295.4 768.9M300.35 759.7 L300.8 759.77 L301.25 759.99 L301.7 760.48" fill="none" stroke="#c8532a" stroke-width="1.25"/>
<path d="M282.7 768.9 L283.11 768.84 L283.52 768.66 L283.94 768.28 L284.35 767.53 L284.76 766.21 L285.17 764.3 L285.59 762.39 L286 761.07 L286.41 760.32 L286.82 759.94 L287.24 759.76 L287.65 759.7M292.6 768.9 L293.01 768.84 L293.42 768.66 L293.84 768.28 L294.25 767.53 L294.66 766.21 L295.07 764.3 L295.49 762.39 L295.9 761.07 L296.31 760.32 L296.72 759.94 L297.14 759.76 L297.55 759.7" fill="none" stroke="#2b74bd" stroke-width="1.25"/>
<path d="M287.65 759.7 L288.06 759.76 L288.47 759.94 L288.89 760.32 L289.3 761.07 L289.71 762.39 L290.12 764.3 L290.54 766.21 L290.95 767.53 L291.36 768.28 L291.77 768.66 L292.19 768.84 L292.6 768.9M297.55 759.7 L297.97 759.76 L298.38 759.94 L298.8 760.33 L299.21 761.09 L299.62 762.44 L300.04 764.37 L300.45 766.28 L300.87 767.58 L301.28 768.3 L301.7 768.68" fill="none" stroke="#2c3585" stroke-width="1.25"/>
<path d="M301.7 764.39 L302.11 762.97 L302.52 761.65 L302.93 760.51 L303.33 759.64 L303.74 759.09 L304.15 758.9M309 769.7 L309.4 769.52 L309.81 768.98 L310.21 768.12 L310.62 767 L311.02 765.7 L311.43 764.3 L311.83 762.9 L312.23 761.6 L312.64 760.48 L313.04 759.62 L313.45 759.08 L313.85 758.9M318.7 769.7 L319.1 769.52 L319.51 768.98 L319.91 768.12 L320.32 767 L320.72 765.7 L321.12 764.3 L321.53 762.9 L321.93 761.6 L322.34 760.48 L322.74 759.62 L323.15 759.08 L323.55 758.9M328.4 769.7 L328.83 769.49 L329.27 768.87 L329.7 767.9 L330.13 766.64 L330.57 765.2 L331 763.69" fill="none" stroke="#2c3585" stroke-width="1.15"/>
<path d="M304.15 758.9 L304.55 759.08 L304.96 759.62 L305.36 760.48 L305.77 761.6 L306.17 762.9 L306.58 764.3 L306.98 765.7 L307.38 767 L307.79 768.12 L308.19 768.98 L308.6 769.52 L309 769.7M313.85 758.9 L314.25 759.08 L314.66 759.62 L315.06 760.48 L315.47 761.6 L315.87 762.9 L316.28 764.3 L316.68 765.7 L317.08 767 L317.49 768.12 L317.89 768.98 L318.3 769.52 L318.7 769.7M323.55 758.9 L323.95 759.08 L324.36 759.62 L324.76 760.48 L325.17 761.6 L325.57 762.9 L325.98 764.3 L326.38 765.7 L326.78 767 L327.19 768.12 L327.59 768.98 L328 769.52 L328.4 769.7" fill="none" stroke="#2c3585" stroke-width="1.15"/>
<path d="M337.8 769.7 L338.2 769.52 L338.61 768.98 L339.01 768.12 L339.42 767 L339.82 765.7 L340.22 764.3 L340.63 762.9 L341.03 761.6 L341.44 760.48 L341.84 759.62 L342.25 759.08 L342.65 758.9M347.5 769.7 L347.9 769.52 L348.31 768.98 L348.71 768.12 L349.12 767 L349.52 765.7 L349.92 764.3 L350.33 762.9 L350.73 761.6 L351.14 760.48 L351.54 759.62 L351.95 759.08 L352.35 758.9M357.2 769.7 L357.6 769.52 L358.01 768.98 L358.41 768.12 L358.82 767 L359.22 765.7 L359.62 764.3 L360.03 762.9 L360.43 761.6 L360.84 760.48 L361.24 759.62 L361.65 759.08 L362.05 758.9M366.9 769.7 L367.3 769.52 L367.71 768.98 L368.11 768.12 L368.52 767 L368.92 765.7 L369.32 764.3 L369.73 762.9 L370.13 761.6 L370.54 760.48 L370.94 759.62 L371.35 759.08 L371.75 758.9" fill="none" stroke="#c8532a" stroke-width="1.15"/>
<path d="M335.4 764.39 L335.88 766.04 L336.36 767.52 L336.84 768.69 L337.32 769.44 L337.8 769.7M342.65 758.9 L343.05 759.08 L343.46 759.62 L343.86 760.48 L344.27 761.6 L344.67 762.9 L345.07 764.3 L345.48 765.7 L345.88 767 L346.29 768.12 L346.69 768.98 L347.1 769.52 L347.5 769.7M352.35 758.9 L352.75 759.08 L353.16 759.62 L353.56 760.48 L353.97 761.6 L354.37 762.9 L354.77 764.3 L355.18 765.7 L355.58 767 L355.99 768.12 L356.39 768.98 L356.8 769.52 L357.2 769.7M362.05 758.9 L362.45 759.08 L362.86 759.62 L363.26 760.48 L363.67 761.6 L364.07 762.9 L364.47 764.3 L364.88 765.7 L365.28 767 L365.69 768.12 L366.09 768.98 L366.5 769.52 L366.9 769.7M371.75 758.9 L372.17 759.1 L372.58 759.67 L373 760.58" fill="none" stroke="#e58c1d" stroke-width="1.15"/>
<path d="M375.8 768.9 L376.21 768.84 L376.62 768.66 L377.04 768.28 L377.45 767.53 L377.86 766.21 L378.27 764.3 L378.69 762.39 L379.1 761.07 L379.51 760.32 L379.93 759.94 L380.34 759.76 L380.75 759.7M385.7 768.9 L385.85 768.89 L386 768.87" fill="none" stroke="#e58c1d" stroke-width="1.25"/>
<path d="M374.2 767.65 L374.6 768.32 L375 768.68 L375.4 768.85 L375.8 768.9M380.75 759.7 L381.16 759.76 L381.57 759.94 L381.99 760.32 L382.4 761.07 L382.81 762.39 L383.23 764.3 L383.64 766.21 L384.05 767.53 L384.46 768.28 L384.88 768.66 L385.29 768.84 L385.7 768.9" fill="none" stroke="#c8532a" stroke-width="1.25"/>
<path d="M373 768.9 L373.41 768.84 L373.82 768.66 L374.24 768.28 L374.65 767.53 L375.06 766.21 L375.48 764.3 L375.89 762.39 L376.3 761.07 L376.71 760.32 L377.12 759.94 L377.54 759.76 L377.95 759.7M382.9 768.9 L383.34 768.84 L383.79 768.62 L384.23 768.15 L384.67 767.21 L385.11 765.55 L385.56 763.41 L386 761.62" fill="none" stroke="#2b74bd" stroke-width="1.25"/>
<path d="M377.95 759.7 L378.36 759.76 L378.77 759.94 L379.19 760.32 L379.6 761.07 L380.01 762.39 L380.42 764.3 L380.84 766.21 L381.25 767.53 L381.66 768.28 L382.07 768.66 L382.49 768.84 L382.9 768.9" fill="none" stroke="#2c3585" stroke-width="1.25"/>
<text x="393" y="765.58" font-size="4.4" text-anchor="middle" font-weight="bold" fill="#111" stroke="#111" stroke-width="0.06">(III)</text>
<g transform="translate(283.9,748.3)"><ellipse rx="8" ry="5.2" fill="#f09a22" stroke="#6d6a2a" stroke-width="0.5"/><text y="1.7" font-size="4.8" font-weight="bold" text-anchor="middle" fill="#111" textLength="13" lengthAdjust="spacingAndGlyphs">CCAR2</text></g>
<g transform="translate(284.7,779.8)"><ellipse rx="8" ry="5.2" fill="#f09a22" stroke="#6d6a2a" stroke-width="0.5"/><text y="1.7" font-size="4.8" font-weight="bold" text-anchor="middle" fill="#111" textLength="13" lengthAdjust="spacingAndGlyphs">CCAR2</text></g>
<g transform="translate(305.6,781.9)"><ellipse rx="8" ry="5.2" fill="#f09a22" stroke="#6d6a2a" stroke-width="0.5"/><text y="1.7" font-size="4.8" font-weight="bold" text-anchor="middle" fill="#111" textLength="13" lengthAdjust="spacingAndGlyphs">CCAR2</text></g>
<g transform="translate(299.6,759.8)"><ellipse rx="7.7" ry="4.9" fill="#1a6cbc"/><text y="1.8" font-size="5" font-weight="bold" text-anchor="middle" fill="#fff" textLength="8.6" lengthAdjust="spacingAndGlyphs">CIP</text></g>
<g transform="translate(361,755.1)"><ellipse rx="6.8" ry="4.6" fill="#f6b637" stroke="#6d6a2a" stroke-width="0.45"/><text y="1.7" font-size="4.8" font-weight="bold" text-anchor="middle" fill="#111" textLength="8" lengthAdjust="spacingAndGlyphs">CRY</text></g>
<circle cx="366.2" cy="751.8" r="1.4" fill="#e8102a"/>
<g transform="translate(378.7,755.1)"><ellipse rx="6.8" ry="4.6" fill="#f6b637" stroke="#6d6a2a" stroke-width="0.45"/><text y="1.7" font-size="4.8" font-weight="bold" text-anchor="middle" fill="#111" textLength="8" lengthAdjust="spacingAndGlyphs">CRY</text></g>
<circle cx="383.9" cy="751.8" r="1.4" fill="#e8102a"/>
<g transform="translate(352.8,762.2)"><ellipse rx="8" ry="5.2" fill="#f09a22" stroke="#6d6a2a" stroke-width="0.5"/><text y="1.7" font-size="4.8" font-weight="bold" text-anchor="middle" fill="#111" textLength="13" lengthAdjust="spacingAndGlyphs">CCAR2</text></g>
<g transform="translate(370.6,761.8)"><ellipse rx="8" ry="5.2" fill="#f09a22" stroke="#6d6a2a" stroke-width="0.5"/><text y="1.7" font-size="4.8" font-weight="bold" text-anchor="middle" fill="#111" textLength="13" lengthAdjust="spacingAndGlyphs">CCAR2</text></g>
<g transform="translate(362.4,768.8)"><ellipse rx="7.7" ry="4.9" fill="#1a6cbc"/><text y="1.8" font-size="5" font-weight="bold" text-anchor="middle" fill="#fff" textLength="8.6" lengthAdjust="spacingAndGlyphs">CIP</text></g>
<g transform="translate(380,768.8)"><ellipse rx="7.7" ry="4.9" fill="#1a6cbc"/><text y="1.8" font-size="5" font-weight="bold" text-anchor="middle" fill="#fff" textLength="8.6" lengthAdjust="spacingAndGlyphs">CIP</text></g>
<text x="312.5" y="839.92" font-size="9.5" text-anchor="start" font-weight="bold" fill="#1a1a1a" stroke="#1a1a1a" stroke-width="0.13">(4)</text>
<circle cx="454.4" cy="717.2" r="47" fill="#fff"/>
<defs><linearGradient id="rg" x1="0.62" y1="0" x2="0.38" y2="1"><stop offset="0" stop-color="#ffffff"/><stop offset="0.3" stop-color="#d2e9f6"/><stop offset="0.52" stop-color="#7ec4e9"/><stop offset="0.75" stop-color="#3ba6de"/><stop offset="1" stop-color="#1790d2"/></linearGradient></defs>
<path d="M412.4 717.2a42 42 0 1 0 84 0a42 42 0 1 0 -84 0zM418.8 717.2a35.6 35.6 0 1 1 71.2 0a35.6 35.6 0 1 1 -71.2 0z" fill="url(#rg)" fill-rule="evenodd"/>
<path d="M437.7 752.5L455.9 741.5L455.9 763.5Z" fill="#1a8fd0"/>
<path d="M452 673.6L457.3 676.2L452 678.8Z" fill="#1a8fd0"/>
<text x="453.8" y="710.9" font-size="15.6" font-weight="bold" text-anchor="middle" fill="#222">CRY1</text>
<text x="454" y="730.2" font-size="15.6" font-weight="bold" text-anchor="middle" fill="#222">levels</text>
<text x="0" y="13.18" font-size="13" text-anchor="start" font-weight="bold" fill="#111" stroke="#111" stroke-width="0.17">A</text>
<line x1="29" y1="15.4" x2="29" y2="139.2" stroke="#000" stroke-width="1.2"/>
<line x1="24" y1="15.4" x2="29" y2="15.4" stroke="#000" stroke-width="1.2"/>
<text transform="translate(22.7,19.14) scale(0.88,1)" font-size="10.4" text-anchor="end" fill="#111" stroke="#111" stroke-width="0.14">100</text>
<line x1="24" y1="77" x2="29" y2="77" stroke="#000" stroke-width="1.2"/>
<text transform="translate(22.7,80.74) scale(0.88,1)" font-size="10.4" text-anchor="end" fill="#111" stroke="#111" stroke-width="0.14">50</text>
<line x1="24" y1="138.6" x2="29" y2="138.6" stroke="#000" stroke-width="1.2"/>
<text transform="translate(22.7,142.34) scale(0.88,1)" font-size="10.4" text-anchor="end" fill="#111" stroke="#111" stroke-width="0.14">0</text>
<line x1="26.5" y1="123.2" x2="29" y2="123.2" stroke="#000" stroke-width="1.2"/>
<line x1="26.5" y1="107.8" x2="29" y2="107.8" stroke="#000" stroke-width="1.2"/>
<line x1="26.5" y1="92.4" x2="29" y2="92.4" stroke="#000" stroke-width="1.2"/>
<line x1="26.5" y1="61.6" x2="29" y2="61.6" stroke="#000" stroke-width="1.2"/>
<line x1="26.5" y1="46.2" x2="29" y2="46.2" stroke="#000" stroke-width="1.2"/>
<line x1="26.5" y1="30.8" x2="29" y2="30.8" stroke="#000" stroke-width="1.2"/>
<line x1="28.4" y1="138.6" x2="162" y2="138.6" stroke="#000" stroke-width="1.2"/>
<line x1="29" y1="138.6" x2="29" y2="143.9" stroke="#000" stroke-width="1.2"/>
<text transform="translate(29,153.54) scale(0.88,1)" font-size="10.4" text-anchor="middle" fill="#111" stroke="#111" stroke-width="0.14">0</text>
<line x1="73.1" y1="138.6" x2="73.1" y2="143.9" stroke="#000" stroke-width="1.2"/>
<text transform="translate(73.1,153.54) scale(0.88,1)" font-size="10.4" text-anchor="middle" fill="#111" stroke="#111" stroke-width="0.14">2000</text>
<line x1="117.2" y1="138.6" x2="117.2" y2="143.9" stroke="#000" stroke-width="1.2"/>
<text transform="translate(117.2,153.54) scale(0.88,1)" font-size="10.4" text-anchor="middle" fill="#111" stroke="#111" stroke-width="0.14">4000</text>
<line x1="164.9" y1="138.1" x2="164.9" y2="143.6" stroke="#000" stroke-width="1.2"/>
<text transform="translate(162.8,153.54) scale(0.88,1)" font-size="10.4" text-anchor="middle" fill="#111" stroke="#111" stroke-width="0.14">6000</text>
<text x="64.4" y="166.24" font-size="9" text-anchor="start" fill="#111" stroke="#111" stroke-width="0.12">Days to new tumor event</text>
<text transform="translate(9.5,75) rotate(-90)" x="0" y="3.24" font-size="9" text-anchor="middle" fill="#111" stroke="#111" stroke-width="0.12">Percent of total (%)</text>
<path d="M29 15.4H30V22H31V30H32V38.6H33V48H34V58H35V66H35.9V70H36.6V78H37.3V86H38V92H38.7V95.7H39.5V101H40.5V106H41.5V110H42.3V112.9H44V115H46V117.5H48V119.5H49.4V121.4H51V123.5H53V127H55V129.5H57V131.5H58.7V132.9H60V133.2H65.8V134.6H73.1V135.7H74.6V138.2H94.3" fill="none" stroke="#c8202e" stroke-width="1.4"/>
<path d="M29 15.4H30V21H31V27H32V33H33V37H33.7V38.6H34.5V50H35.2V60H35.9V70H37V76H38V79H38.7V81.4H40V87H41.6V92.9H43V96H44.5V99H45.9V101.4H47.5V104H49.4V107H51.6V108.6H52.5V111H53.7V114.3H56V116H58.5V117.5H60.9V118.6H63V119.5H64.4V121H67.3V125.4H71.7V126.6H79.7V127.6H84V128.5H87.7V129.5H91V130.2H95V131H98V131.7H101.6V132.4H106V133.1H110.4V133.8H116.2V135.7H153.4" fill="none" stroke="#3b5cb0" stroke-width="1.4"/>
<line x1="40" y1="25" x2="52" y2="25" stroke="#c8202e" stroke-width="1.4"/>
<line x1="40" y1="40" x2="52" y2="40" stroke="#3b5cb0" stroke-width="1.4"/>
<text x="54.6" y="27.34" font-size="6.5" text-anchor="start" fill="#111" stroke="#111" stroke-width="0.09">CRY1 HI N=137</text>
<text x="54.6" y="42.34" font-size="6.5" text-anchor="start" fill="#111" stroke="#111" stroke-width="0.09">CRY1 LO N=121</text>
<path d="M104 24.5 H107.5 V40 H104" fill="none" stroke="#000" stroke-width="1.1"/>
<text x="111" y="34.45" font-size="6.8" text-anchor="start" fill="#111" stroke="#111" stroke-width="0.09">p=0.0018</text>
<text x="161" y="13.18" font-size="13" text-anchor="start" font-weight="bold" fill="#111" stroke="#111" stroke-width="0.17">B</text>
<line x1="190" y1="42.4" x2="190" y2="136.7" stroke="#111" stroke-width="1.4"/>
<line x1="186.5" y1="136" x2="190" y2="136" stroke="#000" stroke-width="1.2"/>
<text x="186" y="138.52" font-size="7" text-anchor="end" font-weight="bold" fill="#111" stroke="#111" stroke-width="0.09">0</text>
<line x1="186.5" y1="104.8" x2="190" y2="104.8" stroke="#000" stroke-width="1.2"/>
<text x="186" y="107.32" font-size="7" text-anchor="end" font-weight="bold" fill="#111" stroke="#111" stroke-width="0.09">100</text>
<line x1="186.5" y1="73.6" x2="190" y2="73.6" stroke="#000" stroke-width="1.2"/>
<text x="186" y="76.12" font-size="7" text-anchor="end" font-weight="bold" fill="#111" stroke="#111" stroke-width="0.09">200</text>
<line x1="186.5" y1="42.4" x2="190" y2="42.4" stroke="#000" stroke-width="1.2"/>
<text x="186" y="44.92" font-size="7" text-anchor="end" font-weight="bold" fill="#111" stroke="#111" stroke-width="0.09">300</text>
<line x1="189.3" y1="136" x2="252" y2="136" stroke="#111" stroke-width="1.4"/>
<line x1="208" y1="136" x2="208" y2="139.5" stroke="#000" stroke-width="1.2"/>
<text x="208" y="147.12" font-size="7" text-anchor="middle" font-weight="bold" fill="#111" stroke="#111" stroke-width="0.09">LO</text>
<line x1="234.4" y1="136" x2="234.4" y2="139.5" stroke="#000" stroke-width="1.2"/>
<text x="234.4" y="147.12" font-size="7" text-anchor="middle" font-weight="bold" fill="#111" stroke="#111" stroke-width="0.09">HI</text>
<text transform="translate(168,75.5) rotate(-90)" x="0" y="2.66" font-size="7.4" text-anchor="middle" font-weight="bold" fill="#111" stroke="#111" stroke-width="0.1">Signature 3 variants</text>
<text x="219.3" y="32.34" font-size="6.5" text-anchor="middle" fill="#111" stroke="#111" stroke-width="0.09">p=0.0456</text>
<line x1="205" y1="35.6" x2="233.6" y2="35.6" stroke="#000" stroke-width="1.2"/>
<path d="M225.2 134.4H242.8M225.5 133H242.5M225.8 131.52H227.23M227.43 131.34H229.52M229.72 131.46H230.74M232.56 131.59H234.41M234.61 131.68H236.76M236.96 131.74H239.52M239.72 131.75H241.93M242.13 131.32H242.6M225.8 130.33H228.36M228.56 130.45H231.14M231.34 130.17H233.05M233.25 129.96H235.93M236.13 130.48H237.38M237.58 130.08H239.36M239.56 130.11H241.48M241.68 130.44H242.6M231.67 129.02H233.88M237.01 128.63H239.04M239.24 128.67H241.5M228.31 127.48H231.1M231.3 127.18H233.03M240.17 127.6H241M226.2 125.86H227.76M227.96 125.74H229.01M229.21 125.53H231.31M231.51 126.08H234.07M234.27 125.78H236.89M237.09 125.86H239.02M239.22 126.06H241.23M241.43 125.93H241.6M228.5 124.59H229.93M230.13 124.01H232.07M235.45 124.38H237.59M229 122.54H231.33M233.95 122.86H235.4M235.6 122.69H237.17M237.37 122.68H239.04M227.5 121.44H228.55M228.75 121.48H230.31M230.51 121.26H231.94M232.14 121.19H234.39M238.38 121.39H239.69M239.89 121.14H240.5M226 119.81H227.22M230.07 120.18H231.4M233.96 119.88H235.58M235.78 119.91H238.21M238.41 119.95H240.16M240.36 119.7H241.7M232.9 118.77H235.67M235.87 118.65H238.5M232.21 116.9H234.14M234.34 117.05H235.75M231.81 115.75H233.85M234.05 115.7H235.36M235.56 115.86H237.51M237.71 115.45H239.6M229.5 114.27H232.05M232.25 114.12H233.88M234.08 114.28H236.55M231 112.68H233.48M233.68 112.46H236.23M236.43 112.55H237.92M232.55 110.88H233.55M233.75 111.38H234.98M235.18 111.1H237.72M237.92 111.01H238.5M230 109.52H232.16M232.36 109.37H233.71M233.91 109.53H235.91M236.11 109.52H237.25M233.38 108.02H235.51M232.96 106.62H234.79M234.99 106.55H237.24M231 105.24H233.69M233.89 104.98H236.31M233 103.54H235.43M235.63 103.45H235.8M233.4 101.96H234.41M234.61 101.56H235.2M233.6 99.91H235M233.8 98.81H234.8M233.55 47.7h1.3M233.55 60.3h1.3M233.55 59.2h1.3M233.65 78h1.3M233.15 84.5h1.3M233.85 86h1.3M233.55 88.5h1.3M233.65 92.5h1.3M232.85 94.8h1.3M233.75 95.5h1.3" stroke="#1c1c1c" stroke-width="1.05" fill="none"/>
<text x="251" y="12.68" font-size="13" text-anchor="start" font-weight="bold" fill="#111" stroke="#111" stroke-width="0.17">C</text>
<line x1="286.6" y1="12" x2="286.6" y2="139" stroke="#000" stroke-width="1.2"/>
<line x1="281.3" y1="12" x2="286.6" y2="12" stroke="#000" stroke-width="1.2"/>
<text transform="translate(279,15.74) scale(0.88,1)" font-size="10.4" text-anchor="end" fill="#111" stroke="#111" stroke-width="0.14">100</text>
<line x1="281.3" y1="75.2" x2="286.6" y2="75.2" stroke="#000" stroke-width="1.2"/>
<text transform="translate(279,78.94) scale(0.88,1)" font-size="10.4" text-anchor="end" fill="#111" stroke="#111" stroke-width="0.14">50</text>
<line x1="281.3" y1="138.4" x2="286.6" y2="138.4" stroke="#000" stroke-width="1.2"/>
<text transform="translate(279,142.14) scale(0.88,1)" font-size="10.4" text-anchor="end" fill="#111" stroke="#111" stroke-width="0.14">0</text>
<line x1="284.1" y1="122.6" x2="286.6" y2="122.6" stroke="#000" stroke-width="1.2"/>
<line x1="284.1" y1="106.8" x2="286.6" y2="106.8" stroke="#000" stroke-width="1.2"/>
<line x1="284.1" y1="91" x2="286.6" y2="91" stroke="#000" stroke-width="1.2"/>
<line x1="284.1" y1="59.4" x2="286.6" y2="59.4" stroke="#000" stroke-width="1.2"/>
<line x1="284.1" y1="43.6" x2="286.6" y2="43.6" stroke="#000" stroke-width="1.2"/>
<line x1="284.1" y1="27.8" x2="286.6" y2="27.8" stroke="#000" stroke-width="1.2"/>
<line x1="286" y1="138.4" x2="462.6" y2="138.4" stroke="#000" stroke-width="1.2"/>
<line x1="286.6" y1="138.4" x2="286.6" y2="143.7" stroke="#000" stroke-width="1.2"/>
<text transform="translate(286.6,154.84) scale(0.88,1)" font-size="10.4" text-anchor="middle" fill="#111" stroke="#111" stroke-width="0.14">0</text>
<line x1="330.6" y1="138.4" x2="330.6" y2="143.7" stroke="#000" stroke-width="1.2"/>
<text transform="translate(330.6,154.84) scale(0.88,1)" font-size="10.4" text-anchor="middle" fill="#111" stroke="#111" stroke-width="0.14">1000</text>
<line x1="374.6" y1="138.4" x2="374.6" y2="143.7" stroke="#000" stroke-width="1.2"/>
<text transform="translate(374.6,154.84) scale(0.88,1)" font-size="10.4" text-anchor="middle" fill="#111" stroke="#111" stroke-width="0.14">2000</text>
<line x1="418.6" y1="138.4" x2="418.6" y2="143.7" stroke="#000" stroke-width="1.2"/>
<text transform="translate(418.6,154.84) scale(0.88,1)" font-size="10.4" text-anchor="middle" fill="#111" stroke="#111" stroke-width="0.14">3000</text>
<line x1="462.6" y1="138.4" x2="462.6" y2="143.7" stroke="#000" stroke-width="1.2"/>
<text transform="translate(462.6,154.84) scale(0.88,1)" font-size="10.4" text-anchor="middle" fill="#111" stroke="#111" stroke-width="0.14">4000</text>
<text x="378" y="165.74" font-size="9" text-anchor="middle" fill="#111" stroke="#111" stroke-width="0.12">Days</text>
<text transform="translate(263.6,79) rotate(-90)" x="0" y="3.24" font-size="9" text-anchor="middle" fill="#111" stroke="#111" stroke-width="0.12">Probability of Survival</text>
<path d="M286.6 12H296V17.06H298.5V20.85H301V24.64H303V27.17H305V29.7H309V32.22H312V34.75H314V37.28H317V39.81H320V42.34H324V44.86H328V48.02H330V52.45H332V58.77H340V60.66H346V64.46H350V68.88H353V72.04H356V75.2H359V78.36H362V82.15H368V85.31H372V92.26H376V94.79H386V100.48H390V104.27H394V108.06H398V111.22H405V115.02H408V117.54H410V120.07H417V124.5H438.8V132.08H448V133.98H452V136.38H462" fill="none" stroke="#c8202e" stroke-width="1.4"/>
<path d="M286.6 12H301V25.15H304V29.7H318V34.75H320V38.54H322V42.97H324V47.39H326V51.56H328V60.03H330V67.62H332V76.46H334V81.52H336V85.94H356V92.14H366V104.78H376V109.96H380V120.07H384V124.5H408V133.6H438.8V138.4" fill="none" stroke="#3b5cb0" stroke-width="1.4"/>
<line x1="326" y1="15.6" x2="340" y2="15.6" stroke="#c8202e" stroke-width="1.4"/>
<line x1="326" y1="33.6" x2="340" y2="33.6" stroke="#3b5cb0" stroke-width="1.4"/>
<text x="344" y="18.05" font-size="6.8" text-anchor="start" fill="#111" stroke="#111" stroke-width="0.09">CRY1 HI +IR N=64</text>
<text x="344" y="36.05" font-size="6.8" text-anchor="start" fill="#111" stroke="#111" stroke-width="0.09">CRY1 LO +IR N=27</text>
<path d="M403.7 15.6 H407.2 V33.6 H403.7" fill="none" stroke="#000" stroke-width="1.1"/>
<text x="411" y="27.25" font-size="6.8" text-anchor="start" fill="#111" stroke="#111" stroke-width="0.09">p=0.0385</text>
<text x="461" y="10.28" font-size="13" text-anchor="start" font-weight="bold" fill="#111" stroke="#111" stroke-width="0.17">D</text>
<line x1="497.6" y1="9" x2="497.6" y2="136.6" stroke="#000" stroke-width="1.2"/>
<line x1="492.3" y1="9" x2="497.6" y2="9" stroke="#000" stroke-width="1.2"/>
<text transform="translate(490,12.74) scale(0.88,1)" font-size="10.4" text-anchor="end" fill="#111" stroke="#111" stroke-width="0.14">100</text>
<line x1="492.3" y1="72.5" x2="497.6" y2="72.5" stroke="#000" stroke-width="1.2"/>
<text transform="translate(490,76.24) scale(0.88,1)" font-size="10.4" text-anchor="end" fill="#111" stroke="#111" stroke-width="0.14">50</text>
<line x1="492.3" y1="136" x2="497.6" y2="136" stroke="#000" stroke-width="1.2"/>
<text transform="translate(490,139.74) scale(0.88,1)" font-size="10.4" text-anchor="end" fill="#111" stroke="#111" stroke-width="0.14">0</text>
<line x1="495.1" y1="120.12" x2="497.6" y2="120.12" stroke="#000" stroke-width="1.2"/>
<line x1="495.1" y1="104.25" x2="497.6" y2="104.25" stroke="#000" stroke-width="1.2"/>
<line x1="495.1" y1="88.38" x2="497.6" y2="88.38" stroke="#000" stroke-width="1.2"/>
<line x1="495.1" y1="56.62" x2="497.6" y2="56.62" stroke="#000" stroke-width="1.2"/>
<line x1="495.1" y1="40.75" x2="497.6" y2="40.75" stroke="#000" stroke-width="1.2"/>
<line x1="495.1" y1="24.88" x2="497.6" y2="24.88" stroke="#000" stroke-width="1.2"/>
<line x1="497" y1="136" x2="675.2" y2="136" stroke="#000" stroke-width="1.2"/>
<line x1="497.6" y1="136" x2="497.6" y2="141.3" stroke="#000" stroke-width="1.2"/>
<text transform="translate(497.6,152.44) scale(0.88,1)" font-size="10.4" text-anchor="middle" fill="#111" stroke="#111" stroke-width="0.14">0</text>
<line x1="533.12" y1="136" x2="533.12" y2="141.3" stroke="#000" stroke-width="1.2"/>
<text transform="translate(533.12,152.44) scale(0.88,1)" font-size="10.4" text-anchor="middle" fill="#111" stroke="#111" stroke-width="0.14">1000</text>
<line x1="568.64" y1="136" x2="568.64" y2="141.3" stroke="#000" stroke-width="1.2"/>
<text transform="translate(568.64,152.44) scale(0.88,1)" font-size="10.4" text-anchor="middle" fill="#111" stroke="#111" stroke-width="0.14">2000</text>
<line x1="604.16" y1="136" x2="604.16" y2="141.3" stroke="#000" stroke-width="1.2"/>
<text transform="translate(604.16,152.44) scale(0.88,1)" font-size="10.4" text-anchor="middle" fill="#111" stroke="#111" stroke-width="0.14">3000</text>
<line x1="639.68" y1="136" x2="639.68" y2="141.3" stroke="#000" stroke-width="1.2"/>
<text transform="translate(639.68,152.44) scale(0.88,1)" font-size="10.4" text-anchor="middle" fill="#111" stroke="#111" stroke-width="0.14">4000</text>
<line x1="675.2" y1="136" x2="675.2" y2="141.3" stroke="#000" stroke-width="1.2"/>
<text transform="translate(675.2,152.44) scale(0.88,1)" font-size="10.4" text-anchor="middle" fill="#111" stroke="#111" stroke-width="0.14">5000</text>
<text x="598" y="163.74" font-size="9" text-anchor="middle" fill="#111" stroke="#111" stroke-width="0.12">Days</text>
<text transform="translate(474.6,70.5) rotate(-90)" x="0" y="3.24" font-size="9" text-anchor="middle" fill="#111" stroke="#111" stroke-width="0.12">Probability of Survival</text>
<path d="M497.6 9H505V15.35H507V21.7H508.5V28.05H510V34.4H517V40.75H520V47.1H522V53.45H534V59.8H538V66.15H548V72.5H564.4V78.85H565.5V85.2H568V91.55H580V97.9H588V104.25H613.6V110.6H619V114.41H620.3V120.76H621.6V129.65H656V136" fill="none" stroke="#c8202e" stroke-width="1.4"/>
<path d="M497.6 9H508.4V21.7H509.5V29.32H510.5V36.94H511.5V44.56H516V49.64H517V54.72H518V59.8H519.5V64.88H521V69.96H522.5V75.04H524V80.12H525V85.2H526V91.55H527V97.9H528.5V104.25H529.8V109.33H531V114.41H546V122.03H556V129.01H591V136" fill="none" stroke="#3b5cb0" stroke-width="1.4"/>
<line x1="520" y1="11.6" x2="534" y2="11.6" stroke="#c8202e" stroke-width="1.4"/>
<line x1="520" y1="29" x2="534" y2="29" stroke="#3b5cb0" stroke-width="1.4"/>
<text x="536" y="14.12" font-size="7" text-anchor="start" fill="#111" stroke="#111" stroke-width="0.09">CCAR2 HI+IR N=144</text>
<text x="536" y="31.52" font-size="7" text-anchor="start" fill="#111" stroke="#111" stroke-width="0.09">CCAR2 LO+IR N=166</text>
<path d="M603.9 11.6 H607.4 V29 H603.9" fill="none" stroke="#000" stroke-width="1.1"/>
<text x="611.6" y="22.52" font-size="7" text-anchor="start" fill="#111" stroke="#111" stroke-width="0.09">p=0.0377</text>
<text x="0" y="177.18" font-size="13" text-anchor="start" font-weight="bold" fill="#111" stroke="#111" stroke-width="0.17">E</text>
<line x1="43" y1="183" x2="43" y2="307.6" stroke="#000" stroke-width="1.2"/>
<line x1="38.5" y1="307" x2="43" y2="307" stroke="#000" stroke-width="1.2"/>
<text transform="translate(36.8,310.74) scale(0.88,1)" font-size="10.4" text-anchor="end" fill="#111" stroke="#111" stroke-width="0.14">0</text>
<line x1="38.5" y1="278.75" x2="43" y2="278.75" stroke="#000" stroke-width="1.2"/>
<text transform="translate(36.8,282.49) scale(0.88,1)" font-size="10.4" text-anchor="end" fill="#111" stroke="#111" stroke-width="0.14">500</text>
<line x1="38.5" y1="250.5" x2="43" y2="250.5" stroke="#000" stroke-width="1.2"/>
<text transform="translate(36.8,254.24) scale(0.88,1)" font-size="10.4" text-anchor="end" fill="#111" stroke="#111" stroke-width="0.14">1000</text>
<line x1="38.5" y1="222.25" x2="43" y2="222.25" stroke="#000" stroke-width="1.2"/>
<text transform="translate(36.8,225.99) scale(0.88,1)" font-size="10.4" text-anchor="end" fill="#111" stroke="#111" stroke-width="0.14">1500</text>
<line x1="38.5" y1="194" x2="43" y2="194" stroke="#000" stroke-width="1.2"/>
<text transform="translate(36.8,197.74) scale(0.88,1)" font-size="10.4" text-anchor="end" fill="#111" stroke="#111" stroke-width="0.14">2000</text>
<line x1="42.4" y1="307" x2="227" y2="307" stroke="#000" stroke-width="1.2"/>
<line x1="43" y1="307" x2="43" y2="311.5" stroke="#000" stroke-width="1.2"/>
<text transform="translate(43,321.04) scale(0.88,1)" font-size="10.4" text-anchor="middle" fill="#111" stroke="#111" stroke-width="0.14">0</text>
<line x1="89" y1="307" x2="89" y2="311.5" stroke="#000" stroke-width="1.2"/>
<text transform="translate(89,321.04) scale(0.88,1)" font-size="10.4" text-anchor="middle" fill="#111" stroke="#111" stroke-width="0.14">5</text>
<line x1="135" y1="307" x2="135" y2="311.5" stroke="#000" stroke-width="1.2"/>
<text transform="translate(135,321.04) scale(0.88,1)" font-size="10.4" text-anchor="middle" fill="#111" stroke="#111" stroke-width="0.14">10</text>
<line x1="181" y1="307" x2="181" y2="311.5" stroke="#000" stroke-width="1.2"/>
<text transform="translate(181,321.04) scale(0.88,1)" font-size="10.4" text-anchor="middle" fill="#111" stroke="#111" stroke-width="0.14">15</text>
<line x1="227" y1="307" x2="227" y2="311.5" stroke="#000" stroke-width="1.2"/>
<text transform="translate(227,321.04) scale(0.88,1)" font-size="10.4" text-anchor="middle" fill="#111" stroke="#111" stroke-width="0.14">20</text>
<text x="140.5" y="331.7" font-size="8.9" text-anchor="middle" fill="#111" stroke="#111" stroke-width="0.12">Time with treatment (days)</text>
<text transform="translate(9,248.5) rotate(-90)" x="0" y="3.2" font-size="9" text-anchor="middle" fill="#111">Tumor volume (mm<tspan font-size="6" dy="-3">3</tspan><tspan dy="3">)</tspan></text>
<path d="M43 298.98 L70.6 291.41 L98.2 278.58 L135 263.38 L162.6 248.41 L199.4 226.6 L227 214.62" fill="none" stroke="#ea4a45" stroke-width="1.3"/>
<path d="M43 300.22 L70.6 295.98 L98.2 285.98 L135 272.59 L162.6 264.4 L199.4 248.01 L227 235.02" fill="none" stroke="#b3202f" stroke-width="1.3" stroke-dasharray="3.2 2"/>
<path d="M43 300.79 L70.6 297 L98.2 289.99 L135 274.63 L162.6 265.42 L199.4 249.99 L227 236.38" fill="none" stroke="#4a68bd" stroke-width="1.3"/>
<path d="M43 301.8 L70.6 299.99 L98.2 294.63 L135 285.42 L162.6 275.98 L199.4 264.4 L227 252.99" fill="none" stroke="#2c4795" stroke-width="1.3" stroke-dasharray="3.2 2"/>
<path d="M43 297.28V300.67M40.5 297.28h5M40.5 300.67h5M70.6 286.6V296.21M68.1 286.6h5M68.1 296.21h5M98.2 268.01V289.15M95.7 268.01h5M95.7 289.15h5M135 251.4V275.36M132.5 251.4h5M132.5 275.36h5M162.6 231.01V265.81M160.1 231.01h5M160.1 265.81h5M199.4 204.62V248.58M196.9 204.62h5M196.9 248.58h5M227 190.05V239.2M224.5 190.05h5M224.5 239.2h5M43 298.81V301.63M40.5 298.81h5M40.5 301.63h5M70.6 292.59V299.37M68.1 292.59h5M68.1 299.37h5M98.2 279.2V292.76M95.7 279.2h5M95.7 292.76h5M135 262.42V282.76M132.5 262.42h5M132.5 282.76h5M162.6 250.27V278.52M160.1 250.27h5M160.1 278.52h5M199.4 230.5V265.53M196.9 230.5h5M196.9 265.53h5M227 199.99V270.05M224.5 199.99h5M224.5 270.05h5M43 299.37V302.2M40.5 299.37h5M40.5 302.2h5M70.6 294.17V299.82M68.1 294.17h5M68.1 299.82h5M98.2 284.34V295.64M95.7 284.34h5M95.7 295.64h5M135 266.15V283.1M132.5 266.15h5M132.5 283.1h5M162.6 254.12V276.72M160.1 254.12h5M160.1 276.72h5M199.4 234.74V265.25M196.9 234.74h5M196.9 265.25h5M227 219.43V253.32M224.5 219.43h5M224.5 253.32h5M43 300.67V302.93M40.5 300.67h5M40.5 302.93h5M70.6 297.39V302.59M68.1 297.39h5M68.1 302.59h5M98.2 291.24V298.02M95.7 291.24h5M95.7 298.02h5M135 279.43V291.41M132.5 279.43h5M132.5 291.41h5M162.6 269.37V282.59M160.1 269.37h5M160.1 282.59h5M199.4 249.37V279.43M196.9 249.37h5M196.9 279.43h5M227 232.99V272.99M224.5 232.99h5M224.5 272.99h5" fill="none" stroke="#454545" stroke-width="1.4"/>
<circle cx="43" cy="298.98" r="1.7" fill="#ea4a45"/>
<circle cx="70.6" cy="291.41" r="1.7" fill="#ea4a45"/>
<circle cx="98.2" cy="278.58" r="1.7" fill="#ea4a45"/>
<circle cx="135" cy="263.38" r="1.7" fill="#ea4a45"/>
<circle cx="162.6" cy="248.41" r="1.7" fill="#ea4a45"/>
<circle cx="199.4" cy="226.6" r="1.7" fill="#ea4a45"/>
<circle cx="227" cy="214.62" r="1.7" fill="#ea4a45"/>
<path d="M43 298.42l1.8 3h-3.6z" fill="#b3202f"/>
<path d="M70.6 294.18l1.8 3h-3.6z" fill="#b3202f"/>
<path d="M98.2 284.18l1.8 3h-3.6z" fill="#b3202f"/>
<path d="M135 270.79l1.8 3h-3.6z" fill="#b3202f"/>
<path d="M162.6 262.6l1.8 3h-3.6z" fill="#b3202f"/>
<path d="M199.4 246.21l1.8 3h-3.6z" fill="#b3202f"/>
<path d="M227 233.22l1.8 3h-3.6z" fill="#b3202f"/>
<circle cx="43" cy="300.79" r="1.7" fill="#4a68bd"/>
<circle cx="70.6" cy="297" r="1.7" fill="#4a68bd"/>
<circle cx="98.2" cy="289.99" r="1.7" fill="#4a68bd"/>
<circle cx="135" cy="274.63" r="1.7" fill="#4a68bd"/>
<circle cx="162.6" cy="265.42" r="1.7" fill="#4a68bd"/>
<circle cx="199.4" cy="249.99" r="1.7" fill="#4a68bd"/>
<circle cx="227" cy="236.38" r="1.7" fill="#4a68bd"/>
<path d="M43 300l1.8 3h-3.6z" fill="#2c4795"/>
<path d="M70.6 298.19l1.8 3h-3.6z" fill="#2c4795"/>
<path d="M98.2 292.83l1.8 3h-3.6z" fill="#2c4795"/>
<path d="M135 283.62l1.8 3h-3.6z" fill="#2c4795"/>
<path d="M162.6 274.18l1.8 3h-3.6z" fill="#2c4795"/>
<path d="M199.4 262.6l1.8 3h-3.6z" fill="#2c4795"/>
<path d="M227 251.19l1.8 3h-3.6z" fill="#2c4795"/>
<line x1="53" y1="190" x2="64" y2="190" stroke="#4a68bd" stroke-width="1.3"/>
<circle cx="58.5" cy="190" r="1.7" fill="#4a68bd"/>
<text x="69" y="193.2" font-size="8.9" text-anchor="start" fill="#111" stroke="#111" stroke-width="0.12">shCtrl - DMSO</text>
<line x1="53" y1="202.4" x2="64" y2="202.4" stroke="#ea4a45" stroke-width="1.3"/>
<circle cx="58.5" cy="202.4" r="1.7" fill="#ea4a45"/>
<text x="69" y="205.6" font-size="8.9" text-anchor="start" fill="#111" stroke="#111" stroke-width="0.12">shCRY1 - DMSO</text>
<line x1="53" y1="215" x2="64" y2="215" stroke="#2c4795" stroke-width="1.3" stroke-dasharray="3 1.8"/>
<path d="M58.5 213.2l1.8 3h-3.6z" fill="#2c4795"/>
<text x="69" y="218.2" font-size="8.9" text-anchor="start" fill="#111" stroke="#111" stroke-width="0.12">shCtrl - Etoposide</text>
<line x1="53" y1="227" x2="64" y2="227" stroke="#b3202f" stroke-width="1.3" stroke-dasharray="3 1.8"/>
<path d="M58.5 225.2l1.8 3h-3.6z" fill="#b3202f"/>
<text x="69" y="230.2" font-size="8.9" text-anchor="start" fill="#111" stroke="#111" stroke-width="0.12">shCRY1 - Etoposide</text>
<path d="M144 189 H150 V202.4 H144" fill="none" stroke="#000" stroke-width="1.2"/>
<text x="156" y="197.01" font-size="6.7" text-anchor="start" fill="#111" stroke="#111" stroke-width="0.09">p=0.0104</text>
<path d="M152.4 214.4 H158.4 V227 H152.4" fill="none" stroke="#000" stroke-width="1.2"/>
<text x="163" y="223.41" font-size="6.7" text-anchor="start" fill="#111" stroke="#111" stroke-width="0.09">p=0.0397</text>
<text x="236" y="180.5" font-size="12.5" text-anchor="start" font-weight="bold" fill="#111" stroke="#111" stroke-width="0.17">F</text>
<line x1="269.6" y1="182.6" x2="269.6" y2="307.2" stroke="#000" stroke-width="1.2"/>
<line x1="264.3" y1="306.6" x2="269.6" y2="306.6" stroke="#000" stroke-width="1.2"/>
<text x="261.9" y="309.84" font-size="9" text-anchor="end" fill="#111" stroke="#111" stroke-width="0.12">0</text>
<line x1="264.3" y1="281.8" x2="269.6" y2="281.8" stroke="#000" stroke-width="1.2"/>
<text x="261.9" y="285.04" font-size="9" text-anchor="end" fill="#111" stroke="#111" stroke-width="0.12">20</text>
<line x1="264.3" y1="257" x2="269.6" y2="257" stroke="#000" stroke-width="1.2"/>
<text x="261.9" y="260.24" font-size="9" text-anchor="end" fill="#111" stroke="#111" stroke-width="0.12">40</text>
<line x1="264.3" y1="232.2" x2="269.6" y2="232.2" stroke="#000" stroke-width="1.2"/>
<text x="261.9" y="235.44" font-size="9" text-anchor="end" fill="#111" stroke="#111" stroke-width="0.12">60</text>
<line x1="264.3" y1="207.4" x2="269.6" y2="207.4" stroke="#000" stroke-width="1.2"/>
<text x="261.9" y="210.64" font-size="9" text-anchor="end" fill="#111" stroke="#111" stroke-width="0.12">80</text>
<line x1="264.3" y1="182.6" x2="269.6" y2="182.6" stroke="#000" stroke-width="1.2"/>
<text x="261.9" y="185.84" font-size="9" text-anchor="end" fill="#111" stroke="#111" stroke-width="0.12">100</text>
<line x1="269" y1="306.6" x2="443.6" y2="306.6" stroke="#000" stroke-width="1.2"/>
<line x1="269.6" y1="306.6" x2="269.6" y2="311.1" stroke="#000" stroke-width="1.2"/>
<text x="269.6" y="322.84" font-size="9" text-anchor="middle" fill="#111" stroke="#111" stroke-width="0.12">0</text>
<line x1="313.1" y1="306.6" x2="313.1" y2="311.1" stroke="#000" stroke-width="1.2"/>
<text x="313.1" y="322.84" font-size="9" text-anchor="middle" fill="#111" stroke="#111" stroke-width="0.12">500</text>
<line x1="356.6" y1="306.6" x2="356.6" y2="311.1" stroke="#000" stroke-width="1.2"/>
<text x="356.6" y="322.84" font-size="9" text-anchor="middle" fill="#111" stroke="#111" stroke-width="0.12">1000</text>
<line x1="400.1" y1="306.6" x2="400.1" y2="311.1" stroke="#000" stroke-width="1.2"/>
<text x="400.1" y="322.84" font-size="9" text-anchor="middle" fill="#111" stroke="#111" stroke-width="0.12">1500</text>
<line x1="443.6" y1="306.6" x2="443.6" y2="311.1" stroke="#000" stroke-width="1.2"/>
<text x="443.6" y="322.84" font-size="9" text-anchor="middle" fill="#111" stroke="#111" stroke-width="0.12">2000</text>
<text x="355" y="337.84" font-size="9" text-anchor="middle" fill="#111" stroke="#111" stroke-width="0.12">Days</text>
<text transform="translate(245,254.5) rotate(-90)" x="0" y="3.24" font-size="9" text-anchor="middle" fill="#111" stroke="#111" stroke-width="0.12">Probability of Survival</text>
<text x="324.4" y="183.24" font-size="9" text-anchor="start" fill="#111" stroke="#111" stroke-width="0.12">Pan Cancer</text>
<line x1="278" y1="272.6" x2="292" y2="272.6" stroke="#2e6cc0" stroke-width="1.4"/>
<line x1="278" y1="290.6" x2="292" y2="290.6" stroke="#e8383b" stroke-width="1.4"/>
<text x="299" y="275.84" font-size="9" text-anchor="start" fill="#111" stroke="#111" stroke-width="0.12">Morning N=2343</text>
<text x="299" y="293.84" font-size="9" text-anchor="start" fill="#111" stroke="#111" stroke-width="0.12">Afternoon N=3408</text>
<path d="M383.6 273 H390 V291.4 H383.6" fill="none" stroke="#000" stroke-width="1.2"/>
<text x="395.6" y="287.24" font-size="9" text-anchor="start" fill="#111" stroke="#111" stroke-width="0.12">p&lt;0,0001</text>
<path d="M269.6 182.6 L272 184.83 L275 188.8 L278 192.52 L281 195 L284 197.23 L287 199.22 L290 200.95 L295 203.18 L300 205.04 L306 207.28 L312.6 209.38 L320 211.12 L330 212.98 L340 214.96 L350 216.82 L360 218.56 L370 220.79 L380 222.78 L390 224.51 L398 225.63 L404 226.62 L419.6 226.62" fill="none" stroke="#e8383b" stroke-width="1.5" stroke-linejoin="round"/>
<path d="M269.6 182.6 L272 185.33 L275 190.04 L278 194.63 L281 197.73 L284 200.58 L287 203.31 L290 205.79 L293 207.77 L296 209.38 L300 210.87 L304 212.11 L312.6 213.97 L320 215.96 L330 217.94 L342 220.79 L350 222.28 L358 224.64 L365 226.25 L370 227.74 L378 228.98 L386 229.97 L399 230.96 L403 232.45 L406 234.43 L410 236.42 L419.6 236.54" fill="none" stroke="#2e6cc0" stroke-width="1.5" stroke-linejoin="round"/>
<text x="451" y="180.5" font-size="12.5" text-anchor="start" font-weight="bold" fill="#111" stroke="#111" stroke-width="0.17">G</text>
<line x1="486.6" y1="179.4" x2="486.6" y2="303.6" stroke="#000" stroke-width="1.2"/>
<line x1="481.3" y1="303" x2="486.6" y2="303" stroke="#000" stroke-width="1.2"/>
<text x="478.9" y="306.24" font-size="9" text-anchor="end" fill="#111" stroke="#111" stroke-width="0.12">0</text>
<line x1="481.3" y1="278.28" x2="486.6" y2="278.28" stroke="#000" stroke-width="1.2"/>
<text x="478.9" y="281.52" font-size="9" text-anchor="end" fill="#111" stroke="#111" stroke-width="0.12">20</text>
<line x1="481.3" y1="253.56" x2="486.6" y2="253.56" stroke="#000" stroke-width="1.2"/>
<text x="478.9" y="256.8" font-size="9" text-anchor="end" fill="#111" stroke="#111" stroke-width="0.12">40</text>
<line x1="481.3" y1="228.84" x2="486.6" y2="228.84" stroke="#000" stroke-width="1.2"/>
<text x="478.9" y="232.08" font-size="9" text-anchor="end" fill="#111" stroke="#111" stroke-width="0.12">60</text>
<line x1="481.3" y1="204.12" x2="486.6" y2="204.12" stroke="#000" stroke-width="1.2"/>
<text x="478.9" y="207.36" font-size="9" text-anchor="end" fill="#111" stroke="#111" stroke-width="0.12">80</text>
<line x1="481.3" y1="179.4" x2="486.6" y2="179.4" stroke="#000" stroke-width="1.2"/>
<text x="478.9" y="182.64" font-size="9" text-anchor="end" fill="#111" stroke="#111" stroke-width="0.12">100</text>
<line x1="486" y1="303" x2="660.4" y2="303" stroke="#000" stroke-width="1.2"/>
<line x1="486.6" y1="303" x2="486.6" y2="307.5" stroke="#000" stroke-width="1.2"/>
<text x="486.6" y="319.44" font-size="9" text-anchor="middle" fill="#111" stroke="#111" stroke-width="0.12">0</text>
<line x1="530.05" y1="303" x2="530.05" y2="307.5" stroke="#000" stroke-width="1.2"/>
<text x="530.05" y="319.44" font-size="9" text-anchor="middle" fill="#111" stroke="#111" stroke-width="0.12">500</text>
<line x1="573.5" y1="303" x2="573.5" y2="307.5" stroke="#000" stroke-width="1.2"/>
<text x="573.5" y="319.44" font-size="9" text-anchor="middle" fill="#111" stroke="#111" stroke-width="0.12">1000</text>
<line x1="616.95" y1="303" x2="616.95" y2="307.5" stroke="#000" stroke-width="1.2"/>
<text x="616.95" y="319.44" font-size="9" text-anchor="middle" fill="#111" stroke="#111" stroke-width="0.12">1500</text>
<line x1="660.4" y1="303" x2="660.4" y2="307.5" stroke="#000" stroke-width="1.2"/>
<text x="660.4" y="319.44" font-size="9" text-anchor="middle" fill="#111" stroke="#111" stroke-width="0.12">2000</text>
<text x="571.6" y="334.04" font-size="9" text-anchor="middle" fill="#111" stroke="#111" stroke-width="0.12">Days</text>
<text transform="translate(461.6,250.5) rotate(-90)" x="0" y="3.24" font-size="9" text-anchor="middle" fill="#111" stroke="#111" stroke-width="0.12">Probability of Survival</text>
<text x="541" y="176.24" font-size="9" text-anchor="start" fill="#111" stroke="#111" stroke-width="0.12">Prostate Cancer</text>
<line x1="497.6" y1="269.6" x2="511.6" y2="269.6" stroke="#2e6cc0" stroke-width="1.4"/>
<line x1="499.6" y1="286.6" x2="513.6" y2="286.6" stroke="#e8383b" stroke-width="1.4"/>
<text x="519" y="272.84" font-size="9" text-anchor="start" fill="#111" stroke="#111" stroke-width="0.12">Morning N=486</text>
<text x="520.4" y="289.84" font-size="9" text-anchor="start" fill="#111" stroke="#111" stroke-width="0.12">Afternoon N=588</text>
<path d="M600.4 269.4 H607 V288 H600.4" fill="none" stroke="#000" stroke-width="1.2"/>
<text x="611.6" y="283.84" font-size="9" text-anchor="start" fill="#111" stroke="#111" stroke-width="0.12">p=0,025</text>
<path d="M486.6 179.4 L490 180.02 L494 180.64 L497 181.38 L501 182.74 L505 183.97 L512 184.96 L520 186.07 L530 186.82 L540 187.56 L550 188.55 L558 189.54 L566 191.02 L574 192.38 L580 193.61 L587 195.22 L592 195.96 L598 196.7 L603 199.18 L608 201.03 L613 202.64 L618 204.12 L621 207.83 L622 208.57 L633 208.57" fill="none" stroke="#e8383b" stroke-width="1.5" stroke-linejoin="round"/>
<path d="M486.6 179.4 L490 180.64 L493 183.36 L497 184.96 L503 186.2 L510 186.94 L515 188.3 L520 190.03 L525 191.76 L530 193 L535 194.23 L540 195.47 L545 196.7 L555 197.94 L562 197.94 L566 200.04 L575 201.4 L580 202.02 L601 202.02 L602 204.12 L607 206.96 L624 206.96 L625 212.9 L631.6 212.9" fill="none" stroke="#2e6cc0" stroke-width="1.5" stroke-linejoin="round"/>
<text x="2" y="355.1" font-size="12.5" text-anchor="start" font-weight="bold" fill="#111" stroke="#111" stroke-width="0.17">H</text>
<line x1="37.6" y1="365.6" x2="37.6" y2="490.2" stroke="#000" stroke-width="1.2"/>
<line x1="32.3" y1="489.6" x2="37.6" y2="489.6" stroke="#000" stroke-width="1.2"/>
<text x="29.9" y="492.84" font-size="9" text-anchor="end" fill="#111" stroke="#111" stroke-width="0.12">0</text>
<line x1="32.3" y1="464.8" x2="37.6" y2="464.8" stroke="#000" stroke-width="1.2"/>
<text x="29.9" y="468.04" font-size="9" text-anchor="end" fill="#111" stroke="#111" stroke-width="0.12">20</text>
<line x1="32.3" y1="440" x2="37.6" y2="440" stroke="#000" stroke-width="1.2"/>
<text x="29.9" y="443.24" font-size="9" text-anchor="end" fill="#111" stroke="#111" stroke-width="0.12">40</text>
<line x1="32.3" y1="415.2" x2="37.6" y2="415.2" stroke="#000" stroke-width="1.2"/>
<text x="29.9" y="418.44" font-size="9" text-anchor="end" fill="#111" stroke="#111" stroke-width="0.12">60</text>
<line x1="32.3" y1="390.4" x2="37.6" y2="390.4" stroke="#000" stroke-width="1.2"/>
<text x="29.9" y="393.64" font-size="9" text-anchor="end" fill="#111" stroke="#111" stroke-width="0.12">80</text>
<line x1="32.3" y1="365.6" x2="37.6" y2="365.6" stroke="#000" stroke-width="1.2"/>
<text x="29.9" y="368.84" font-size="9" text-anchor="end" fill="#111" stroke="#111" stroke-width="0.12">100</text>
<line x1="37" y1="489.6" x2="224" y2="489.6" stroke="#000" stroke-width="1.2"/>
<line x1="37.6" y1="489.6" x2="37.6" y2="494.1" stroke="#000" stroke-width="1.2"/>
<text x="37.6" y="505.84" font-size="9" text-anchor="middle" fill="#111" stroke="#111" stroke-width="0.12">0</text>
<line x1="84.2" y1="489.6" x2="84.2" y2="494.1" stroke="#000" stroke-width="1.2"/>
<text x="84.2" y="505.84" font-size="9" text-anchor="middle" fill="#111" stroke="#111" stroke-width="0.12">500</text>
<line x1="130.8" y1="489.6" x2="130.8" y2="494.1" stroke="#000" stroke-width="1.2"/>
<text x="130.8" y="505.84" font-size="9" text-anchor="middle" fill="#111" stroke="#111" stroke-width="0.12">1000</text>
<line x1="177.4" y1="489.6" x2="177.4" y2="494.1" stroke="#000" stroke-width="1.2"/>
<text x="177.4" y="505.84" font-size="9" text-anchor="middle" fill="#111" stroke="#111" stroke-width="0.12">1500</text>
<line x1="224" y1="489.6" x2="224" y2="494.1" stroke="#000" stroke-width="1.2"/>
<text x="224" y="505.84" font-size="9" text-anchor="middle" fill="#111" stroke="#111" stroke-width="0.12">2000</text>
<text x="108" y="520.84" font-size="9" text-anchor="start" fill="#111" stroke="#111" stroke-width="0.12">Fecha Fin</text>
<text transform="translate(9.4,437.5) rotate(-90)" x="0" y="3.24" font-size="9" text-anchor="middle" fill="#111" stroke="#111" stroke-width="0.12">Probability of Survival</text>
<text x="117" y="368.64" font-size="9" text-anchor="start" fill="#111" stroke="#111" stroke-width="0.12">Lung</text>
<line x1="53" y1="383" x2="67" y2="383" stroke="#2e6cc0" stroke-width="1.4"/>
<line x1="53" y1="399.6" x2="67" y2="399.6" stroke="#e8383b" stroke-width="1.4"/>
<text x="74.4" y="386.24" font-size="9" text-anchor="start" fill="#111" stroke="#111" stroke-width="0.12">Morning N=63</text>
<text x="74.4" y="402.84" font-size="9" text-anchor="start" fill="#111" stroke="#111" stroke-width="0.12">Afternoon N=59</text>
<path d="M157.6 382 H164.4 V400.4 H157.6" fill="none" stroke="#000" stroke-width="1.2"/>
<text x="166.6" y="394.24" font-size="9" text-anchor="start" fill="#111" stroke="#111" stroke-width="0.12">ns (p=0.9056)</text>
<path d="M37.6 365.6H38V371.8H40V375.52H41.5V380.48H42.5V385.44H43.5V390.4H44.5V395.36H45.5V400.32H46V405.28H47V412.97H48V416.07H50V417.06H52V420.16H53V423.01H54V428.96H55.5V433.06H57V436.03H58V439.01H63.5V440.62H65V443.97H66V446.94H68V449.92H70V454.01H73V455H76V457.98H78V459.96H79V461.45H80V462.94H90V465.05H94V466.04H96V468.02H112V472.24H164" fill="none" stroke="#e8383b" stroke-width="1.4"/>
<path d="M37.6 365.6H39V369.32H40V371.8H41V375.52H42V378H43V384.2H44V387.92H45V390.4H45.5V392.88H46.5V395.36H47V397.84H47.5V400.32H48V409H50V413.09H52.5V417.68H53.5V422.02H54.5V426.98H56V431.32H57.5V433.06H58.5V437.02H60V441.98H61V446.94H62V448.06H68.5V449.92H70V452.03H72V455.13H74V457.36H78V461.95H80V462.94H88V464.43H108V469.14H139.6V472.24H141V483.03H193.6" fill="none" stroke="#2e6cc0" stroke-width="1.4"/>
<text x="236.5" y="355.1" font-size="12.5" text-anchor="start" font-weight="bold" fill="#111" stroke="#111" stroke-width="0.17">I</text>
<line x1="271.6" y1="365.4" x2="271.6" y2="490" stroke="#000" stroke-width="1.2"/>
<line x1="266.3" y1="489.4" x2="271.6" y2="489.4" stroke="#000" stroke-width="1.2"/>
<text x="263.9" y="492.64" font-size="9" text-anchor="end" fill="#111" stroke="#111" stroke-width="0.12">0</text>
<line x1="266.3" y1="464.6" x2="271.6" y2="464.6" stroke="#000" stroke-width="1.2"/>
<text x="263.9" y="467.84" font-size="9" text-anchor="end" fill="#111" stroke="#111" stroke-width="0.12">20</text>
<line x1="266.3" y1="439.8" x2="271.6" y2="439.8" stroke="#000" stroke-width="1.2"/>
<text x="263.9" y="443.04" font-size="9" text-anchor="end" fill="#111" stroke="#111" stroke-width="0.12">40</text>
<line x1="266.3" y1="415" x2="271.6" y2="415" stroke="#000" stroke-width="1.2"/>
<text x="263.9" y="418.24" font-size="9" text-anchor="end" fill="#111" stroke="#111" stroke-width="0.12">60</text>
<line x1="266.3" y1="390.2" x2="271.6" y2="390.2" stroke="#000" stroke-width="1.2"/>
<text x="263.9" y="393.44" font-size="9" text-anchor="end" fill="#111" stroke="#111" stroke-width="0.12">80</text>
<line x1="266.3" y1="365.4" x2="271.6" y2="365.4" stroke="#000" stroke-width="1.2"/>
<text x="263.9" y="368.64" font-size="9" text-anchor="end" fill="#111" stroke="#111" stroke-width="0.12">100</text>
<line x1="271" y1="489.4" x2="445.6" y2="489.4" stroke="#000" stroke-width="1.2"/>
<line x1="271.6" y1="489.4" x2="271.6" y2="493.9" stroke="#000" stroke-width="1.2"/>
<text x="271.6" y="505.44" font-size="9" text-anchor="middle" fill="#111" stroke="#111" stroke-width="0.12">0</text>
<line x1="315.1" y1="489.4" x2="315.1" y2="493.9" stroke="#000" stroke-width="1.2"/>
<text x="315.1" y="505.44" font-size="9" text-anchor="middle" fill="#111" stroke="#111" stroke-width="0.12">500</text>
<line x1="358.6" y1="489.4" x2="358.6" y2="493.9" stroke="#000" stroke-width="1.2"/>
<text x="358.6" y="505.44" font-size="9" text-anchor="middle" fill="#111" stroke="#111" stroke-width="0.12">1000</text>
<line x1="402.1" y1="489.4" x2="402.1" y2="493.9" stroke="#000" stroke-width="1.2"/>
<text x="402.1" y="505.44" font-size="9" text-anchor="middle" fill="#111" stroke="#111" stroke-width="0.12">1500</text>
<line x1="445.6" y1="489.4" x2="445.6" y2="493.9" stroke="#000" stroke-width="1.2"/>
<text x="445.6" y="505.44" font-size="9" text-anchor="middle" fill="#111" stroke="#111" stroke-width="0.12">2000</text>
<text x="356" y="521.14" font-size="9" text-anchor="middle" fill="#111" stroke="#111" stroke-width="0.12">Days</text>
<text transform="translate(246,437.5) rotate(-90)" x="0" y="3.24" font-size="9" text-anchor="middle" fill="#111" stroke="#111" stroke-width="0.12">Probability of Survival</text>
<text x="343.6" y="365.24" font-size="9" text-anchor="start" fill="#111" stroke="#111" stroke-width="0.12">Breast</text>
<line x1="285.6" y1="456" x2="299.6" y2="456" stroke="#2e6cc0" stroke-width="1.4"/>
<line x1="286.4" y1="473" x2="300.4" y2="473" stroke="#e8383b" stroke-width="1.4"/>
<text x="306.6" y="459.24" font-size="9" text-anchor="start" fill="#111" stroke="#111" stroke-width="0.12">Morning N=750</text>
<text x="307.6" y="476.24" font-size="9" text-anchor="start" fill="#111" stroke="#111" stroke-width="0.12">Afternoon N=1420</text>
<path d="M392 456.4 H399 V475 H392" fill="none" stroke="#000" stroke-width="1.2"/>
<text x="402.4" y="470.24" font-size="9" text-anchor="start" fill="#111" stroke="#111" stroke-width="0.12">p=0.0150</text>
<path d="M271.6 365.4 L274 366.02 L278 367.01 L284 367.88 L290 368.62 L295 369.74 L300 370.98 L307 372.22 L314 373.46 L322 374.33 L330 375.32 L340 376.56 L350 377.8 L360 379.04 L370 380.03 L380 381.02 L392 381.52 L396 383.01 L404 384 L420 384" fill="none" stroke="#e8383b" stroke-width="1.5" stroke-linejoin="round"/>
<path d="M271.6 365.4 L274 366.64 L278 367.88 L284 369.74 L290 370.98 L295 372.47 L300 374.08 L307 375.32 L314 376.56 L322 377.8 L330 379.04 L340 380.28 L350 381.52 L358 383.38 L365 384 L370 384.62 L376 385.86 L382 387.35 L400 387.97 L421 387.97" fill="none" stroke="#2e6cc0" stroke-width="1.5" stroke-linejoin="round"/>
<text x="452" y="355.1" font-size="12.5" text-anchor="start" font-weight="bold" fill="#111" stroke="#111" stroke-width="0.17">J</text>
<line x1="488.4" y1="364" x2="488.4" y2="489" stroke="#000" stroke-width="1.2"/>
<line x1="483.1" y1="488.4" x2="488.4" y2="488.4" stroke="#000" stroke-width="1.2"/>
<text x="480.7" y="491.64" font-size="9" text-anchor="end" fill="#111" stroke="#111" stroke-width="0.12">0</text>
<line x1="483.1" y1="463.52" x2="488.4" y2="463.52" stroke="#000" stroke-width="1.2"/>
<text x="480.7" y="466.76" font-size="9" text-anchor="end" fill="#111" stroke="#111" stroke-width="0.12">20</text>
<line x1="483.1" y1="438.64" x2="488.4" y2="438.64" stroke="#000" stroke-width="1.2"/>
<text x="480.7" y="441.88" font-size="9" text-anchor="end" fill="#111" stroke="#111" stroke-width="0.12">40</text>
<line x1="483.1" y1="413.76" x2="488.4" y2="413.76" stroke="#000" stroke-width="1.2"/>
<text x="480.7" y="417" font-size="9" text-anchor="end" fill="#111" stroke="#111" stroke-width="0.12">60</text>
<line x1="483.1" y1="388.88" x2="488.4" y2="388.88" stroke="#000" stroke-width="1.2"/>
<text x="480.7" y="392.12" font-size="9" text-anchor="end" fill="#111" stroke="#111" stroke-width="0.12">80</text>
<line x1="483.1" y1="364" x2="488.4" y2="364" stroke="#000" stroke-width="1.2"/>
<text x="480.7" y="367.24" font-size="9" text-anchor="end" fill="#111" stroke="#111" stroke-width="0.12">100</text>
<line x1="487.8" y1="488.4" x2="662.6" y2="488.4" stroke="#000" stroke-width="1.2"/>
<line x1="488.4" y1="488.4" x2="488.4" y2="492.9" stroke="#000" stroke-width="1.2"/>
<text x="488.4" y="504.04" font-size="9" text-anchor="middle" fill="#111" stroke="#111" stroke-width="0.12">0</text>
<line x1="546.47" y1="488.4" x2="546.47" y2="492.9" stroke="#000" stroke-width="1.2"/>
<text x="546.47" y="504.04" font-size="9" text-anchor="middle" fill="#111" stroke="#111" stroke-width="0.12">500</text>
<line x1="604.54" y1="488.4" x2="604.54" y2="492.9" stroke="#000" stroke-width="1.2"/>
<text x="604.54" y="504.04" font-size="9" text-anchor="middle" fill="#111" stroke="#111" stroke-width="0.12">1000</text>
<line x1="662.61" y1="488.4" x2="662.61" y2="492.9" stroke="#000" stroke-width="1.2"/>
<text x="662.61" y="504.04" font-size="9" text-anchor="middle" fill="#111" stroke="#111" stroke-width="0.12">1500</text>
<text x="573.5" y="520.04" font-size="9" text-anchor="middle" fill="#111" stroke="#111" stroke-width="0.12">Days</text>
<text transform="translate(464,436) rotate(-90)" x="0" y="3.24" font-size="9" text-anchor="middle" fill="#111" stroke="#111" stroke-width="0.12">Probability of Survival</text>
<text x="547" y="359.84" font-size="9" text-anchor="start" fill="#111" stroke="#111" stroke-width="0.12">Melanoma</text>
<line x1="493.6" y1="464" x2="508" y2="464" stroke="#2e6cc0" stroke-width="1.4"/>
<line x1="493.6" y1="478.4" x2="508" y2="478.4" stroke="#e8383b" stroke-width="1.4"/>
<text x="514.4" y="467.24" font-size="9" text-anchor="start" fill="#111" stroke="#111" stroke-width="0.12">Morning N=7</text>
<text x="514.4" y="481.64" font-size="9" text-anchor="start" fill="#111" stroke="#111" stroke-width="0.12">Afternoon N=24</text>
<path d="M595.4 462.4 H602 V481.4 H595.4" fill="none" stroke="#000" stroke-width="1.2"/>
<text x="604" y="475.84" font-size="9" text-anchor="start" fill="#111" stroke="#111" stroke-width="0.12">ns (p=0.1963)</text>
<path d="M488.4 364H490.5V369.22H493V374.33H495.5V379.55H497.5V384.77H499V389.88H505.6V395.1H507V404.31H602" fill="none" stroke="#e8383b" stroke-width="1.4"/>
<path d="M488.4 364H497.6V384.77H500V405.43H504.4V426.2H512.4V457.3H551.6" fill="none" stroke="#2e6cc0" stroke-width="1.4"/>
<text x="2" y="541.9" font-size="12.5" text-anchor="start" font-weight="bold" fill="#111" stroke="#111" stroke-width="0.17">K</text>
<line x1="42.4" y1="542.6" x2="42.4" y2="667.2" stroke="#000" stroke-width="1.2"/>
<line x1="37.1" y1="666.6" x2="42.4" y2="666.6" stroke="#000" stroke-width="1.2"/>
<text x="34.7" y="669.84" font-size="9" text-anchor="end" fill="#111" stroke="#111" stroke-width="0.12">0</text>
<line x1="37.1" y1="641.8" x2="42.4" y2="641.8" stroke="#000" stroke-width="1.2"/>
<text x="34.7" y="645.04" font-size="9" text-anchor="end" fill="#111" stroke="#111" stroke-width="0.12">20</text>
<line x1="37.1" y1="617" x2="42.4" y2="617" stroke="#000" stroke-width="1.2"/>
<text x="34.7" y="620.24" font-size="9" text-anchor="end" fill="#111" stroke="#111" stroke-width="0.12">40</text>
<line x1="37.1" y1="592.2" x2="42.4" y2="592.2" stroke="#000" stroke-width="1.2"/>
<text x="34.7" y="595.44" font-size="9" text-anchor="end" fill="#111" stroke="#111" stroke-width="0.12">60</text>
<line x1="37.1" y1="567.4" x2="42.4" y2="567.4" stroke="#000" stroke-width="1.2"/>
<text x="34.7" y="570.64" font-size="9" text-anchor="end" fill="#111" stroke="#111" stroke-width="0.12">80</text>
<line x1="37.1" y1="542.6" x2="42.4" y2="542.6" stroke="#000" stroke-width="1.2"/>
<text x="34.7" y="545.84" font-size="9" text-anchor="end" fill="#111" stroke="#111" stroke-width="0.12">100</text>
<line x1="41.8" y1="666.6" x2="216.4" y2="666.6" stroke="#000" stroke-width="1.2"/>
<line x1="42.4" y1="666.6" x2="42.4" y2="671.1" stroke="#000" stroke-width="1.2"/>
<text x="42.4" y="682.84" font-size="9" text-anchor="middle" fill="#111" stroke="#111" stroke-width="0.12">0</text>
<line x1="85.9" y1="666.6" x2="85.9" y2="671.1" stroke="#000" stroke-width="1.2"/>
<text x="85.9" y="682.84" font-size="9" text-anchor="middle" fill="#111" stroke="#111" stroke-width="0.12">500</text>
<line x1="129.4" y1="666.6" x2="129.4" y2="671.1" stroke="#000" stroke-width="1.2"/>
<text x="129.4" y="682.84" font-size="9" text-anchor="middle" fill="#111" stroke="#111" stroke-width="0.12">1000</text>
<line x1="172.9" y1="666.6" x2="172.9" y2="671.1" stroke="#000" stroke-width="1.2"/>
<text x="172.9" y="682.84" font-size="9" text-anchor="middle" fill="#111" stroke="#111" stroke-width="0.12">1500</text>
<line x1="216.4" y1="666.6" x2="216.4" y2="671.1" stroke="#000" stroke-width="1.2"/>
<text x="216.4" y="682.84" font-size="9" text-anchor="middle" fill="#111" stroke="#111" stroke-width="0.12">2000</text>
<text x="127.9" y="697.84" font-size="9" text-anchor="middle" fill="#111" stroke="#111" stroke-width="0.12">Days</text>
<text transform="translate(9,614.5) rotate(-90)" x="0" y="3.24" font-size="9" text-anchor="middle" fill="#111" stroke="#111" stroke-width="0.12">Probability of Survival</text>
<text x="101" y="543.84" font-size="9" text-anchor="start" fill="#111" stroke="#111" stroke-width="0.12">Glioma</text>
<line x1="86" y1="557" x2="100" y2="557" stroke="#2e6cc0" stroke-width="1.4"/>
<line x1="86" y1="575.6" x2="100" y2="575.6" stroke="#e8383b" stroke-width="1.4"/>
<text x="107" y="560.24" font-size="9" text-anchor="start" fill="#111" stroke="#111" stroke-width="0.12">Morning N=43</text>
<text x="107" y="578.84" font-size="9" text-anchor="start" fill="#111" stroke="#111" stroke-width="0.12">Afternoon N=59</text>
<path d="M185 558.6 H191.6 V577.4 H185" fill="none" stroke="#000" stroke-width="1.2"/>
<text x="194.4" y="572.24" font-size="9" text-anchor="start" fill="#111" stroke="#111" stroke-width="0.12">ns (p=0.6495)</text>
<path d="M42.4 542.6H45H46V551.28H48V555H50V559.96H52V562.44H54V564.92H56V567.4H58V571.12H59.5V576.08H61V579.8H67V582.28H68V584.76H74V586H76V588.48H78V592.2H80V595.92H82V600.88H88V604.6H90V607.08H94V610.8H95V614.52H96V617H97V618.24H109V623.2H111V630.02H124V636.22H132V641.8H134V651.35H169.4" fill="none" stroke="#e8383b" stroke-width="1.4"/>
<path d="M42.4 542.6H45H46V548.8H47V552.52H48V555H49V557.48H50V559.96H52V561.2H54V563.68H56V566.16H58V568.64H59V579.8H60V582.28H63V584.76H66V588.48H68V592.2H69V594.68H70V598.4H71V603.36H75V607.08H80V613.28H94V616.38H119.6V620.72H131V624.44H145.6V629.4H163.6V641.8H174.4V654.2H189.6" fill="none" stroke="#2e6cc0" stroke-width="1.4"/>
<text x="2" y="712.9" font-size="12.5" text-anchor="start" font-weight="bold" fill="#111" stroke="#111" stroke-width="0.17">L</text>
<line x1="43.6" y1="722" x2="43.6" y2="847" stroke="#000" stroke-width="1.2"/>
<line x1="38.3" y1="846.4" x2="43.6" y2="846.4" stroke="#000" stroke-width="1.2"/>
<text x="35.9" y="849.64" font-size="9" text-anchor="end" fill="#111" stroke="#111" stroke-width="0.12">0</text>
<line x1="38.3" y1="821.52" x2="43.6" y2="821.52" stroke="#000" stroke-width="1.2"/>
<text x="35.9" y="824.76" font-size="9" text-anchor="end" fill="#111" stroke="#111" stroke-width="0.12">20</text>
<line x1="38.3" y1="796.64" x2="43.6" y2="796.64" stroke="#000" stroke-width="1.2"/>
<text x="35.9" y="799.88" font-size="9" text-anchor="end" fill="#111" stroke="#111" stroke-width="0.12">40</text>
<line x1="38.3" y1="771.76" x2="43.6" y2="771.76" stroke="#000" stroke-width="1.2"/>
<text x="35.9" y="775" font-size="9" text-anchor="end" fill="#111" stroke="#111" stroke-width="0.12">60</text>
<line x1="38.3" y1="746.88" x2="43.6" y2="746.88" stroke="#000" stroke-width="1.2"/>
<text x="35.9" y="750.12" font-size="9" text-anchor="end" fill="#111" stroke="#111" stroke-width="0.12">80</text>
<line x1="38.3" y1="722" x2="43.6" y2="722" stroke="#000" stroke-width="1.2"/>
<text x="35.9" y="725.24" font-size="9" text-anchor="end" fill="#111" stroke="#111" stroke-width="0.12">100</text>
<line x1="43" y1="846.4" x2="217.6" y2="846.4" stroke="#000" stroke-width="1.2"/>
<line x1="43.6" y1="846.4" x2="43.6" y2="850.9" stroke="#000" stroke-width="1.2"/>
<text x="43.6" y="862.44" font-size="9" text-anchor="middle" fill="#111" stroke="#111" stroke-width="0.12">0</text>
<line x1="87.1" y1="846.4" x2="87.1" y2="850.9" stroke="#000" stroke-width="1.2"/>
<text x="87.1" y="862.44" font-size="9" text-anchor="middle" fill="#111" stroke="#111" stroke-width="0.12">500</text>
<line x1="130.6" y1="846.4" x2="130.6" y2="850.9" stroke="#000" stroke-width="1.2"/>
<text x="130.6" y="862.44" font-size="9" text-anchor="middle" fill="#111" stroke="#111" stroke-width="0.12">1000</text>
<line x1="174.1" y1="846.4" x2="174.1" y2="850.9" stroke="#000" stroke-width="1.2"/>
<text x="174.1" y="862.44" font-size="9" text-anchor="middle" fill="#111" stroke="#111" stroke-width="0.12">1500</text>
<line x1="217.6" y1="846.4" x2="217.6" y2="850.9" stroke="#000" stroke-width="1.2"/>
<text x="217.6" y="862.44" font-size="9" text-anchor="middle" fill="#111" stroke="#111" stroke-width="0.12">2000</text>
<text x="129" y="877.64" font-size="9" text-anchor="middle" fill="#111" stroke="#111" stroke-width="0.12">Days</text>
<text transform="translate(10,794.5) rotate(-90)" x="0" y="3.24" font-size="9" text-anchor="middle" fill="#111" stroke="#111" stroke-width="0.12">Probability of Survival</text>
<text x="87.4" y="722.24" font-size="9" text-anchor="start" fill="#111" stroke="#111" stroke-width="0.12">Head and Neck</text>
<line x1="52.4" y1="812" x2="66.4" y2="812" stroke="#2e6cc0" stroke-width="1.4"/>
<line x1="52.4" y1="830.4" x2="66.4" y2="830.4" stroke="#e8383b" stroke-width="1.4"/>
<text x="73.6" y="815.24" font-size="9" text-anchor="start" fill="#111" stroke="#111" stroke-width="0.12">Morning N=129</text>
<text x="73.6" y="833.64" font-size="9" text-anchor="start" fill="#111" stroke="#111" stroke-width="0.12">Afternoon N=147</text>
<path d="M152.4 812.4 H158.6 V831.4 H152.4" fill="none" stroke="#000" stroke-width="1.2"/>
<text x="162.4" y="827.24" font-size="9" text-anchor="start" fill="#111" stroke="#111" stroke-width="0.12">ns (p=0.8259)</text>
<path d="M43.6 722H46V724.49H48V726.35H50V729.46H52V731.33H55V734.07H58V737.05H62V739.04H64V743.02H66V745.01H68V748.12H70V750.99H72V753.97H75V756.46H77V760.07H78V762.06H82V763.55H84V766.04H88V768.03H92V769.02H96V770.02H100V772.01H106V773H112V774.99H115V776.98H118V779.97H134V782.96H156V787.56H193" fill="none" stroke="#e8383b" stroke-width="1.4"/>
<path d="M43.6 722H46V724.49H48V726.98H50V729.96H52V733.2H54V736.06H56V739.04H58V741.9H60V744.02H62V748.12H64V750.99H66V754.97H67V758.45H69V761.06H72V763.05H82V765.04H86V767.03H88V769.02H92V770.02H101V772.01H106V774.75H115V777.98H117V778.98H147V784.32H180V792.04H191.6" fill="none" stroke="#2e6cc0" stroke-width="1.4"/>
</svg></body></html>
